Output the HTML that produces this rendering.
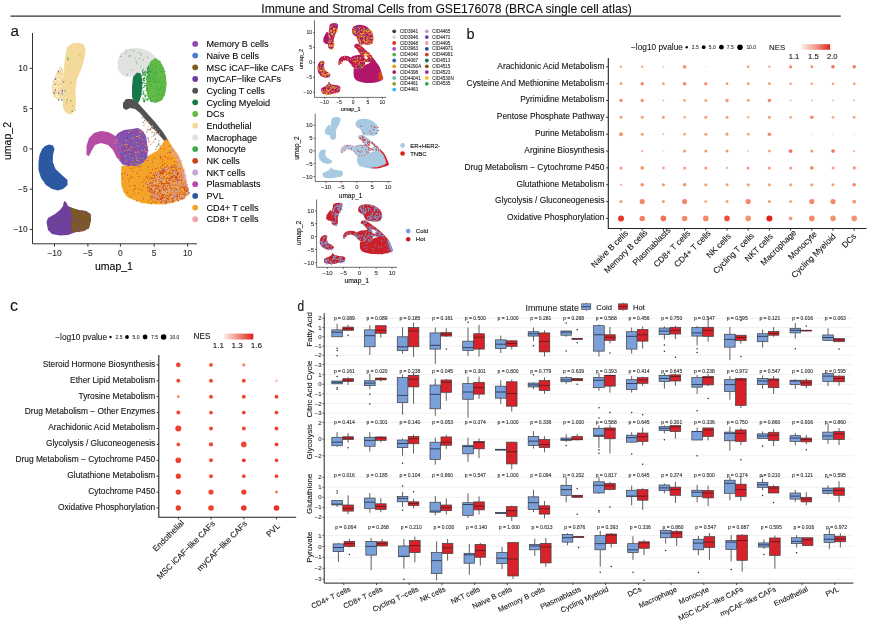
<!DOCTYPE html>
<html><head><meta charset="utf-8"><title>Immune and Stromal Cells from GSE176078</title>
<style>html,body{margin:0;padding:0;background:#fff;}svg{display:block;}
text{font-family:'Liberation Sans', Arial, Helvetica, sans-serif;stroke:#000;stroke-width:0.18px;stroke-opacity:0.45;}</style></head>
<body><svg width="869" height="624" viewBox="0 0 869 624">
<rect width="869" height="624" fill="#fff"/>
<defs><linearGradient id="gb" x1="0" x2="1" y1="0" y2="0"><stop offset="0" stop-color="#FDF0EA"/><stop offset="0.5" stop-color="#F29B8C"/><stop offset="1" stop-color="#E4241E"/></linearGradient><linearGradient id="gc" x1="0" x2="1" y1="0" y2="0"><stop offset="0" stop-color="#FDF0EA"/><stop offset="0.5" stop-color="#F08A7C"/><stop offset="1" stop-color="#E21F1D"/></linearGradient></defs>
<text x="446.6" y="12.6" font-size="12.15" text-anchor="middle" fill="#111">Immune and Stromal Cells from GSE176078 (BRCA single cell atlas)</text>
<path d="M10.4 16.2H840.8" stroke="#333" stroke-width="1.3"/>
<text transform="translate(10.5,35.9) scale(1,1)" font-size="15.2" fill="#111">a</text>
<text transform="translate(466.6,39.2) scale(0.97,1)" font-size="15.0" fill="#111">b</text>
<text transform="translate(9.9,311.3) scale(1,1)" font-size="16.0" fill="#111">c</text>
<text transform="translate(297.6,311.0) scale(0.8,1)" font-size="15.0" fill="#111">d</text>
<polygon points="67.0,47.0 72.0,43.5 78.0,42.8 83.0,44.0 85.5,48.0 85.0,54.0 83.5,62.0 81.0,70.0 77.0,79.0 75.5,90.0 76.0,102.0 75.0,110.0 71.0,114.5 66.0,113.0 63.0,108.0 62.5,96.0 63.0,80.0 64.5,62.0 66.0,52.0" fill="#F3DA9B"/>
<polygon points="60.5,66.0 63.5,70.0 63.5,100.0 58.0,99.5 54.0,97.0 51.8,92.0 52.0,84.0 54.0,78.0 57.0,72.0" fill="#F3DA9B"/>
<path d="M59.4 68.5h1.0v1.0h-1.0zM58.1 78.4h1.0v1.0h-1.0zM52.5 83.3h1.0v1.0h-1.0zM56.8 94.1h1.0v1.0h-1.0zM59.1 98.2h1.0v1.0h-1.0zM58.6 79.5h1.0v1.0h-1.0zM61.8 75.8h1.0v1.0h-1.0zM55.4 93.7h1.0v1.0h-1.0zM53.9 85.8h1.0v1.0h-1.0zM59.3 78.7h1.0v1.0h-1.0zM59.8 80.5h1.0v1.0h-1.0zM55.5 85.9h1.0v1.0h-1.0zM57.1 76.2h1.0v1.0h-1.0zM61.1 89.8h1.0v1.0h-1.0zM54.7 85.5h1.0v1.0h-1.0zM57.9 95.8h1.0v1.0h-1.0zM60.3 75.8h1.0v1.0h-1.0zM63.3 70.0h1.0v1.0h-1.0zM56.7 91.7h1.0v1.0h-1.0zM53.6 82.6h1.0v1.0h-1.0zM52.3 88.7h1.0v1.0h-1.0zM60.7 85.5h1.0v1.0h-1.0zM62.0 76.7h1.0v1.0h-1.0zM59.9 86.2h1.0v1.0h-1.0zM58.6 81.5h1.0v1.0h-1.0zM61.6 98.1h1.0v1.0h-1.0zM57.3 88.6h1.0v1.0h-1.0zM52.5 89.9h1.0v1.0h-1.0zM61.4 75.7h1.0v1.0h-1.0zM56.3 88.7h1.0v1.0h-1.0zM52.5 92.1h1.0v1.0h-1.0zM56.4 95.6h1.0v1.0h-1.0zM58.2 96.0h1.0v1.0h-1.0zM61.4 95.4h1.0v1.0h-1.0zM55.1 80.1h1.0v1.0h-1.0zM56.0 96.1h1.0v1.0h-1.0zM63.0 71.1h1.0v1.0h-1.0zM54.5 82.5h1.0v1.0h-1.0zM58.7 74.9h1.0v1.0h-1.0zM56.1 85.3h1.0v1.0h-1.0zM63.0 89.5h1.0v1.0h-1.0zM57.8 87.0h1.0v1.0h-1.0zM59.7 67.8h1.0v1.0h-1.0zM62.3 92.5h1.0v1.0h-1.0zM62.0 93.1h1.0v1.0h-1.0zM56.4 79.6h1.0v1.0h-1.0zM53.0 87.6h1.0v1.0h-1.0zM59.0 71.1h1.0v1.0h-1.0zM54.8 77.8h1.0v1.0h-1.0zM61.7 99.8h1.0v1.0h-1.0zM57.3 82.5h1.0v1.0h-1.0zM55.8 75.0h1.0v1.0h-1.0zM61.5 71.5h1.0v1.0h-1.0z" fill="#FFFFFF"/>
<path d="M58.0 71.0h1.2v1.2h-1.2zM58.0 99.3h1.2v1.2h-1.2zM61.9 89.7h1.2v1.2h-1.2zM54.9 78.5h1.2v1.2h-1.2zM53.8 92.2h1.2v1.2h-1.2zM58.0 92.5h1.2v1.2h-1.2zM61.3 99.5h1.2v1.2h-1.2zM61.8 93.4h1.2v1.2h-1.2z" fill="#2C58A2"/>
<path d="M61.4 91.2h1.2v1.2h-1.2zM54.5 83.6h1.2v1.2h-1.2zM54.8 89.5h1.2v1.2h-1.2zM63.0 81.2h1.2v1.2h-1.2z" fill="#B54CA6"/>
<path d="M67.6 59.1h1.2v1.2h-1.2zM67.0 57.5h1.2v1.2h-1.2zM64.4 90.2h1.2v1.2h-1.2zM66.6 99.4h1.2v1.2h-1.2zM70.1 100.2h1.2v1.2h-1.2zM71.7 110.7h1.2v1.2h-1.2z" fill="#3BAA4B"/>
<path d="M79.2 55.0h1.2v1.2h-1.2zM65.9 102.1h1.2v1.2h-1.2zM70.6 82.1h1.2v1.2h-1.2zM74.6 109.7h1.2v1.2h-1.2zM72.5 105.3h1.2v1.2h-1.2zM81.5 57.9h1.2v1.2h-1.2z" fill="#F4A424"/>
<polygon points="117.5,62.0 120.0,54.0 126.0,49.5 134.0,48.0 142.0,48.5 150.0,52.0 156.0,57.0 161.0,64.0 163.0,70.0 160.0,74.0 150.0,72.0 140.0,73.0 133.0,76.0 126.0,77.0 121.0,74.0 118.0,69.0" fill="#E1E1E1"/>
<polygon points="150.0,62.0 155.0,58.0 160.0,61.0 164.0,68.0 166.0,76.0 166.5,85.0 165.0,95.0 161.0,101.0 155.0,103.0 150.0,101.0 147.0,95.0 146.0,85.0 147.0,75.0 148.0,68.0" fill="#63BA47"/>
<path d="M151.2 71.2h1v1h-1zM150.9 84.4h1v1h-1zM151.3 76.9h1v1h-1zM153.3 78.6h1v1h-1zM158.0 98.7h1v1h-1zM154.6 99.3h1v1h-1zM156.3 81.9h1v1h-1zM155.0 66.2h1v1h-1zM149.5 79.3h1v1h-1zM160.9 83.0h1v1h-1zM152.7 81.3h1v1h-1zM157.4 93.3h1v1h-1zM148.2 83.2h1v1h-1zM151.1 70.5h1v1h-1zM161.8 80.8h1v1h-1zM157.5 92.2h1v1h-1zM164.7 77.9h1v1h-1zM158.6 80.7h1v1h-1zM156.5 89.2h1v1h-1zM155.3 82.0h1v1h-1zM155.8 100.4h1v1h-1zM160.3 97.4h1v1h-1zM157.5 100.4h1v1h-1zM148.5 77.9h1v1h-1zM147.5 88.1h1v1h-1zM162.1 98.4h1v1h-1zM149.2 90.2h1v1h-1zM159.5 64.4h1v1h-1zM150.5 100.9h1v1h-1zM154.2 79.9h1v1h-1zM149.3 77.4h1v1h-1zM156.6 73.3h1v1h-1zM150.0 72.3h1v1h-1zM157.4 77.8h1v1h-1zM158.8 81.1h1v1h-1zM148.1 70.0h1v1h-1zM146.8 93.1h1v1h-1zM151.5 63.8h1v1h-1zM154.7 99.0h1v1h-1zM162.8 69.6h1v1h-1zM157.7 89.5h1v1h-1zM160.1 77.1h1v1h-1zM159.0 94.1h1v1h-1zM155.3 73.3h1v1h-1zM157.3 99.7h1v1h-1zM151.5 63.8h1v1h-1zM156.8 68.7h1v1h-1zM152.4 71.7h1v1h-1zM161.6 71.0h1v1h-1zM156.3 66.0h1v1h-1zM161.0 82.8h1v1h-1zM149.9 79.4h1v1h-1zM162.8 77.4h1v1h-1zM156.1 95.6h1v1h-1zM154.1 80.8h1v1h-1zM153.0 95.5h1v1h-1zM160.5 86.6h1v1h-1zM154.3 73.6h1v1h-1zM147.4 91.3h1v1h-1zM151.2 65.3h1v1h-1zM147.7 95.9h1v1h-1zM163.8 88.2h1v1h-1zM151.8 68.9h1v1h-1zM152.0 78.7h1v1h-1zM149.2 78.1h1v1h-1zM151.4 101.3h1v1h-1zM165.9 82.6h1v1h-1zM152.3 74.0h1v1h-1zM155.7 80.6h1v1h-1zM150.1 80.7h1v1h-1zM147.8 76.0h1v1h-1zM152.2 68.5h1v1h-1zM158.0 81.8h1v1h-1zM161.4 87.6h1v1h-1zM160.7 97.6h1v1h-1zM154.0 72.7h1v1h-1zM160.8 86.9h1v1h-1zM164.3 86.2h1v1h-1zM161.0 94.5h1v1h-1zM148.9 81.6h1v1h-1zM156.3 95.6h1v1h-1zM162.5 95.2h1v1h-1zM158.0 98.2h1v1h-1zM160.0 89.2h1v1h-1zM148.7 74.2h1v1h-1zM148.2 95.6h1v1h-1zM157.4 86.2h1v1h-1zM158.8 88.6h1v1h-1zM162.4 91.7h1v1h-1zM156.3 82.1h1v1h-1zM159.5 61.0h1v1h-1zM161.1 69.3h1v1h-1zM161.0 67.2h1v1h-1zM156.1 75.2h1v1h-1zM155.8 88.8h1v1h-1zM161.7 85.8h1v1h-1zM159.2 61.5h1v1h-1zM149.0 69.4h1v1h-1zM161.2 71.7h1v1h-1zM159.8 89.1h1v1h-1zM159.9 71.1h1v1h-1zM156.6 78.9h1v1h-1zM155.6 63.3h1v1h-1zM155.2 70.1h1v1h-1zM150.3 100.6h1v1h-1zM150.3 84.2h1v1h-1zM148.9 81.6h1v1h-1zM162.8 80.9h1v1h-1zM164.2 89.7h1v1h-1zM150.7 98.4h1v1h-1zM156.0 59.1h1v1h-1zM155.2 71.6h1v1h-1zM148.9 73.5h1v1h-1zM152.5 95.8h1v1h-1zM165.0 90.1h1v1h-1zM164.5 71.0h1v1h-1zM153.6 75.7h1v1h-1zM153.4 77.3h1v1h-1zM148.1 95.6h1v1h-1zM151.9 100.1h1v1h-1z" fill="#3BAA4B"/>
<path d="M128.8 55.7h1v1h-1zM140.7 53.5h1v1h-1zM157.7 71.5h1v1h-1zM160.3 63.9h1v1h-1zM150.8 61.1h1v1h-1zM151.7 66.7h1v1h-1zM130.5 49.4h1v1h-1zM139.0 58.0h1v1h-1zM131.0 69.4h1v1h-1zM147.3 56.7h1v1h-1zM142.9 59.4h1v1h-1zM125.1 52.7h1v1h-1zM127.0 74.3h1v1h-1zM140.1 54.4h1v1h-1zM138.0 52.0h1v1h-1zM126.3 50.6h1v1h-1zM133.1 50.6h1v1h-1zM128.4 55.5h1v1h-1zM151.6 60.0h1v1h-1zM136.3 63.2h1v1h-1zM134.6 57.8h1v1h-1zM120.3 56.0h1v1h-1zM140.4 66.3h1v1h-1zM129.8 55.2h1v1h-1zM135.7 60.9h1v1h-1z" fill="#63BA47"/>
<path d="M144.5 99.2h1.1v1.1h-1.1zM142.0 69.9h1.1v1.1h-1.1zM145.7 89.9h1.1v1.1h-1.1zM146.8 93.1h1.1v1.1h-1.1zM145.1 85.0h1.1v1.1h-1.1zM141.4 93.7h1.1v1.1h-1.1zM143.1 99.0h1.1v1.1h-1.1zM146.8 75.5h1.1v1.1h-1.1zM142.2 73.6h1.1v1.1h-1.1zM146.7 90.5h1.1v1.1h-1.1zM145.7 86.1h1.1v1.1h-1.1zM144.5 72.5h1.1v1.1h-1.1zM143.7 81.5h1.1v1.1h-1.1zM143.1 73.4h1.1v1.1h-1.1zM145.5 89.6h1.1v1.1h-1.1zM144.8 73.8h1.1v1.1h-1.1zM147.0 99.2h1.1v1.1h-1.1zM144.0 80.0h1.1v1.1h-1.1zM147.1 71.5h1.1v1.1h-1.1zM145.5 71.8h1.1v1.1h-1.1zM148.4 72.8h1.1v1.1h-1.1zM143.0 92.9h1.1v1.1h-1.1zM143.7 100.2h1.1v1.1h-1.1zM145.5 71.1h1.1v1.1h-1.1zM143.0 79.8h1.1v1.1h-1.1zM147.0 100.1h1.1v1.1h-1.1zM142.3 79.0h1.1v1.1h-1.1zM142.9 101.0h1.1v1.1h-1.1zM142.7 99.6h1.1v1.1h-1.1zM147.7 65.2h1.1v1.1h-1.1zM147.0 78.4h1.1v1.1h-1.1zM144.4 76.6h1.1v1.1h-1.1zM143.5 77.4h1.1v1.1h-1.1zM144.2 95.2h1.1v1.1h-1.1zM144.4 98.9h1.1v1.1h-1.1zM142.7 77.8h1.1v1.1h-1.1zM144.7 94.8h1.1v1.1h-1.1zM147.9 65.5h1.1v1.1h-1.1zM147.7 98.1h1.1v1.1h-1.1zM144.1 74.3h1.1v1.1h-1.1zM143.4 91.2h1.1v1.1h-1.1zM143.8 74.5h1.1v1.1h-1.1zM143.1 82.1h1.1v1.1h-1.1zM144.5 73.5h1.1v1.1h-1.1zM144.9 82.8h1.1v1.1h-1.1z" fill="#63BA47"/>
<path d="M149.4 71.0h1.1v1.1h-1.1zM146.5 76.5h1.1v1.1h-1.1zM143.9 77.8h1.1v1.1h-1.1zM148.0 67.0h1.1v1.1h-1.1zM142.8 92.6h1.1v1.1h-1.1zM143.9 101.2h1.1v1.1h-1.1zM141.9 82.9h1.1v1.1h-1.1zM147.4 81.0h1.1v1.1h-1.1zM143.1 79.8h1.1v1.1h-1.1zM146.6 89.6h1.1v1.1h-1.1zM147.0 68.6h1.1v1.1h-1.1zM148.6 75.2h1.1v1.1h-1.1zM146.1 78.2h1.1v1.1h-1.1zM147.6 71.6h1.1v1.1h-1.1zM143.2 73.3h1.1v1.1h-1.1zM142.4 97.6h1.1v1.1h-1.1zM146.2 76.4h1.1v1.1h-1.1zM145.6 72.8h1.1v1.1h-1.1zM145.3 95.1h1.1v1.1h-1.1zM141.4 75.2h1.1v1.1h-1.1zM142.1 71.2h1.1v1.1h-1.1zM143.3 93.6h1.1v1.1h-1.1zM146.4 87.6h1.1v1.1h-1.1zM143.0 78.0h1.1v1.1h-1.1zM142.3 71.8h1.1v1.1h-1.1zM143.3 86.8h1.1v1.1h-1.1zM146.9 71.7h1.1v1.1h-1.1zM147.1 71.0h1.1v1.1h-1.1zM143.8 71.7h1.1v1.1h-1.1zM144.6 84.9h1.1v1.1h-1.1zM146.8 67.5h1.1v1.1h-1.1zM142.5 90.4h1.1v1.1h-1.1zM144.7 74.8h1.1v1.1h-1.1zM143.8 100.2h1.1v1.1h-1.1zM143.8 85.5h1.1v1.1h-1.1z" fill="#17794A"/>
<path d="M144.2 79.8h1.1v1.1h-1.1zM144.3 71.5h1.1v1.1h-1.1zM147.6 71.7h1.1v1.1h-1.1zM144.8 95.2h1.1v1.1h-1.1zM144.7 97.5h1.1v1.1h-1.1zM145.1 70.2h1.1v1.1h-1.1zM146.8 98.6h1.1v1.1h-1.1zM141.8 87.6h1.1v1.1h-1.1zM144.3 83.2h1.1v1.1h-1.1zM142.3 74.8h1.1v1.1h-1.1zM145.7 99.2h1.1v1.1h-1.1zM142.0 82.6h1.1v1.1h-1.1zM142.8 68.8h1.1v1.1h-1.1zM148.4 70.1h1.1v1.1h-1.1zM148.1 72.4h1.1v1.1h-1.1zM144.6 96.2h1.1v1.1h-1.1zM148.5 71.0h1.1v1.1h-1.1zM143.0 79.2h1.1v1.1h-1.1zM145.7 78.6h1.1v1.1h-1.1zM142.1 73.4h1.1v1.1h-1.1zM147.5 98.1h1.1v1.1h-1.1zM147.8 65.4h1.1v1.1h-1.1zM148.5 68.5h1.1v1.1h-1.1zM146.4 84.9h1.1v1.1h-1.1zM146.6 75.6h1.1v1.1h-1.1z" fill="#3BAA4B"/>
<polygon points="133.0,77.0 137.0,72.5 141.0,73.5 142.5,82.0 141.5,95.0 139.0,102.0 135.0,104.0 132.0,97.0 132.0,86.0" fill="#17794A"/>
<polygon points="123.0,103.0 126.0,99.0 132.0,99.0 138.0,103.0 146.0,112.0 155.0,122.0 163.0,132.0 168.0,140.0 166.0,143.0 160.0,136.0 152.0,127.0 145.0,119.0 140.0,113.0 135.0,109.0 130.0,108.0 126.0,110.0 123.0,108.0" fill="#525252"/>
<polygon points="121.5,166.0 128.0,165.0 136.0,166.0 143.0,163.0 148.0,156.0 153.0,153.0 157.0,151.0 161.0,146.0 164.0,141.0 167.0,139.0 170.0,143.0 174.0,149.0 178.0,155.0 181.0,161.0 184.0,170.0 186.0,180.0 188.0,188.0 189.5,193.0 186.0,197.0 180.0,200.0 172.0,203.0 162.0,204.5 150.0,204.0 142.0,203.0 134.0,200.0 128.0,197.5 124.0,193.0 121.5,186.0 121.0,176.0" fill="#F4A424"/>
<polygon points="114.0,138.0 118.0,133.0 124.0,130.0 132.0,129.0 138.0,128.0 143.0,131.0 146.0,136.0 147.0,142.0 148.0,150.0 147.0,158.0 143.0,163.0 136.0,166.0 128.0,166.0 122.0,164.0 117.0,157.0 115.0,148.0" fill="#8E4CAA"/>
<polygon points="86.5,155.0 86.5,146.0 89.0,138.0 94.0,133.0 101.0,131.0 108.0,132.0 114.0,135.0 118.0,139.0 121.0,146.0 122.0,155.0 120.0,160.0 117.0,158.0 113.0,150.0 108.0,145.0 101.0,143.0 95.0,145.0 92.0,150.0 89.0,156.0" fill="#B54CA6"/>
<path d="M128.3 150.1h1v1h-1zM128.5 153.0h1v1h-1zM129.2 144.7h1v1h-1zM130.6 136.9h1v1h-1zM140.0 157.6h1v1h-1zM129.6 134.8h1v1h-1zM130.1 132.1h1v1h-1zM118.4 144.4h1v1h-1zM117.1 144.8h1v1h-1zM131.3 129.5h1v1h-1zM135.6 131.1h1v1h-1zM138.9 157.6h1v1h-1zM131.4 130.1h1v1h-1zM131.1 142.4h1v1h-1zM138.9 159.0h1v1h-1zM130.7 164.4h1v1h-1zM140.8 163.4h1v1h-1zM116.2 141.3h1v1h-1zM139.7 134.0h1v1h-1zM144.5 138.4h1v1h-1zM141.7 133.5h1v1h-1zM131.1 163.0h1v1h-1zM121.1 138.0h1v1h-1zM131.2 140.1h1v1h-1zM137.1 162.0h1v1h-1zM119.7 157.8h1v1h-1zM117.9 148.2h1v1h-1zM135.6 141.7h1v1h-1zM143.7 149.1h1v1h-1zM133.7 161.5h1v1h-1zM135.4 143.0h1v1h-1zM141.1 138.1h1v1h-1zM147.7 149.9h1v1h-1zM126.2 157.1h1v1h-1zM129.0 134.7h1v1h-1zM139.3 129.8h1v1h-1zM141.9 137.6h1v1h-1zM135.7 165.4h1v1h-1zM133.9 153.2h1v1h-1zM134.9 144.4h1v1h-1zM131.4 162.0h1v1h-1zM118.5 136.6h1v1h-1zM136.2 128.8h1v1h-1zM117.6 141.6h1v1h-1zM121.6 150.2h1v1h-1zM134.0 135.8h1v1h-1zM135.2 146.0h1v1h-1zM122.3 133.7h1v1h-1zM117.3 152.3h1v1h-1zM143.6 157.7h1v1h-1zM127.7 138.0h1v1h-1zM133.1 141.3h1v1h-1zM136.0 144.9h1v1h-1zM145.9 155.9h1v1h-1zM122.4 162.3h1v1h-1zM115.5 148.2h1v1h-1zM127.8 137.0h1v1h-1zM120.8 151.1h1v1h-1zM131.2 152.4h1v1h-1zM141.7 134.6h1v1h-1zM124.5 139.4h1v1h-1zM140.6 155.2h1v1h-1zM139.3 145.7h1v1h-1zM139.2 145.2h1v1h-1zM121.7 132.0h1v1h-1zM125.4 156.5h1v1h-1zM137.6 160.1h1v1h-1zM138.2 138.1h1v1h-1zM132.8 144.6h1v1h-1zM140.8 147.9h1v1h-1zM123.0 152.4h1v1h-1zM122.9 137.0h1v1h-1zM139.3 163.9h1v1h-1zM139.4 140.4h1v1h-1zM143.9 140.5h1v1h-1zM122.1 162.5h1v1h-1zM135.4 154.3h1v1h-1zM136.6 165.2h1v1h-1zM130.0 159.9h1v1h-1zM137.7 160.6h1v1h-1zM128.9 155.5h1v1h-1zM133.4 139.7h1v1h-1zM121.2 151.7h1v1h-1zM125.7 133.4h1v1h-1zM137.5 152.1h1v1h-1zM137.7 156.0h1v1h-1zM116.2 150.4h1v1h-1zM126.4 159.1h1v1h-1zM141.9 161.9h1v1h-1zM117.6 135.8h1v1h-1zM142.8 158.9h1v1h-1zM135.6 159.4h1v1h-1zM135.5 138.9h1v1h-1zM139.8 135.8h1v1h-1zM124.9 144.1h1v1h-1zM114.7 137.8h1v1h-1zM123.6 155.2h1v1h-1zM126.5 140.2h1v1h-1zM146.8 147.1h1v1h-1zM142.9 151.5h1v1h-1zM115.1 143.7h1v1h-1zM128.8 157.4h1v1h-1zM125.8 154.8h1v1h-1zM132.3 136.2h1v1h-1zM141.9 134.5h1v1h-1zM130.7 158.3h1v1h-1zM120.3 146.8h1v1h-1zM125.8 159.6h1v1h-1zM122.9 163.9h1v1h-1zM123.6 136.2h1v1h-1zM137.8 146.9h1v1h-1zM117.7 152.2h1v1h-1zM137.7 157.9h1v1h-1zM135.3 141.5h1v1h-1zM127.6 143.0h1v1h-1zM121.0 138.0h1v1h-1zM144.6 147.0h1v1h-1zM126.9 161.6h1v1h-1zM121.9 145.5h1v1h-1zM132.1 156.7h1v1h-1zM139.6 152.6h1v1h-1zM125.8 140.4h1v1h-1zM119.3 160.0h1v1h-1zM136.5 156.2h1v1h-1zM119.8 144.7h1v1h-1zM140.3 150.0h1v1h-1zM118.3 145.6h1v1h-1zM144.1 137.0h1v1h-1zM120.5 139.5h1v1h-1zM137.9 160.1h1v1h-1zM119.3 133.9h1v1h-1zM122.4 140.4h1v1h-1zM131.8 134.1h1v1h-1zM125.2 135.2h1v1h-1zM147.2 155.7h1v1h-1zM117.5 142.6h1v1h-1zM138.9 144.5h1v1h-1zM120.7 152.2h1v1h-1zM117.6 135.8h1v1h-1zM127.6 158.1h1v1h-1zM137.6 147.0h1v1h-1zM135.5 145.6h1v1h-1zM118.8 150.9h1v1h-1zM127.8 156.2h1v1h-1zM144.9 144.3h1v1h-1zM133.5 156.5h1v1h-1zM128.3 136.7h1v1h-1zM138.6 161.4h1v1h-1zM140.3 154.6h1v1h-1zM143.0 153.8h1v1h-1z" fill="#4E7CC5"/>
<path d="M135.8 145.2h1v1h-1zM124.6 151.9h1v1h-1zM117.3 143.9h1v1h-1zM140.6 155.1h1v1h-1zM135.4 137.5h1v1h-1zM128.4 145.3h1v1h-1zM135.1 143.6h1v1h-1zM137.0 163.3h1v1h-1zM120.2 152.9h1v1h-1zM140.5 142.8h1v1h-1zM130.7 165.0h1v1h-1zM115.3 148.6h1v1h-1zM119.5 157.7h1v1h-1zM146.0 147.7h1v1h-1zM117.4 149.8h1v1h-1zM132.4 155.3h1v1h-1zM131.4 152.3h1v1h-1zM142.2 147.8h1v1h-1zM128.0 164.0h1v1h-1zM121.1 154.0h1v1h-1zM127.3 157.0h1v1h-1zM126.1 130.2h1v1h-1zM123.3 143.2h1v1h-1zM128.3 154.5h1v1h-1zM126.0 138.1h1v1h-1zM121.6 156.2h1v1h-1zM146.0 148.0h1v1h-1zM121.4 158.5h1v1h-1zM127.3 136.1h1v1h-1zM118.4 157.5h1v1h-1zM141.5 152.1h1v1h-1zM130.0 149.4h1v1h-1zM126.0 152.3h1v1h-1zM141.8 159.0h1v1h-1zM129.9 139.2h1v1h-1zM132.6 132.8h1v1h-1zM142.3 141.5h1v1h-1zM142.9 138.2h1v1h-1zM126.8 137.6h1v1h-1zM128.5 135.1h1v1h-1zM123.6 137.3h1v1h-1zM124.3 146.2h1v1h-1zM128.6 152.2h1v1h-1zM136.4 141.8h1v1h-1zM144.8 157.8h1v1h-1zM135.5 128.6h1v1h-1zM136.3 137.5h1v1h-1zM121.9 157.5h1v1h-1zM125.8 133.8h1v1h-1zM144.7 158.1h1v1h-1zM134.7 157.7h1v1h-1zM136.7 162.0h1v1h-1zM140.8 159.9h1v1h-1zM120.7 154.3h1v1h-1zM132.0 156.2h1v1h-1zM128.9 161.5h1v1h-1zM132.9 138.1h1v1h-1zM122.0 133.3h1v1h-1zM130.8 130.2h1v1h-1zM129.9 133.5h1v1h-1z" fill="#6F3FA0"/>
<path d="M130.7 146.9h1v1h-1zM132.3 160.8h1v1h-1zM129.9 149.4h1v1h-1zM136.6 159.9h1v1h-1zM126.7 143.9h1v1h-1zM135.7 152.2h1v1h-1zM137.2 163.4h1v1h-1zM131.4 146.4h1v1h-1zM138.4 151.8h1v1h-1zM125.5 160.7h1v1h-1zM126.4 146.0h1v1h-1zM131.9 157.3h1v1h-1zM121.2 144.5h1v1h-1zM128.4 149.1h1v1h-1zM142.1 139.1h1v1h-1zM142.1 143.3h1v1h-1zM131.1 138.3h1v1h-1zM131.2 165.0h1v1h-1zM136.3 158.1h1v1h-1zM125.3 140.0h1v1h-1zM124.2 150.3h1v1h-1zM135.6 157.8h1v1h-1zM144.1 148.7h1v1h-1zM115.7 139.4h1v1h-1zM145.3 151.1h1v1h-1zM136.4 158.0h1v1h-1zM144.9 151.2h1v1h-1zM135.0 151.8h1v1h-1zM137.7 150.7h1v1h-1zM137.2 136.1h1v1h-1zM136.7 145.4h1v1h-1zM139.9 131.9h1v1h-1zM140.3 162.7h1v1h-1zM136.3 142.0h1v1h-1zM142.0 157.9h1v1h-1zM133.1 137.8h1v1h-1zM124.3 144.0h1v1h-1zM124.8 144.4h1v1h-1zM135.8 163.5h1v1h-1zM115.9 149.6h1v1h-1zM141.6 149.9h1v1h-1zM145.2 145.0h1v1h-1zM114.5 142.7h1v1h-1zM134.1 163.6h1v1h-1zM147.3 146.1h1v1h-1zM128.0 131.9h1v1h-1zM135.9 136.1h1v1h-1zM138.5 137.2h1v1h-1zM138.9 135.1h1v1h-1zM138.3 160.5h1v1h-1zM138.8 131.2h1v1h-1zM135.4 155.0h1v1h-1zM129.7 163.4h1v1h-1zM138.4 128.4h1v1h-1zM141.8 131.0h1v1h-1zM124.6 155.7h1v1h-1zM130.5 130.3h1v1h-1zM126.5 149.8h1v1h-1zM128.9 153.7h1v1h-1zM118.9 158.3h1v1h-1z" fill="#F4A424"/>
<path d="M145.9 181.2h1v1h-1zM164.1 166.4h1v1h-1zM147.4 190.5h1v1h-1zM185.7 190.4h1v1h-1zM159.8 158.2h1v1h-1zM169.2 193.2h1v1h-1zM143.7 178.7h1v1h-1zM188.0 193.4h1v1h-1zM162.2 159.2h1v1h-1zM150.4 197.2h1v1h-1zM146.8 183.9h1v1h-1zM162.2 197.7h1v1h-1zM176.3 157.6h1v1h-1zM149.9 177.4h1v1h-1zM176.9 197.1h1v1h-1zM176.6 195.8h1v1h-1zM160.2 156.9h1v1h-1zM179.3 191.9h1v1h-1zM167.9 198.9h1v1h-1zM158.9 191.2h1v1h-1zM134.7 188.1h1v1h-1zM162.6 183.4h1v1h-1zM138.4 188.2h1v1h-1zM175.2 169.1h1v1h-1zM127.0 191.8h1v1h-1zM173.9 154.3h1v1h-1zM160.7 197.7h1v1h-1zM181.6 173.2h1v1h-1zM153.6 177.6h1v1h-1zM133.4 184.9h1v1h-1zM145.9 176.0h1v1h-1zM148.6 172.9h1v1h-1zM128.3 180.4h1v1h-1zM161.9 161.6h1v1h-1zM180.3 170.9h1v1h-1zM159.9 156.1h1v1h-1zM174.4 166.9h1v1h-1zM185.8 189.3h1v1h-1zM159.2 196.0h1v1h-1zM152.4 201.0h1v1h-1zM162.0 165.0h1v1h-1zM138.6 176.0h1v1h-1zM164.9 201.6h1v1h-1zM166.9 164.7h1v1h-1zM182.8 198.2h1v1h-1zM174.9 185.5h1v1h-1zM165.3 203.5h1v1h-1zM172.7 200.5h1v1h-1zM167.4 158.6h1v1h-1zM161.5 188.6h1v1h-1zM167.4 139.8h1v1h-1zM170.1 151.8h1v1h-1zM136.1 200.2h1v1h-1zM180.4 197.2h1v1h-1zM130.6 168.3h1v1h-1zM178.7 180.2h1v1h-1zM152.0 161.3h1v1h-1zM177.4 170.3h1v1h-1zM164.0 148.4h1v1h-1zM169.9 175.2h1v1h-1zM130.9 196.0h1v1h-1zM139.2 166.0h1v1h-1zM178.5 160.9h1v1h-1zM132.5 171.2h1v1h-1zM142.8 198.2h1v1h-1zM166.8 152.8h1v1h-1zM153.7 157.7h1v1h-1zM170.8 158.2h1v1h-1zM176.3 161.3h1v1h-1zM178.0 173.5h1v1h-1zM133.7 167.5h1v1h-1zM160.1 148.0h1v1h-1zM133.3 189.5h1v1h-1zM169.7 151.9h1v1h-1zM162.7 171.5h1v1h-1zM163.0 185.4h1v1h-1zM176.6 177.2h1v1h-1zM171.2 165.7h1v1h-1zM176.5 161.0h1v1h-1zM178.7 195.6h1v1h-1zM183.3 170.2h1v1h-1zM133.7 193.5h1v1h-1zM146.4 178.0h1v1h-1zM121.3 173.0h1v1h-1zM151.5 172.8h1v1h-1zM129.3 185.8h1v1h-1zM176.9 195.7h1v1h-1zM143.0 185.6h1v1h-1zM147.1 188.2h1v1h-1zM156.2 173.7h1v1h-1zM138.2 192.5h1v1h-1zM168.9 151.8h1v1h-1zM122.2 178.3h1v1h-1zM160.5 173.3h1v1h-1zM169.1 145.7h1v1h-1zM180.6 186.0h1v1h-1zM154.8 171.8h1v1h-1zM161.5 195.4h1v1h-1zM131.1 176.5h1v1h-1zM172.1 149.8h1v1h-1zM177.6 200.4h1v1h-1zM147.6 166.5h1v1h-1zM178.5 173.4h1v1h-1zM148.1 200.7h1v1h-1zM174.2 161.2h1v1h-1zM150.8 203.3h1v1h-1zM176.1 198.8h1v1h-1zM176.8 194.5h1v1h-1zM124.7 172.9h1v1h-1zM138.1 166.6h1v1h-1zM164.3 162.9h1v1h-1zM150.7 172.1h1v1h-1zM187.4 189.9h1v1h-1zM185.2 180.5h1v1h-1zM176.4 196.9h1v1h-1zM164.9 156.4h1v1h-1zM167.5 156.9h1v1h-1zM158.1 199.5h1v1h-1zM163.6 155.4h1v1h-1zM156.6 167.4h1v1h-1zM141.9 181.4h1v1h-1zM129.2 177.9h1v1h-1zM139.4 169.6h1v1h-1zM141.1 165.6h1v1h-1zM127.0 174.8h1v1h-1zM178.5 179.0h1v1h-1zM160.1 181.6h1v1h-1zM134.8 185.5h1v1h-1zM152.6 174.9h1v1h-1zM163.0 169.7h1v1h-1zM136.2 172.6h1v1h-1zM147.2 177.4h1v1h-1zM159.1 171.2h1v1h-1zM141.2 189.6h1v1h-1zM180.7 167.8h1v1h-1zM151.1 187.2h1v1h-1zM186.7 187.4h1v1h-1zM145.1 183.2h1v1h-1zM163.2 194.7h1v1h-1zM177.3 172.9h1v1h-1zM171.6 187.7h1v1h-1zM173.0 170.1h1v1h-1zM174.8 185.4h1v1h-1zM173.4 177.4h1v1h-1zM155.1 202.1h1v1h-1zM160.2 166.4h1v1h-1zM174.7 196.2h1v1h-1zM162.6 163.9h1v1h-1zM152.0 169.0h1v1h-1zM170.5 158.2h1v1h-1zM147.8 175.4h1v1h-1zM147.3 160.1h1v1h-1zM174.9 194.6h1v1h-1zM155.2 168.1h1v1h-1zM130.9 176.7h1v1h-1zM178.8 193.9h1v1h-1zM150.2 198.6h1v1h-1zM159.7 171.6h1v1h-1zM184.0 189.7h1v1h-1zM156.4 172.9h1v1h-1z" fill="#C9431F"/>
<path d="M175.8 178.6h1.0v1.0h-1.0zM162.0 186.8h1.0v1.0h-1.0zM161.7 200.9h1.0v1.0h-1.0zM175.4 184.0h1.0v1.0h-1.0zM151.2 178.0h1.0v1.0h-1.0zM163.8 185.5h1.0v1.0h-1.0zM171.1 198.2h1.0v1.0h-1.0zM165.5 188.0h1.0v1.0h-1.0zM169.3 195.6h1.0v1.0h-1.0zM154.2 175.7h1.0v1.0h-1.0zM168.5 167.4h1.0v1.0h-1.0zM184.6 190.6h1.0v1.0h-1.0zM184.3 179.8h1.0v1.0h-1.0zM153.6 174.6h1.0v1.0h-1.0zM168.5 183.2h1.0v1.0h-1.0zM173.5 187.1h1.0v1.0h-1.0zM173.7 164.7h1.0v1.0h-1.0zM164.3 194.5h1.0v1.0h-1.0zM159.9 190.6h1.0v1.0h-1.0zM182.4 186.4h1.0v1.0h-1.0zM175.1 170.9h1.0v1.0h-1.0zM167.9 185.1h1.0v1.0h-1.0zM158.2 188.9h1.0v1.0h-1.0zM171.1 179.4h1.0v1.0h-1.0zM178.9 167.3h1.0v1.0h-1.0zM168.9 195.9h1.0v1.0h-1.0zM172.7 195.3h1.0v1.0h-1.0zM179.4 175.9h1.0v1.0h-1.0zM177.0 177.2h1.0v1.0h-1.0zM171.5 177.0h1.0v1.0h-1.0zM165.9 178.4h1.0v1.0h-1.0zM171.5 201.4h1.0v1.0h-1.0zM165.5 187.8h1.0v1.0h-1.0zM160.2 199.0h1.0v1.0h-1.0zM181.3 175.1h1.0v1.0h-1.0zM172.3 201.4h1.0v1.0h-1.0zM167.8 201.0h1.0v1.0h-1.0zM157.2 178.6h1.0v1.0h-1.0zM177.2 171.9h1.0v1.0h-1.0zM160.0 198.0h1.0v1.0h-1.0zM167.3 194.7h1.0v1.0h-1.0zM162.1 170.5h1.0v1.0h-1.0zM170.6 167.6h1.0v1.0h-1.0zM169.4 178.4h1.0v1.0h-1.0zM152.2 196.0h1.0v1.0h-1.0zM161.8 172.8h1.0v1.0h-1.0zM155.0 174.3h1.0v1.0h-1.0zM174.9 176.7h1.0v1.0h-1.0zM153.5 191.2h1.0v1.0h-1.0zM165.6 196.5h1.0v1.0h-1.0zM161.8 191.9h1.0v1.0h-1.0zM162.8 201.3h1.0v1.0h-1.0zM155.7 201.0h1.0v1.0h-1.0zM168.2 172.1h1.0v1.0h-1.0zM166.0 168.2h1.0v1.0h-1.0zM176.7 173.4h1.0v1.0h-1.0zM184.8 186.5h1.0v1.0h-1.0zM162.5 172.9h1.0v1.0h-1.0zM172.5 171.5h1.0v1.0h-1.0zM168.5 184.7h1.0v1.0h-1.0zM158.4 193.9h1.0v1.0h-1.0zM163.2 189.3h1.0v1.0h-1.0zM170.8 175.4h1.0v1.0h-1.0zM154.4 197.0h1.0v1.0h-1.0zM160.5 189.5h1.0v1.0h-1.0zM151.6 185.5h1.0v1.0h-1.0zM162.2 183.0h1.0v1.0h-1.0zM160.1 172.1h1.0v1.0h-1.0zM152.3 191.7h1.0v1.0h-1.0zM158.9 179.1h1.0v1.0h-1.0zM185.2 194.0h1.0v1.0h-1.0zM184.1 197.5h1.0v1.0h-1.0zM148.2 190.2h1.0v1.0h-1.0zM174.9 177.1h1.0v1.0h-1.0zM164.3 189.4h1.0v1.0h-1.0zM176.4 172.9h1.0v1.0h-1.0zM182.6 177.1h1.0v1.0h-1.0zM173.4 170.3h1.0v1.0h-1.0zM177.8 191.5h1.0v1.0h-1.0zM159.7 178.2h1.0v1.0h-1.0zM173.8 170.2h1.0v1.0h-1.0zM182.3 185.8h1.0v1.0h-1.0zM177.1 173.2h1.0v1.0h-1.0zM165.3 190.4h1.0v1.0h-1.0zM182.0 194.1h1.0v1.0h-1.0zM182.9 187.3h1.0v1.0h-1.0zM151.7 194.7h1.0v1.0h-1.0zM155.8 199.6h1.0v1.0h-1.0zM176.2 178.7h1.0v1.0h-1.0zM178.4 196.1h1.0v1.0h-1.0zM186.1 190.7h1.0v1.0h-1.0zM178.0 196.2h1.0v1.0h-1.0zM173.4 181.1h1.0v1.0h-1.0zM149.3 190.9h1.0v1.0h-1.0zM165.0 183.5h1.0v1.0h-1.0zM176.5 195.2h1.0v1.0h-1.0zM158.0 184.9h1.0v1.0h-1.0zM187.7 188.5h1.0v1.0h-1.0zM169.8 173.0h1.0v1.0h-1.0zM164.3 171.1h1.0v1.0h-1.0zM176.7 189.8h1.0v1.0h-1.0zM157.0 172.7h1.0v1.0h-1.0zM168.6 180.8h1.0v1.0h-1.0zM159.6 198.4h1.0v1.0h-1.0zM153.0 185.5h1.0v1.0h-1.0zM161.0 195.6h1.0v1.0h-1.0zM170.0 193.4h1.0v1.0h-1.0zM154.1 189.7h1.0v1.0h-1.0zM172.1 181.4h1.0v1.0h-1.0zM179.2 196.2h1.0v1.0h-1.0zM162.1 171.3h1.0v1.0h-1.0zM155.3 191.1h1.0v1.0h-1.0zM165.8 167.5h1.0v1.0h-1.0zM160.6 181.7h1.0v1.0h-1.0zM162.2 169.7h1.0v1.0h-1.0zM188.7 193.0h1.0v1.0h-1.0zM150.5 191.7h1.0v1.0h-1.0zM151.6 182.6h1.0v1.0h-1.0zM165.2 170.6h1.0v1.0h-1.0zM185.6 188.8h1.0v1.0h-1.0zM173.4 200.4h1.0v1.0h-1.0zM174.4 173.1h1.0v1.0h-1.0zM182.3 174.9h1.0v1.0h-1.0zM154.8 188.5h1.0v1.0h-1.0zM154.1 194.4h1.0v1.0h-1.0zM181.9 192.7h1.0v1.0h-1.0zM160.7 170.4h1.0v1.0h-1.0zM181.7 175.8h1.0v1.0h-1.0zM162.5 185.0h1.0v1.0h-1.0zM162.5 196.3h1.0v1.0h-1.0zM170.8 188.1h1.0v1.0h-1.0zM181.4 191.2h1.0v1.0h-1.0zM167.8 183.0h1.0v1.0h-1.0zM153.6 175.0h1.0v1.0h-1.0zM171.4 166.2h1.0v1.0h-1.0zM175.9 169.5h1.0v1.0h-1.0zM165.6 201.8h1.0v1.0h-1.0zM165.5 170.6h1.0v1.0h-1.0zM182.3 197.2h1.0v1.0h-1.0zM180.1 180.0h1.0v1.0h-1.0zM158.9 189.5h1.0v1.0h-1.0zM168.6 179.8h1.0v1.0h-1.0zM161.2 180.5h1.0v1.0h-1.0zM175.0 196.0h1.0v1.0h-1.0zM159.4 180.7h1.0v1.0h-1.0zM170.7 176.9h1.0v1.0h-1.0zM160.6 181.4h1.0v1.0h-1.0zM187.4 187.8h1.0v1.0h-1.0zM175.4 187.4h1.0v1.0h-1.0zM159.5 185.8h1.0v1.0h-1.0zM174.2 175.0h1.0v1.0h-1.0zM161.4 198.4h1.0v1.0h-1.0zM175.5 180.9h1.0v1.0h-1.0zM150.6 189.4h1.0v1.0h-1.0zM162.6 186.2h1.0v1.0h-1.0zM164.5 184.2h1.0v1.0h-1.0zM170.7 178.9h1.0v1.0h-1.0zM184.4 184.9h1.0v1.0h-1.0zM151.7 197.5h1.0v1.0h-1.0zM169.3 173.1h1.0v1.0h-1.0zM167.5 185.2h1.0v1.0h-1.0zM156.5 185.9h1.0v1.0h-1.0zM151.7 183.5h1.0v1.0h-1.0zM171.7 166.2h1.0v1.0h-1.0zM165.5 197.5h1.0v1.0h-1.0zM170.1 191.6h1.0v1.0h-1.0zM178.8 167.6h1.0v1.0h-1.0zM188.6 191.9h1.0v1.0h-1.0zM151.3 196.2h1.0v1.0h-1.0zM163.5 169.9h1.0v1.0h-1.0zM179.5 168.5h1.0v1.0h-1.0zM156.9 177.9h1.0v1.0h-1.0zM147.6 186.8h1.0v1.0h-1.0zM156.0 175.0h1.0v1.0h-1.0zM176.7 180.0h1.0v1.0h-1.0zM184.3 187.8h1.0v1.0h-1.0zM183.6 185.5h1.0v1.0h-1.0zM154.1 192.8h1.0v1.0h-1.0zM161.3 193.5h1.0v1.0h-1.0zM175.6 196.0h1.0v1.0h-1.0zM152.2 177.9h1.0v1.0h-1.0zM172.4 167.0h1.0v1.0h-1.0zM170.1 195.1h1.0v1.0h-1.0zM175.4 173.2h1.0v1.0h-1.0zM155.1 180.9h1.0v1.0h-1.0zM182.2 186.3h1.0v1.0h-1.0zM151.6 195.0h1.0v1.0h-1.0zM154.8 185.2h1.0v1.0h-1.0zM159.2 190.5h1.0v1.0h-1.0zM163.0 168.8h1.0v1.0h-1.0zM183.8 184.5h1.0v1.0h-1.0zM176.0 195.3h1.0v1.0h-1.0zM161.4 169.0h1.0v1.0h-1.0zM168.1 197.9h1.0v1.0h-1.0zM154.7 195.7h1.0v1.0h-1.0zM175.5 178.7h1.0v1.0h-1.0zM167.0 169.3h1.0v1.0h-1.0zM182.5 178.7h1.0v1.0h-1.0zM183.7 187.4h1.0v1.0h-1.0zM156.1 198.8h1.0v1.0h-1.0zM171.7 164.7h1.0v1.0h-1.0zM154.1 177.4h1.0v1.0h-1.0zM166.6 186.1h1.0v1.0h-1.0zM163.3 177.1h1.0v1.0h-1.0zM147.3 186.2h1.0v1.0h-1.0zM166.3 202.5h1.0v1.0h-1.0zM175.2 173.9h1.0v1.0h-1.0zM158.5 183.0h1.0v1.0h-1.0zM158.0 185.8h1.0v1.0h-1.0zM169.2 201.3h1.0v1.0h-1.0zM170.5 193.8h1.0v1.0h-1.0zM183.6 194.0h1.0v1.0h-1.0zM173.6 188.4h1.0v1.0h-1.0zM162.2 174.3h1.0v1.0h-1.0zM180.4 197.9h1.0v1.0h-1.0zM186.4 190.3h1.0v1.0h-1.0zM159.8 193.5h1.0v1.0h-1.0zM178.1 183.4h1.0v1.0h-1.0zM173.7 177.0h1.0v1.0h-1.0zM170.1 179.2h1.0v1.0h-1.0zM167.2 177.7h1.0v1.0h-1.0zM157.2 172.4h1.0v1.0h-1.0zM161.7 168.4h1.0v1.0h-1.0zM166.0 180.8h1.0v1.0h-1.0zM170.9 175.1h1.0v1.0h-1.0zM159.7 175.3h1.0v1.0h-1.0zM177.5 185.1h1.0v1.0h-1.0zM185.7 186.3h1.0v1.0h-1.0zM162.0 194.0h1.0v1.0h-1.0zM165.0 197.7h1.0v1.0h-1.0zM149.8 182.4h1.0v1.0h-1.0zM176.6 171.7h1.0v1.0h-1.0zM163.8 171.0h1.0v1.0h-1.0zM172.3 197.6h1.0v1.0h-1.0zM174.2 170.9h1.0v1.0h-1.0zM172.2 166.2h1.0v1.0h-1.0zM181.0 198.0h1.0v1.0h-1.0zM161.3 168.5h1.0v1.0h-1.0zM154.9 184.5h1.0v1.0h-1.0zM183.8 188.6h1.0v1.0h-1.0zM160.7 193.0h1.0v1.0h-1.0zM174.3 179.2h1.0v1.0h-1.0zM175.5 176.5h1.0v1.0h-1.0zM149.4 179.6h1.0v1.0h-1.0zM148.9 188.1h1.0v1.0h-1.0zM161.0 182.8h1.0v1.0h-1.0zM172.1 173.3h1.0v1.0h-1.0zM185.9 185.6h1.0v1.0h-1.0zM172.8 192.0h1.0v1.0h-1.0zM181.2 179.9h1.0v1.0h-1.0zM169.6 186.5h1.0v1.0h-1.0zM170.3 189.3h1.0v1.0h-1.0zM172.3 176.2h1.0v1.0h-1.0zM178.1 173.3h1.0v1.0h-1.0zM176.9 193.5h1.0v1.0h-1.0zM179.6 175.4h1.0v1.0h-1.0zM166.0 174.1h1.0v1.0h-1.0zM169.0 200.6h1.0v1.0h-1.0zM167.0 189.2h1.0v1.0h-1.0zM179.5 177.5h1.0v1.0h-1.0zM149.5 183.1h1.0v1.0h-1.0zM170.3 170.3h1.0v1.0h-1.0zM178.0 199.9h1.0v1.0h-1.0zM179.7 172.7h1.0v1.0h-1.0zM173.7 176.8h1.0v1.0h-1.0zM180.6 181.4h1.0v1.0h-1.0zM160.6 199.1h1.0v1.0h-1.0zM151.5 192.3h1.0v1.0h-1.0zM149.7 188.8h1.0v1.0h-1.0zM163.9 197.6h1.0v1.0h-1.0zM149.5 185.6h1.0v1.0h-1.0zM164.2 199.8h1.0v1.0h-1.0zM186.7 188.1h1.0v1.0h-1.0zM156.4 173.1h1.0v1.0h-1.0zM158.0 180.4h1.0v1.0h-1.0zM178.9 188.7h1.0v1.0h-1.0zM156.1 185.8h1.0v1.0h-1.0zM153.6 197.5h1.0v1.0h-1.0zM178.6 195.9h1.0v1.0h-1.0zM158.9 176.3h1.0v1.0h-1.0zM167.4 198.6h1.0v1.0h-1.0zM153.8 190.3h1.0v1.0h-1.0zM172.1 181.1h1.0v1.0h-1.0zM171.3 198.3h1.0v1.0h-1.0zM155.8 198.3h1.0v1.0h-1.0zM162.1 194.2h1.0v1.0h-1.0zM153.3 192.4h1.0v1.0h-1.0zM175.7 166.6h1.0v1.0h-1.0zM161.3 199.7h1.0v1.0h-1.0zM177.1 198.3h1.0v1.0h-1.0zM156.9 194.7h1.0v1.0h-1.0zM168.2 172.3h1.0v1.0h-1.0zM165.1 167.2h1.0v1.0h-1.0zM160.3 198.1h1.0v1.0h-1.0zM152.1 182.5h1.0v1.0h-1.0zM152.7 180.1h1.0v1.0h-1.0zM154.5 190.4h1.0v1.0h-1.0zM153.2 192.5h1.0v1.0h-1.0zM168.0 167.5h1.0v1.0h-1.0zM161.9 182.9h1.0v1.0h-1.0zM184.1 192.3h1.0v1.0h-1.0zM158.5 170.1h1.0v1.0h-1.0zM148.8 183.4h1.0v1.0h-1.0zM164.1 185.3h1.0v1.0h-1.0zM175.9 189.1h1.0v1.0h-1.0zM169.8 185.0h1.0v1.0h-1.0zM183.7 191.7h1.0v1.0h-1.0zM163.8 175.7h1.0v1.0h-1.0zM164.6 201.9h1.0v1.0h-1.0zM163.3 178.4h1.0v1.0h-1.0zM164.2 168.7h1.0v1.0h-1.0zM172.5 200.1h1.0v1.0h-1.0zM157.7 187.4h1.0v1.0h-1.0zM162.8 172.6h1.0v1.0h-1.0zM182.4 194.4h1.0v1.0h-1.0zM176.2 176.0h1.0v1.0h-1.0zM174.1 185.0h1.0v1.0h-1.0zM160.3 201.9h1.0v1.0h-1.0zM182.8 183.4h1.0v1.0h-1.0zM156.8 188.2h1.0v1.0h-1.0zM178.2 178.2h1.0v1.0h-1.0zM176.9 178.7h1.0v1.0h-1.0zM169.1 187.5h1.0v1.0h-1.0zM175.4 175.9h1.0v1.0h-1.0zM173.4 184.7h1.0v1.0h-1.0zM156.4 187.5h1.0v1.0h-1.0zM158.1 199.3h1.0v1.0h-1.0zM166.9 191.9h1.0v1.0h-1.0zM168.9 182.1h1.0v1.0h-1.0zM185.9 184.1h1.0v1.0h-1.0zM169.0 184.1h1.0v1.0h-1.0zM181.2 172.5h1.0v1.0h-1.0zM154.2 195.9h1.0v1.0h-1.0zM166.3 188.6h1.0v1.0h-1.0zM181.8 198.8h1.0v1.0h-1.0zM163.0 196.3h1.0v1.0h-1.0zM151.3 177.3h1.0v1.0h-1.0zM180.7 183.9h1.0v1.0h-1.0zM166.0 166.5h1.0v1.0h-1.0zM176.2 181.0h1.0v1.0h-1.0zM167.1 194.9h1.0v1.0h-1.0zM178.9 169.0h1.0v1.0h-1.0zM175.6 177.7h1.0v1.0h-1.0zM168.9 172.5h1.0v1.0h-1.0zM162.6 176.6h1.0v1.0h-1.0zM155.4 185.8h1.0v1.0h-1.0zM177.2 174.0h1.0v1.0h-1.0zM160.6 172.7h1.0v1.0h-1.0zM173.7 197.4h1.0v1.0h-1.0zM155.5 179.9h1.0v1.0h-1.0zM180.3 187.7h1.0v1.0h-1.0zM165.6 177.7h1.0v1.0h-1.0zM176.9 174.8h1.0v1.0h-1.0zM164.1 188.9h1.0v1.0h-1.0zM181.1 177.1h1.0v1.0h-1.0zM163.2 186.1h1.0v1.0h-1.0zM187.8 191.5h1.0v1.0h-1.0zM162.6 189.6h1.0v1.0h-1.0zM178.8 178.2h1.0v1.0h-1.0zM169.1 182.9h1.0v1.0h-1.0zM184.9 193.3h1.0v1.0h-1.0zM148.1 186.7h1.0v1.0h-1.0zM166.4 181.5h1.0v1.0h-1.0zM182.3 179.6h1.0v1.0h-1.0zM166.9 198.6h1.0v1.0h-1.0zM165.5 182.7h1.0v1.0h-1.0zM168.5 196.0h1.0v1.0h-1.0zM175.2 192.6h1.0v1.0h-1.0zM175.6 185.2h1.0v1.0h-1.0zM179.3 193.8h1.0v1.0h-1.0zM150.2 195.7h1.0v1.0h-1.0zM178.6 185.6h1.0v1.0h-1.0zM149.3 190.2h1.0v1.0h-1.0zM176.9 182.3h1.0v1.0h-1.0zM149.3 190.6h1.0v1.0h-1.0zM164.6 186.4h1.0v1.0h-1.0zM161.0 183.7h1.0v1.0h-1.0zM158.5 173.5h1.0v1.0h-1.0zM160.1 173.2h1.0v1.0h-1.0zM183.1 185.2h1.0v1.0h-1.0zM168.5 179.8h1.0v1.0h-1.0zM183.4 195.1h1.0v1.0h-1.0zM169.5 178.0h1.0v1.0h-1.0zM166.5 182.6h1.0v1.0h-1.0zM171.5 177.6h1.0v1.0h-1.0zM180.7 171.0h1.0v1.0h-1.0zM185.6 185.2h1.0v1.0h-1.0zM169.4 179.4h1.0v1.0h-1.0zM170.7 175.9h1.0v1.0h-1.0zM158.5 194.8h1.0v1.0h-1.0zM159.2 191.4h1.0v1.0h-1.0zM180.7 186.7h1.0v1.0h-1.0zM166.1 200.4h1.0v1.0h-1.0zM165.7 198.1h1.0v1.0h-1.0zM149.4 180.3h1.0v1.0h-1.0zM173.8 165.0h1.0v1.0h-1.0zM172.0 170.2h1.0v1.0h-1.0zM185.7 185.4h1.0v1.0h-1.0zM180.6 182.9h1.0v1.0h-1.0zM175.3 190.0h1.0v1.0h-1.0zM159.4 171.4h1.0v1.0h-1.0zM164.4 189.4h1.0v1.0h-1.0zM157.8 199.2h1.0v1.0h-1.0zM175.8 169.2h1.0v1.0h-1.0zM149.4 190.8h1.0v1.0h-1.0zM159.3 172.3h1.0v1.0h-1.0zM171.4 175.7h1.0v1.0h-1.0zM170.5 169.2h1.0v1.0h-1.0zM163.0 188.6h1.0v1.0h-1.0zM156.4 184.8h1.0v1.0h-1.0zM150.9 181.6h1.0v1.0h-1.0zM177.6 180.2h1.0v1.0h-1.0zM175.5 167.6h1.0v1.0h-1.0zM186.5 184.1h1.0v1.0h-1.0zM159.2 176.9h1.0v1.0h-1.0zM178.5 182.9h1.0v1.0h-1.0zM167.4 197.6h1.0v1.0h-1.0zM172.1 184.6h1.0v1.0h-1.0zM158.4 198.7h1.0v1.0h-1.0zM172.1 201.7h1.0v1.0h-1.0zM161.5 200.8h1.0v1.0h-1.0zM174.6 165.0h1.0v1.0h-1.0zM161.0 181.0h1.0v1.0h-1.0zM157.4 192.7h1.0v1.0h-1.0zM154.5 194.5h1.0v1.0h-1.0zM170.5 166.8h1.0v1.0h-1.0zM170.2 194.5h1.0v1.0h-1.0zM172.0 181.5h1.0v1.0h-1.0zM148.4 183.5h1.0v1.0h-1.0zM151.1 188.9h1.0v1.0h-1.0zM152.5 186.1h1.0v1.0h-1.0zM161.8 178.0h1.0v1.0h-1.0zM174.9 169.6h1.0v1.0h-1.0zM160.9 196.7h1.0v1.0h-1.0zM183.7 182.2h1.0v1.0h-1.0zM167.8 184.4h1.0v1.0h-1.0zM151.9 181.7h1.0v1.0h-1.0zM153.9 184.4h1.0v1.0h-1.0zM168.3 177.7h1.0v1.0h-1.0zM155.3 179.1h1.0v1.0h-1.0zM157.1 197.9h1.0v1.0h-1.0zM168.1 198.6h1.0v1.0h-1.0zM167.5 194.6h1.0v1.0h-1.0zM171.0 190.6h1.0v1.0h-1.0zM156.6 193.0h1.0v1.0h-1.0zM168.8 174.7h1.0v1.0h-1.0zM171.3 172.4h1.0v1.0h-1.0zM172.0 194.4h1.0v1.0h-1.0zM176.9 165.5h1.0v1.0h-1.0zM157.3 187.0h1.0v1.0h-1.0zM173.0 190.7h1.0v1.0h-1.0zM181.2 176.7h1.0v1.0h-1.0zM181.0 181.5h1.0v1.0h-1.0zM157.3 192.4h1.0v1.0h-1.0zM175.5 169.0h1.0v1.0h-1.0zM161.5 168.6h1.0v1.0h-1.0zM160.9 202.0h1.0v1.0h-1.0zM167.1 182.9h1.0v1.0h-1.0zM179.7 199.3h1.0v1.0h-1.0zM178.6 188.5h1.0v1.0h-1.0zM155.4 188.0h1.0v1.0h-1.0zM182.5 194.5h1.0v1.0h-1.0zM150.9 191.7h1.0v1.0h-1.0zM161.7 169.5h1.0v1.0h-1.0zM187.6 189.9h1.0v1.0h-1.0zM178.3 168.4h1.0v1.0h-1.0zM185.0 192.8h1.0v1.0h-1.0zM182.0 195.1h1.0v1.0h-1.0zM171.8 180.4h1.0v1.0h-1.0zM181.7 194.4h1.0v1.0h-1.0zM157.6 196.5h1.0v1.0h-1.0zM166.2 172.5h1.0v1.0h-1.0zM167.7 199.3h1.0v1.0h-1.0zM175.8 191.4h1.0v1.0h-1.0zM163.5 194.4h1.0v1.0h-1.0zM180.3 190.3h1.0v1.0h-1.0zM174.4 196.5h1.0v1.0h-1.0zM161.3 186.8h1.0v1.0h-1.0zM182.1 194.7h1.0v1.0h-1.0zM181.1 179.7h1.0v1.0h-1.0zM172.4 181.3h1.0v1.0h-1.0zM161.1 171.5h1.0v1.0h-1.0zM161.9 196.8h1.0v1.0h-1.0zM173.0 174.7h1.0v1.0h-1.0zM176.4 180.7h1.0v1.0h-1.0zM174.8 195.3h1.0v1.0h-1.0zM152.1 190.3h1.0v1.0h-1.0zM154.7 173.9h1.0v1.0h-1.0zM156.4 198.6h1.0v1.0h-1.0zM172.6 198.8h1.0v1.0h-1.0zM163.6 183.0h1.0v1.0h-1.0zM166.1 195.4h1.0v1.0h-1.0zM157.5 177.1h1.0v1.0h-1.0zM151.2 185.1h1.0v1.0h-1.0zM183.2 183.6h1.0v1.0h-1.0zM162.8 200.1h1.0v1.0h-1.0zM184.5 189.7h1.0v1.0h-1.0zM150.2 188.0h1.0v1.0h-1.0zM165.7 201.3h1.0v1.0h-1.0z" fill="#C9431F"/>
<path d="M162.2 189.4h1.0v1.0h-1.0zM173.5 178.0h1.0v1.0h-1.0zM168.9 190.1h1.0v1.0h-1.0zM185.1 182.9h1.0v1.0h-1.0zM162.3 202.0h1.0v1.0h-1.0zM175.7 185.3h1.0v1.0h-1.0zM165.8 193.0h1.0v1.0h-1.0zM184.4 192.2h1.0v1.0h-1.0zM153.1 186.5h1.0v1.0h-1.0zM171.2 164.9h1.0v1.0h-1.0zM163.5 192.9h1.0v1.0h-1.0zM173.9 174.2h1.0v1.0h-1.0zM179.0 174.6h1.0v1.0h-1.0zM169.9 179.8h1.0v1.0h-1.0zM188.1 189.0h1.0v1.0h-1.0zM180.8 190.1h1.0v1.0h-1.0zM163.0 201.5h1.0v1.0h-1.0zM176.8 190.6h1.0v1.0h-1.0zM171.2 196.0h1.0v1.0h-1.0zM180.3 176.9h1.0v1.0h-1.0zM152.9 183.6h1.0v1.0h-1.0zM178.0 169.8h1.0v1.0h-1.0zM159.5 178.3h1.0v1.0h-1.0zM154.9 175.4h1.0v1.0h-1.0zM160.5 180.5h1.0v1.0h-1.0zM163.5 178.4h1.0v1.0h-1.0zM155.6 199.4h1.0v1.0h-1.0zM165.9 196.5h1.0v1.0h-1.0zM173.8 194.1h1.0v1.0h-1.0zM160.2 169.1h1.0v1.0h-1.0zM178.8 181.8h1.0v1.0h-1.0zM170.5 189.8h1.0v1.0h-1.0zM178.6 174.0h1.0v1.0h-1.0zM162.2 199.7h1.0v1.0h-1.0zM169.2 174.5h1.0v1.0h-1.0zM173.5 173.4h1.0v1.0h-1.0zM181.7 185.7h1.0v1.0h-1.0zM161.9 200.6h1.0v1.0h-1.0zM158.2 172.7h1.0v1.0h-1.0zM149.9 184.9h1.0v1.0h-1.0zM178.7 190.1h1.0v1.0h-1.0zM164.3 195.3h1.0v1.0h-1.0zM173.6 190.7h1.0v1.0h-1.0zM179.5 178.8h1.0v1.0h-1.0zM186.5 192.7h1.0v1.0h-1.0zM161.4 178.7h1.0v1.0h-1.0zM180.8 177.0h1.0v1.0h-1.0zM154.8 197.9h1.0v1.0h-1.0zM169.3 183.8h1.0v1.0h-1.0zM175.1 199.1h1.0v1.0h-1.0zM152.6 176.5h1.0v1.0h-1.0zM149.8 179.5h1.0v1.0h-1.0zM168.1 197.1h1.0v1.0h-1.0zM175.0 186.1h1.0v1.0h-1.0zM164.0 185.9h1.0v1.0h-1.0zM158.5 196.8h1.0v1.0h-1.0zM180.1 196.5h1.0v1.0h-1.0zM153.3 189.9h1.0v1.0h-1.0zM178.7 183.0h1.0v1.0h-1.0zM178.2 195.8h1.0v1.0h-1.0zM174.3 198.1h1.0v1.0h-1.0zM152.5 191.2h1.0v1.0h-1.0zM176.6 187.5h1.0v1.0h-1.0zM172.3 196.0h1.0v1.0h-1.0zM158.5 171.5h1.0v1.0h-1.0zM180.7 177.4h1.0v1.0h-1.0zM176.4 165.9h1.0v1.0h-1.0zM182.2 176.0h1.0v1.0h-1.0zM149.5 180.8h1.0v1.0h-1.0zM170.3 195.3h1.0v1.0h-1.0zM173.4 176.6h1.0v1.0h-1.0zM160.9 185.7h1.0v1.0h-1.0zM156.2 194.7h1.0v1.0h-1.0zM155.8 196.6h1.0v1.0h-1.0zM181.0 184.5h1.0v1.0h-1.0zM148.2 183.2h1.0v1.0h-1.0zM173.5 192.0h1.0v1.0h-1.0zM171.6 179.0h1.0v1.0h-1.0zM168.5 186.6h1.0v1.0h-1.0zM156.5 197.7h1.0v1.0h-1.0zM167.1 168.3h1.0v1.0h-1.0zM166.1 190.3h1.0v1.0h-1.0zM176.8 181.2h1.0v1.0h-1.0zM161.4 170.6h1.0v1.0h-1.0zM163.9 174.3h1.0v1.0h-1.0zM155.2 192.4h1.0v1.0h-1.0zM168.7 180.5h1.0v1.0h-1.0zM155.3 191.1h1.0v1.0h-1.0zM155.3 173.6h1.0v1.0h-1.0zM170.5 191.0h1.0v1.0h-1.0zM187.9 192.9h1.0v1.0h-1.0zM177.3 191.8h1.0v1.0h-1.0zM177.3 188.2h1.0v1.0h-1.0zM158.1 177.2h1.0v1.0h-1.0zM153.9 188.3h1.0v1.0h-1.0zM161.9 199.0h1.0v1.0h-1.0zM180.8 181.2h1.0v1.0h-1.0zM153.5 194.1h1.0v1.0h-1.0zM166.8 202.6h1.0v1.0h-1.0zM185.3 194.8h1.0v1.0h-1.0zM167.0 195.9h1.0v1.0h-1.0zM170.7 183.3h1.0v1.0h-1.0zM155.8 173.1h1.0v1.0h-1.0zM177.8 178.4h1.0v1.0h-1.0zM181.1 196.7h1.0v1.0h-1.0zM156.0 186.4h1.0v1.0h-1.0zM181.9 194.4h1.0v1.0h-1.0zM184.3 184.4h1.0v1.0h-1.0zM173.2 198.4h1.0v1.0h-1.0zM167.4 188.6h1.0v1.0h-1.0zM155.6 172.7h1.0v1.0h-1.0zM185.0 178.3h1.0v1.0h-1.0zM151.4 186.6h1.0v1.0h-1.0zM166.2 186.4h1.0v1.0h-1.0zM173.7 191.3h1.0v1.0h-1.0zM166.8 179.0h1.0v1.0h-1.0zM175.3 191.5h1.0v1.0h-1.0zM157.1 189.0h1.0v1.0h-1.0zM176.1 181.9h1.0v1.0h-1.0zM172.2 165.5h1.0v1.0h-1.0zM156.6 178.7h1.0v1.0h-1.0zM180.1 196.0h1.0v1.0h-1.0zM173.6 192.7h1.0v1.0h-1.0zM157.1 200.2h1.0v1.0h-1.0zM156.2 189.9h1.0v1.0h-1.0zM186.1 188.5h1.0v1.0h-1.0zM178.8 167.2h1.0v1.0h-1.0zM187.9 191.4h1.0v1.0h-1.0zM154.9 195.3h1.0v1.0h-1.0zM153.8 183.5h1.0v1.0h-1.0zM151.4 194.5h1.0v1.0h-1.0zM170.3 195.9h1.0v1.0h-1.0zM168.1 187.8h1.0v1.0h-1.0zM172.0 195.0h1.0v1.0h-1.0zM169.9 174.6h1.0v1.0h-1.0zM181.8 195.5h1.0v1.0h-1.0zM166.2 167.9h1.0v1.0h-1.0zM174.3 171.3h1.0v1.0h-1.0zM165.0 167.4h1.0v1.0h-1.0zM177.7 197.0h1.0v1.0h-1.0zM162.4 175.1h1.0v1.0h-1.0zM179.0 168.9h1.0v1.0h-1.0zM176.1 187.0h1.0v1.0h-1.0zM168.8 181.2h1.0v1.0h-1.0zM164.1 187.4h1.0v1.0h-1.0zM174.2 199.7h1.0v1.0h-1.0zM177.8 194.9h1.0v1.0h-1.0zM185.3 196.5h1.0v1.0h-1.0zM175.6 197.0h1.0v1.0h-1.0zM165.1 198.1h1.0v1.0h-1.0zM165.6 191.3h1.0v1.0h-1.0zM157.6 175.0h1.0v1.0h-1.0zM161.6 176.0h1.0v1.0h-1.0zM151.0 180.7h1.0v1.0h-1.0zM188.2 189.2h1.0v1.0h-1.0zM186.2 193.5h1.0v1.0h-1.0zM178.6 174.0h1.0v1.0h-1.0zM157.5 179.5h1.0v1.0h-1.0zM160.8 193.8h1.0v1.0h-1.0zM179.5 198.6h1.0v1.0h-1.0zM180.4 184.3h1.0v1.0h-1.0zM151.4 196.0h1.0v1.0h-1.0zM160.2 188.1h1.0v1.0h-1.0zM162.4 184.5h1.0v1.0h-1.0zM169.3 189.0h1.0v1.0h-1.0zM169.6 200.5h1.0v1.0h-1.0zM164.1 199.6h1.0v1.0h-1.0zM159.1 199.3h1.0v1.0h-1.0zM154.4 180.5h1.0v1.0h-1.0zM175.8 190.6h1.0v1.0h-1.0zM178.3 193.1h1.0v1.0h-1.0zM157.4 173.3h1.0v1.0h-1.0zM148.2 190.6h1.0v1.0h-1.0zM155.8 173.4h1.0v1.0h-1.0zM187.5 188.7h1.0v1.0h-1.0zM171.8 189.2h1.0v1.0h-1.0zM172.1 190.8h1.0v1.0h-1.0zM162.2 168.7h1.0v1.0h-1.0zM151.7 182.7h1.0v1.0h-1.0zM187.7 190.5h1.0v1.0h-1.0zM158.5 193.8h1.0v1.0h-1.0zM159.7 179.4h1.0v1.0h-1.0zM176.0 180.8h1.0v1.0h-1.0zM177.6 166.8h1.0v1.0h-1.0zM181.8 172.1h1.0v1.0h-1.0zM182.9 195.1h1.0v1.0h-1.0zM175.2 174.1h1.0v1.0h-1.0zM174.7 186.5h1.0v1.0h-1.0zM174.8 170.2h1.0v1.0h-1.0zM174.4 185.8h1.0v1.0h-1.0zM162.3 191.9h1.0v1.0h-1.0zM152.8 194.5h1.0v1.0h-1.0zM157.6 177.6h1.0v1.0h-1.0zM169.0 167.5h1.0v1.0h-1.0zM157.4 194.8h1.0v1.0h-1.0zM159.0 178.2h1.0v1.0h-1.0zM179.1 172.0h1.0v1.0h-1.0zM163.1 177.6h1.0v1.0h-1.0zM173.9 181.9h1.0v1.0h-1.0zM174.9 196.5h1.0v1.0h-1.0zM165.4 167.6h1.0v1.0h-1.0zM166.3 191.5h1.0v1.0h-1.0zM167.1 170.0h1.0v1.0h-1.0zM156.7 180.6h1.0v1.0h-1.0zM162.2 181.8h1.0v1.0h-1.0zM186.3 185.2h1.0v1.0h-1.0zM178.3 185.5h1.0v1.0h-1.0zM186.6 184.0h1.0v1.0h-1.0zM185.8 181.4h1.0v1.0h-1.0zM166.0 175.7h1.0v1.0h-1.0zM155.6 189.5h1.0v1.0h-1.0zM174.4 183.6h1.0v1.0h-1.0zM178.1 184.5h1.0v1.0h-1.0zM156.8 183.0h1.0v1.0h-1.0zM172.4 189.0h1.0v1.0h-1.0zM153.1 195.1h1.0v1.0h-1.0zM186.7 192.6h1.0v1.0h-1.0zM183.0 177.7h1.0v1.0h-1.0zM156.5 186.9h1.0v1.0h-1.0zM165.4 168.6h1.0v1.0h-1.0zM155.0 193.0h1.0v1.0h-1.0zM171.5 200.6h1.0v1.0h-1.0zM163.9 190.2h1.0v1.0h-1.0zM156.8 182.1h1.0v1.0h-1.0zM168.5 200.9h1.0v1.0h-1.0zM173.1 171.7h1.0v1.0h-1.0zM160.5 179.3h1.0v1.0h-1.0zM161.4 189.7h1.0v1.0h-1.0zM153.8 196.1h1.0v1.0h-1.0zM157.8 181.2h1.0v1.0h-1.0zM170.6 191.5h1.0v1.0h-1.0zM168.9 186.3h1.0v1.0h-1.0zM171.6 181.1h1.0v1.0h-1.0zM164.2 198.5h1.0v1.0h-1.0zM174.8 197.4h1.0v1.0h-1.0zM159.2 174.6h1.0v1.0h-1.0zM164.6 184.2h1.0v1.0h-1.0zM182.7 195.3h1.0v1.0h-1.0zM174.4 183.5h1.0v1.0h-1.0zM174.6 186.5h1.0v1.0h-1.0zM180.6 199.0h1.0v1.0h-1.0zM171.0 170.3h1.0v1.0h-1.0zM176.1 173.2h1.0v1.0h-1.0zM156.9 177.7h1.0v1.0h-1.0zM169.0 190.1h1.0v1.0h-1.0zM150.1 192.7h1.0v1.0h-1.0zM173.2 181.9h1.0v1.0h-1.0zM175.2 195.0h1.0v1.0h-1.0zM175.5 191.4h1.0v1.0h-1.0zM174.2 170.2h1.0v1.0h-1.0zM187.3 194.4h1.0v1.0h-1.0zM156.8 180.2h1.0v1.0h-1.0zM164.2 201.5h1.0v1.0h-1.0zM177.9 177.4h1.0v1.0h-1.0zM174.9 193.7h1.0v1.0h-1.0zM156.0 173.6h1.0v1.0h-1.0zM164.1 179.8h1.0v1.0h-1.0zM150.3 186.3h1.0v1.0h-1.0zM186.6 186.1h1.0v1.0h-1.0zM161.9 191.2h1.0v1.0h-1.0zM165.4 170.0h1.0v1.0h-1.0z" fill="#C8A6D6"/>
<path d="M183.0 178.4h1.0v1.0h-1.0zM180.9 170.4h1.0v1.0h-1.0zM175.1 155.2h1.0v1.0h-1.0zM184.0 169.0h1.0v1.0h-1.0zM184.4 180.0h1.0v1.0h-1.0zM170.9 148.4h1.0v1.0h-1.0zM172.8 148.7h1.0v1.0h-1.0zM180.6 172.9h1.0v1.0h-1.0zM183.6 177.1h1.0v1.0h-1.0zM183.7 176.7h1.0v1.0h-1.0zM181.3 167.6h1.0v1.0h-1.0zM172.3 152.7h1.0v1.0h-1.0zM180.9 172.6h1.0v1.0h-1.0zM172.7 154.1h1.0v1.0h-1.0zM183.1 178.1h1.0v1.0h-1.0zM171.5 147.0h1.0v1.0h-1.0zM185.8 180.1h1.0v1.0h-1.0zM178.9 159.5h1.0v1.0h-1.0zM182.2 166.2h1.0v1.0h-1.0zM182.1 175.8h1.0v1.0h-1.0zM185.8 182.4h1.0v1.0h-1.0zM171.8 147.8h1.0v1.0h-1.0zM177.2 158.5h1.0v1.0h-1.0zM185.2 181.2h1.0v1.0h-1.0zM175.8 154.9h1.0v1.0h-1.0zM175.8 152.5h1.0v1.0h-1.0zM184.4 177.8h1.0v1.0h-1.0zM176.4 159.1h1.0v1.0h-1.0zM185.1 175.2h1.0v1.0h-1.0zM183.7 184.6h1.0v1.0h-1.0zM182.4 175.2h1.0v1.0h-1.0zM179.2 158.5h1.0v1.0h-1.0zM184.3 178.9h1.0v1.0h-1.0zM181.5 171.1h1.0v1.0h-1.0zM179.3 163.2h1.0v1.0h-1.0zM183.3 179.8h1.0v1.0h-1.0zM171.2 147.7h1.0v1.0h-1.0zM177.9 161.1h1.0v1.0h-1.0zM183.6 183.2h1.0v1.0h-1.0zM185.3 174.3h1.0v1.0h-1.0zM178.8 164.4h1.0v1.0h-1.0zM176.2 159.5h1.0v1.0h-1.0zM185.0 184.7h1.0v1.0h-1.0zM177.4 160.2h1.0v1.0h-1.0zM182.9 179.7h1.0v1.0h-1.0zM185.3 183.2h1.0v1.0h-1.0zM174.4 156.0h1.0v1.0h-1.0zM182.2 174.9h1.0v1.0h-1.0zM174.0 155.2h1.0v1.0h-1.0zM182.3 175.0h1.0v1.0h-1.0zM182.1 173.4h1.0v1.0h-1.0zM171.5 147.8h1.0v1.0h-1.0zM183.5 172.1h1.0v1.0h-1.0zM174.2 153.0h1.0v1.0h-1.0zM172.8 153.7h1.0v1.0h-1.0zM176.9 159.2h1.0v1.0h-1.0zM177.2 159.1h1.0v1.0h-1.0zM184.4 174.1h1.0v1.0h-1.0zM177.4 156.9h1.0v1.0h-1.0zM184.5 176.6h1.0v1.0h-1.0zM180.0 172.1h1.0v1.0h-1.0z" fill="#F2A3A5"/>
<path d="M179.3 161.1h1.0v1.0h-1.0zM173.1 149.6h1.0v1.0h-1.0zM185.3 177.0h1.0v1.0h-1.0zM178.2 164.8h1.0v1.0h-1.0zM178.1 158.3h1.0v1.0h-1.0zM176.3 160.5h1.0v1.0h-1.0zM172.5 154.1h1.0v1.0h-1.0zM182.5 173.8h1.0v1.0h-1.0zM185.5 182.9h1.0v1.0h-1.0zM182.7 179.3h1.0v1.0h-1.0zM184.8 175.1h1.0v1.0h-1.0zM170.6 147.2h1.0v1.0h-1.0zM182.0 170.2h1.0v1.0h-1.0zM171.9 151.5h1.0v1.0h-1.0zM177.4 160.6h1.0v1.0h-1.0zM174.3 154.3h1.0v1.0h-1.0zM186.6 184.8h1.0v1.0h-1.0zM173.1 151.1h1.0v1.0h-1.0zM179.8 163.1h1.0v1.0h-1.0zM186.0 179.4h1.0v1.0h-1.0zM172.4 152.0h1.0v1.0h-1.0zM186.2 182.2h1.0v1.0h-1.0zM176.4 155.8h1.0v1.0h-1.0zM185.4 176.7h1.0v1.0h-1.0zM183.4 177.8h1.0v1.0h-1.0zM178.3 156.0h1.0v1.0h-1.0zM180.0 162.1h1.0v1.0h-1.0zM182.4 170.9h1.0v1.0h-1.0zM186.0 184.9h1.0v1.0h-1.0zM183.7 175.3h1.0v1.0h-1.0zM180.8 160.1h1.0v1.0h-1.0zM177.9 163.8h1.0v1.0h-1.0zM182.2 174.2h1.0v1.0h-1.0zM173.2 150.5h1.0v1.0h-1.0zM180.7 166.3h1.0v1.0h-1.0zM183.7 172.3h1.0v1.0h-1.0zM186.4 181.9h1.0v1.0h-1.0zM179.4 161.2h1.0v1.0h-1.0zM172.9 150.5h1.0v1.0h-1.0zM178.0 164.7h1.0v1.0h-1.0zM186.3 184.3h1.0v1.0h-1.0zM179.3 157.6h1.0v1.0h-1.0zM180.7 167.5h1.0v1.0h-1.0zM180.8 166.7h1.0v1.0h-1.0z" fill="#C8A6D6"/>
<path d="M180.1 182.9h1v1h-1zM145.7 178.6h1v1h-1zM141.6 202.5h1v1h-1zM158.9 152.5h1v1h-1zM178.3 182.8h1v1h-1zM167.9 199.7h1v1h-1zM124.4 166.9h1v1h-1zM149.5 198.1h1v1h-1zM161.4 193.0h1v1h-1zM133.3 193.5h1v1h-1zM139.3 196.7h1v1h-1zM156.3 160.2h1v1h-1zM168.8 143.4h1v1h-1zM128.6 187.9h1v1h-1zM145.9 182.3h1v1h-1zM165.8 149.6h1v1h-1zM170.7 175.1h1v1h-1zM145.6 198.0h1v1h-1zM161.3 191.5h1v1h-1zM132.0 171.9h1v1h-1zM160.3 175.7h1v1h-1zM149.3 174.6h1v1h-1zM172.8 154.8h1v1h-1zM177.4 154.8h1v1h-1zM127.3 170.3h1v1h-1zM147.5 161.0h1v1h-1zM173.4 153.6h1v1h-1zM166.9 193.7h1v1h-1zM152.0 172.0h1v1h-1zM184.3 178.6h1v1h-1zM127.1 181.5h1v1h-1zM150.0 159.2h1v1h-1zM156.1 200.3h1v1h-1zM183.3 185.3h1v1h-1zM179.1 181.4h1v1h-1zM131.7 179.9h1v1h-1zM125.0 172.2h1v1h-1zM171.9 185.9h1v1h-1zM166.9 167.4h1v1h-1zM166.3 145.0h1v1h-1zM166.9 153.6h1v1h-1zM148.5 184.1h1v1h-1zM125.8 174.6h1v1h-1zM127.8 171.9h1v1h-1zM166.9 171.5h1v1h-1zM176.4 158.1h1v1h-1zM185.0 192.4h1v1h-1zM168.0 184.7h1v1h-1zM160.6 202.9h1v1h-1zM124.1 185.9h1v1h-1zM160.9 186.4h1v1h-1zM144.8 184.6h1v1h-1zM146.1 185.7h1v1h-1zM127.3 186.6h1v1h-1zM180.2 180.7h1v1h-1zM131.6 196.1h1v1h-1zM170.1 146.5h1v1h-1zM147.1 183.0h1v1h-1zM145.2 196.3h1v1h-1zM183.3 190.5h1v1h-1zM180.3 177.5h1v1h-1zM134.5 173.0h1v1h-1zM154.1 161.1h1v1h-1zM146.6 172.4h1v1h-1zM161.3 153.6h1v1h-1zM140.0 171.9h1v1h-1zM155.5 166.4h1v1h-1zM166.5 151.1h1v1h-1zM157.4 157.1h1v1h-1zM173.7 185.1h1v1h-1zM174.5 172.9h1v1h-1zM138.1 199.6h1v1h-1zM156.0 163.6h1v1h-1zM140.9 165.3h1v1h-1zM169.5 192.6h1v1h-1zM154.1 186.9h1v1h-1zM135.6 168.6h1v1h-1zM145.6 188.4h1v1h-1zM171.2 152.6h1v1h-1zM137.0 190.4h1v1h-1z" fill="#F2A3A5"/>
<path d="M155.1 138.3h1v1h-1zM154.6 139.0h1v1h-1zM155.4 148.8h1v1h-1zM158.3 140.5h1v1h-1zM151.2 127.3h1v1h-1zM146.2 131.5h1v1h-1zM156.4 146.2h1v1h-1zM159.5 145.2h1v1h-1zM150.1 129.2h1v1h-1zM144.2 119.7h1v1h-1zM150.1 128.3h1v1h-1zM148.6 141.4h1v1h-1zM147.7 138.5h1v1h-1zM153.5 134.7h1v1h-1zM147.5 137.2h1v1h-1zM153.8 132.4h1v1h-1zM142.8 121.7h1v1h-1zM147.2 129.0h1v1h-1zM158.3 143.2h1v1h-1zM157.9 144.3h1v1h-1zM152.6 127.9h1v1h-1zM142.2 117.3h1v1h-1zM148.5 129.6h1v1h-1zM156.1 132.6h1v1h-1zM151.7 131.8h1v1h-1z" fill="#525252"/>
<path d="M148.2 126.1h1v1h-1zM154.1 134.3h1v1h-1zM152.2 125.8h1v1h-1zM147.8 129.0h1v1h-1zM155.2 137.9h1v1h-1zM150.3 128.6h1v1h-1zM150.5 143.9h1v1h-1zM148.6 140.4h1v1h-1zM162.1 138.6h1v1h-1zM155.5 131.9h1v1h-1zM151.7 125.3h1v1h-1zM151.1 136.2h1v1h-1zM143.1 125.1h1v1h-1zM155.6 133.7h1v1h-1zM154.2 142.1h1v1h-1zM150.2 143.9h1v1h-1zM153.0 141.1h1v1h-1zM148.4 130.1h1v1h-1zM159.0 132.7h1v1h-1zM150.1 143.9h1v1h-1z" fill="#F2A3A5"/>
<path d="M155.8 133.2h1v1h-1zM141.5 116.6h1v1h-1zM143.7 124.5h1v1h-1zM152.7 136.0h1v1h-1zM156.1 130.7h1v1h-1zM145.2 121.8h1v1h-1zM151.7 132.0h1v1h-1zM157.1 145.5h1v1h-1zM148.2 121.6h1v1h-1zM148.0 140.4h1v1h-1zM155.1 128.6h1v1h-1zM151.7 142.3h1v1h-1z" fill="#F4A424"/>
<polygon points="45.0,146.0 49.0,144.5 53.0,145.5 54.5,149.0 53.0,155.0 52.8,162.0 55.5,169.0 63.0,176.0 67.5,180.0 67.5,185.0 63.0,189.0 58.0,190.5 52.0,189.0 46.0,185.0 41.0,178.0 38.5,170.0 38.5,162.0 39.5,155.0 42.0,149.0" fill="#2C58A2"/>
<polygon points="46.5,222.0 48.0,218.0 55.0,214.0 60.0,210.0 63.0,206.0 64.0,201.0 66.0,202.0 68.0,206.0 72.0,208.0 78.0,210.0 86.0,211.0 90.5,214.0 91.0,220.0 89.0,228.0 84.0,231.0 76.0,232.0 68.0,235.0 60.0,235.5 52.0,234.0 48.0,230.0" fill="#6F3FA0"/>
<polygon points="70.0,207.0 78.0,210.0 86.0,211.0 90.5,214.0 91.0,220.0 89.0,228.0 84.0,231.0 76.0,232.0 72.0,233.0 71.0,225.0 72.0,215.0" fill="#7D5A1D"/>
<path d="M74.2 225.8h1v1h-1zM77.4 228.1h1v1h-1zM72.0 214.2h1v1h-1zM83.3 219.5h1v1h-1zM77.9 222.0h1v1h-1zM74.6 218.4h1v1h-1zM75.3 228.6h1v1h-1zM81.6 222.6h1v1h-1zM86.3 214.6h1v1h-1zM88.1 227.4h1v1h-1zM84.2 228.2h1v1h-1zM79.2 224.5h1v1h-1zM72.1 217.7h1v1h-1zM80.7 210.9h1v1h-1zM74.6 229.5h1v1h-1zM78.1 210.9h1v1h-1zM73.8 222.0h1v1h-1zM74.0 219.4h1v1h-1zM81.3 218.4h1v1h-1zM80.6 228.8h1v1h-1zM86.1 221.8h1v1h-1zM81.3 212.7h1v1h-1zM86.4 215.0h1v1h-1zM85.3 212.9h1v1h-1zM82.0 223.9h1v1h-1zM77.8 219.5h1v1h-1zM71.4 223.7h1v1h-1zM84.5 211.0h1v1h-1zM81.6 226.1h1v1h-1zM72.1 228.8h1v1h-1zM75.2 209.2h1v1h-1zM75.3 209.2h1v1h-1zM80.3 213.5h1v1h-1zM76.3 219.0h1v1h-1zM77.8 227.5h1v1h-1zM76.9 209.8h1v1h-1zM84.6 227.3h1v1h-1zM78.6 231.2h1v1h-1zM78.2 215.1h1v1h-1zM80.8 218.5h1v1h-1zM79.2 227.0h1v1h-1zM87.4 219.4h1v1h-1zM73.7 217.6h1v1h-1zM88.7 217.6h1v1h-1zM83.9 221.6h1v1h-1zM79.7 221.9h1v1h-1zM75.1 221.5h1v1h-1zM77.7 229.9h1v1h-1zM83.2 223.4h1v1h-1zM87.7 219.2h1v1h-1z" fill="#6F3FA0"/>
<path d="M78.2 226.1h1v1h-1zM55.6 223.2h1v1h-1zM75.7 223.7h1v1h-1zM61.0 221.6h1v1h-1zM76.3 210.9h1v1h-1zM81.7 211.5h1v1h-1zM70.8 228.9h1v1h-1zM51.6 226.2h1v1h-1zM47.6 226.0h1v1h-1zM62.9 207.2h1v1h-1zM64.1 218.3h1v1h-1zM65.0 205.2h1v1h-1zM69.8 211.4h1v1h-1zM89.5 214.2h1v1h-1zM65.9 208.9h1v1h-1zM75.3 229.7h1v1h-1zM64.0 227.1h1v1h-1zM66.1 227.3h1v1h-1zM69.6 215.7h1v1h-1zM57.1 220.3h1v1h-1zM65.0 202.2h1v1h-1zM66.3 232.6h1v1h-1zM60.0 221.2h1v1h-1zM59.9 225.7h1v1h-1zM52.1 217.3h1v1h-1zM83.0 215.4h1v1h-1zM88.5 215.1h1v1h-1zM73.1 230.8h1v1h-1zM77.4 221.3h1v1h-1zM78.6 210.6h1v1h-1z" fill="#7D5A1D"/>
<path d="M32.5 33.0V243.8H197.0" fill="none" stroke="#333" stroke-width="1.0"/>
<path d="M54.5 243.8v2.8" stroke="#333" stroke-width="1.0"/>
<text x="54.5" y="256.2" font-size="8.4" text-anchor="middle" fill="#333">−10</text>
<path d="M87.9 243.8v2.8" stroke="#333" stroke-width="1.0"/>
<text x="87.9" y="256.2" font-size="8.4" text-anchor="middle" fill="#333">−5</text>
<path d="M120.4 243.8v2.8" stroke="#333" stroke-width="1.0"/>
<text x="120.4" y="256.2" font-size="8.4" text-anchor="middle" fill="#333">0</text>
<path d="M154.2 243.8v2.8" stroke="#333" stroke-width="1.0"/>
<text x="154.2" y="256.2" font-size="8.4" text-anchor="middle" fill="#333">5</text>
<path d="M187.6 243.8v2.8" stroke="#333" stroke-width="1.0"/>
<text x="187.6" y="256.2" font-size="8.4" text-anchor="middle" fill="#333">10</text>
<path d="M32.5 68.3h-2.8" stroke="#333" stroke-width="1.0"/>
<text x="27.6" y="71.2" font-size="8.4" text-anchor="end" fill="#333">10</text>
<path d="M32.5 108.6h-2.8" stroke="#333" stroke-width="1.0"/>
<text x="27.6" y="111.5" font-size="8.4" text-anchor="end" fill="#333">5</text>
<path d="M32.5 148.9h-2.8" stroke="#333" stroke-width="1.0"/>
<text x="27.6" y="151.8" font-size="8.4" text-anchor="end" fill="#333">0</text>
<path d="M32.5 189.2h-2.8" stroke="#333" stroke-width="1.0"/>
<text x="27.6" y="192.1" font-size="8.4" text-anchor="end" fill="#333">−5</text>
<path d="M32.5 229.5h-2.8" stroke="#333" stroke-width="1.0"/>
<text x="27.6" y="232.4" font-size="8.4" text-anchor="end" fill="#333">−10</text>
<text x="114" y="269.7" font-size="10.5" text-anchor="middle">umap_1</text>
<text transform="translate(10.9,141.0) rotate(-90)" font-size="10.5" text-anchor="middle">umap_2</text>
<circle cx="195.2" cy="43.9" r="2.9" fill="#8E4CAA"/>
<text x="206.5" y="47.1" font-size="9.1">Memory B cells</text>
<circle cx="195.2" cy="55.6" r="2.9" fill="#4E7CC5"/>
<text x="206.5" y="58.8" font-size="9.1">Naive B cells</text>
<circle cx="195.2" cy="67.3" r="2.9" fill="#7D5A1D"/>
<text x="206.5" y="70.5" font-size="9.1">MSC iCAF−like CAFs</text>
<circle cx="195.2" cy="79.0" r="2.9" fill="#6F3FA0"/>
<text x="206.5" y="82.2" font-size="9.1">myCAF−like CAFs</text>
<circle cx="195.2" cy="90.7" r="2.9" fill="#525252"/>
<text x="206.5" y="93.9" font-size="9.1">Cycling T cells</text>
<circle cx="195.2" cy="102.3" r="2.9" fill="#17794A"/>
<text x="206.5" y="105.5" font-size="9.1">Cycling Myeloid</text>
<circle cx="195.2" cy="114.0" r="2.9" fill="#63BA47"/>
<text x="206.5" y="117.2" font-size="9.1">DCs</text>
<circle cx="195.2" cy="125.7" r="2.9" fill="#F3DA9B"/>
<text x="206.5" y="128.9" font-size="9.1">Endothelial</text>
<circle cx="195.2" cy="137.4" r="2.9" fill="#E1E1E1"/>
<text x="206.5" y="140.6" font-size="9.1">Macrophage</text>
<circle cx="195.2" cy="149.1" r="2.9" fill="#3BAA4B"/>
<text x="206.5" y="152.3" font-size="9.1">Monocyte</text>
<circle cx="195.2" cy="160.8" r="2.9" fill="#C9431F"/>
<text x="206.5" y="164.0" font-size="9.1">NK cells</text>
<circle cx="195.2" cy="172.5" r="2.9" fill="#C8A6D6"/>
<text x="206.5" y="175.7" font-size="9.1">NKT cells</text>
<circle cx="195.2" cy="184.2" r="2.9" fill="#B54CA6"/>
<text x="206.5" y="187.4" font-size="9.1">Plasmablasts</text>
<circle cx="195.2" cy="195.9" r="2.9" fill="#2C58A2"/>
<text x="206.5" y="199.1" font-size="9.1">PVL</text>
<circle cx="195.2" cy="207.6" r="2.9" fill="#F4A424"/>
<text x="206.5" y="210.8" font-size="9.1">CD4+ T cells</text>
<circle cx="195.2" cy="219.2" r="2.9" fill="#F2A3A5"/>
<text x="206.5" y="222.4" font-size="9.1">CD8+ T cells</text>
<polygon points="329.9,24.5 332.1,23.2 334.7,22.9 336.9,23.4 338.0,24.8 337.8,27.1 337.1,30.1 336.0,33.0 334.3,36.4 333.6,40.5 333.9,44.9 333.4,47.9 331.7,49.6 329.5,49.0 328.2,47.2 328.0,42.7 328.2,36.8 328.9,30.1 329.5,26.3" fill="#B0176B"/>
<polygon points="327.1,31.5 328.4,33.0 328.4,44.2 326.0,44.0 324.3,43.1 323.3,41.2 323.4,38.2 324.3,36.0 325.6,33.8" fill="#B0176B"/>
<polygon points="351.9,30.1 353.0,27.1 355.6,25.4 359.1,24.8 362.6,25.0 366.1,26.3 368.7,28.2 370.9,30.4 372.6,33.0 373.3,36.8 373.1,40.5 372.2,43.1 369.6,44.8 366.1,44.8 364.3,44.2 361.7,44.6 359.1,43.5 357.8,40.5 356.5,36.8 353.9,35.3 352.2,33.0" fill="#B0176B"/>
<polygon points="354.3,45.3 355.6,43.8 358.3,43.8 360.9,45.3 364.3,48.7 368.3,52.4 371.7,56.1 373.9,59.1 373.1,60.2 370.4,57.6 367.0,54.2 363.9,51.3 361.7,49.0 359.6,47.5 357.4,47.2 355.6,47.9 354.3,47.2" fill="#B0176B"/>
<polygon points="355.6,47.2 358.3,46.4 361.7,48.7 365.2,51.6 368.7,54.6 371.7,56.9 373.9,59.1 375.7,61.3 370.4,61.7 366.1,62.1 364.3,59.8 363.5,56.9 360.9,55.4 358.3,50.9" fill="#B0176B"/>
<polygon points="338.4,64.7 338.4,61.3 339.5,58.3 341.7,56.5 344.8,55.7 347.8,56.1 350.4,57.2 352.2,58.7 353.5,61.3 353.9,64.7 353.0,66.5 351.7,65.8 350.0,62.8 347.8,60.9 344.8,60.2 342.1,60.9 340.8,62.8 339.5,65.0" fill="#B0176B"/>
<polygon points="350.4,58.3 352.2,56.5 354.8,55.4 358.3,55.0 360.9,54.6 363.0,55.7 364.3,57.6 364.8,59.8 365.2,62.8 364.8,65.8 363.0,67.6 360.0,68.8 356.5,68.8 353.9,68.0 351.7,65.4 350.8,62.1" fill="#B0176B"/>
<polygon points="353.7,68.8 356.5,68.4 360.0,68.8 363.0,67.6 365.2,65.0 367.4,63.9 369.1,63.2 370.9,61.3 372.2,59.5 373.5,58.7 374.8,60.2 376.5,62.4 378.3,64.7 379.6,66.9 380.9,70.3 381.8,74.0 382.6,77.0 383.3,78.8 381.8,80.3 379.2,81.4 375.7,82.5 371.3,83.1 366.1,82.9 362.6,82.5 359.1,81.4 356.5,80.5 354.8,78.8 353.7,76.2 353.5,72.5" fill="#B0176B"/>
<polygon points="320.4,61.3 322.1,60.8 323.9,61.1 324.5,62.4 323.9,64.7 323.8,67.3 324.9,69.9 328.2,72.5 330.2,74.0 330.2,75.8 328.2,77.3 326.0,77.9 323.4,77.3 320.8,75.8 318.6,73.2 317.5,70.3 317.5,67.3 318.0,64.7 319.1,62.4" fill="#B0176B"/>
<polygon points="321.0,89.6 321.7,88.1 324.7,86.6 326.9,85.1 328.2,83.7 328.6,81.8 329.5,82.2 330.4,83.7 332.1,84.4 334.7,85.1 338.2,85.5 340.2,86.6 340.4,88.9 339.5,91.8 337.4,93.0 333.9,93.3 330.4,94.4 326.9,94.6 323.4,94.1 321.7,92.6" fill="#B0176B"/>
<polygon points="364.3,53.9 366.5,54.2 368.3,55.7 368.7,57.6 367.4,59.1 365.7,59.1 364.3,57.6 363.9,55.7" fill="#FFFFFF"/>
<path d="M333.0 27.9h1.1v1.1h-1.1zM332.4 30.4h1.1v1.1h-1.1zM333.9 30.9h1.1v1.1h-1.1zM330.7 40.1h1.1v1.1h-1.1zM328.8 44.3h1.1v1.1h-1.1zM333.0 29.0h1.1v1.1h-1.1zM329.1 36.5h1.1v1.1h-1.1zM333.0 42.1h1.1v1.1h-1.1zM331.7 33.9h1.1v1.1h-1.1zM336.9 30.2h1.1v1.1h-1.1zM330.6 44.6h1.1v1.1h-1.1zM334.1 28.4h1.1v1.1h-1.1zM328.8 45.9h1.1v1.1h-1.1zM329.7 29.8h1.1v1.1h-1.1zM334.2 28.1h1.1v1.1h-1.1zM332.6 42.0h1.1v1.1h-1.1zM328.9 40.5h1.1v1.1h-1.1zM329.0 35.6h1.1v1.1h-1.1zM332.2 32.9h1.1v1.1h-1.1zM334.5 33.6h1.1v1.1h-1.1zM333.7 36.7h1.1v1.1h-1.1zM329.9 48.2h1.1v1.1h-1.1zM336.4 29.3h1.1v1.1h-1.1zM336.8 30.1h1.1v1.1h-1.1zM331.1 32.7h1.1v1.1h-1.1zM329.7 27.1h1.1v1.1h-1.1zM333.7 28.6h1.1v1.1h-1.1zM331.4 25.6h1.1v1.1h-1.1zM329.5 42.0h1.1v1.1h-1.1zM330.2 45.5h1.1v1.1h-1.1zM331.3 45.6h1.1v1.1h-1.1zM331.0 30.0h1.1v1.1h-1.1zM332.4 33.0h1.1v1.1h-1.1zM329.0 41.9h1.1v1.1h-1.1zM333.8 36.4h1.1v1.1h-1.1zM330.5 30.6h1.1v1.1h-1.1zM329.2 45.5h1.1v1.1h-1.1zM328.2 41.9h1.1v1.1h-1.1zM333.5 44.6h1.1v1.1h-1.1zM329.5 37.3h1.1v1.1h-1.1zM330.7 33.6h1.1v1.1h-1.1zM329.9 41.8h1.1v1.1h-1.1z" fill="#F6BE10"/>
<path d="M333.7 43.7h1.1v1.1h-1.1zM333.7 31.6h1.1v1.1h-1.1zM329.0 31.8h1.1v1.1h-1.1zM332.4 35.2h1.1v1.1h-1.1zM335.6 31.4h1.1v1.1h-1.1zM329.1 39.4h1.1v1.1h-1.1zM336.1 29.5h1.1v1.1h-1.1zM332.9 31.8h1.1v1.1h-1.1zM332.5 44.1h1.1v1.1h-1.1zM334.3 27.5h1.1v1.1h-1.1zM328.7 35.0h1.1v1.1h-1.1zM332.1 48.4h1.1v1.1h-1.1zM332.1 45.6h1.1v1.1h-1.1zM330.4 31.0h1.1v1.1h-1.1z" fill="#F39A17"/>
<path d="M332.9 33.5h1.0v1.0h-1.0zM331.2 39.1h1.0v1.0h-1.0zM332.2 45.2h1.0v1.0h-1.0zM333.8 23.2h1.0v1.0h-1.0zM331.8 29.9h1.0v1.0h-1.0zM334.2 24.7h1.0v1.0h-1.0z" fill="#4FAE4A"/>
<path d="M333.4 32.9h1.0v1.0h-1.0zM332.9 33.7h1.0v1.0h-1.0zM329.0 42.4h1.0v1.0h-1.0zM329.1 38.9h1.0v1.0h-1.0zM335.6 24.1h1.0v1.0h-1.0z" fill="#3A63B8"/>
<path d="M330.8 47.5h1.0v1.0h-1.0zM330.5 38.3h1.0v1.0h-1.0zM331.8 30.8h1.0v1.0h-1.0zM331.3 37.4h1.0v1.0h-1.0zM332.6 37.6h1.0v1.0h-1.0z" fill="#E8241F"/>
<path d="M334.2 35.7h1.0v1.0h-1.0zM336.8 24.5h1.0v1.0h-1.0zM335.9 23.7h1.0v1.0h-1.0z" fill="#B049B8"/>
<path d="M365.8 40.8h1.1v1.1h-1.1zM357.0 32.4h1.1v1.1h-1.1zM363.2 36.9h1.1v1.1h-1.1zM358.9 36.5h1.1v1.1h-1.1zM372.3 40.4h1.1v1.1h-1.1zM362.9 32.5h1.1v1.1h-1.1zM359.3 40.8h1.1v1.1h-1.1zM355.7 36.0h1.1v1.1h-1.1zM368.5 43.5h1.1v1.1h-1.1zM352.3 30.2h1.1v1.1h-1.1zM362.5 43.5h1.1v1.1h-1.1zM360.4 35.8h1.1v1.1h-1.1zM359.0 27.9h1.1v1.1h-1.1zM354.8 30.9h1.1v1.1h-1.1zM366.9 36.4h1.1v1.1h-1.1zM362.8 27.7h1.1v1.1h-1.1zM369.4 41.2h1.1v1.1h-1.1zM369.2 29.4h1.1v1.1h-1.1zM368.3 40.2h1.1v1.1h-1.1zM365.5 41.4h1.1v1.1h-1.1zM369.7 43.2h1.1v1.1h-1.1zM358.6 38.5h1.1v1.1h-1.1zM366.5 41.7h1.1v1.1h-1.1zM364.0 30.3h1.1v1.1h-1.1zM357.3 35.7h1.1v1.1h-1.1zM366.8 38.2h1.1v1.1h-1.1zM368.3 30.9h1.1v1.1h-1.1zM354.0 30.5h1.1v1.1h-1.1zM368.4 34.1h1.1v1.1h-1.1zM354.2 31.8h1.1v1.1h-1.1zM353.7 29.8h1.1v1.1h-1.1zM366.1 42.2h1.1v1.1h-1.1zM360.7 33.8h1.1v1.1h-1.1zM352.6 31.6h1.1v1.1h-1.1zM367.2 40.5h1.1v1.1h-1.1zM363.3 38.8h1.1v1.1h-1.1zM354.7 32.5h1.1v1.1h-1.1zM358.2 30.5h1.1v1.1h-1.1zM367.7 29.1h1.1v1.1h-1.1zM358.9 30.5h1.1v1.1h-1.1zM370.4 37.6h1.1v1.1h-1.1zM362.2 32.4h1.1v1.1h-1.1zM361.5 36.1h1.1v1.1h-1.1zM370.3 29.9h1.1v1.1h-1.1zM357.5 26.9h1.1v1.1h-1.1zM362.6 40.1h1.1v1.1h-1.1zM355.3 33.5h1.1v1.1h-1.1zM360.1 41.6h1.1v1.1h-1.1zM371.0 32.3h1.1v1.1h-1.1zM367.7 43.2h1.1v1.1h-1.1zM366.0 31.0h1.1v1.1h-1.1zM362.9 30.6h1.1v1.1h-1.1zM361.5 34.2h1.1v1.1h-1.1zM371.4 42.9h1.1v1.1h-1.1zM371.7 34.4h1.1v1.1h-1.1zM371.6 37.6h1.1v1.1h-1.1zM370.6 33.1h1.1v1.1h-1.1zM370.0 41.2h1.1v1.1h-1.1zM359.9 41.3h1.1v1.1h-1.1zM361.9 33.0h1.1v1.1h-1.1zM359.9 33.1h1.1v1.1h-1.1zM364.2 42.6h1.1v1.1h-1.1zM372.1 37.5h1.1v1.1h-1.1zM359.7 27.0h1.1v1.1h-1.1zM364.4 33.7h1.1v1.1h-1.1zM359.4 33.2h1.1v1.1h-1.1zM364.5 35.7h1.1v1.1h-1.1zM361.0 29.8h1.1v1.1h-1.1zM358.7 34.7h1.1v1.1h-1.1zM361.5 44.3h1.1v1.1h-1.1zM364.0 29.0h1.1v1.1h-1.1zM353.1 28.0h1.1v1.1h-1.1zM359.3 40.4h1.1v1.1h-1.1zM368.6 33.6h1.1v1.1h-1.1zM363.4 35.5h1.1v1.1h-1.1zM366.2 38.6h1.1v1.1h-1.1zM360.1 43.1h1.1v1.1h-1.1z" fill="#F6BE10"/>
<path d="M369.4 30.9h1.1v1.1h-1.1zM365.9 29.3h1.1v1.1h-1.1zM365.3 30.4h1.1v1.1h-1.1zM361.4 29.5h1.1v1.1h-1.1zM355.9 28.5h1.1v1.1h-1.1zM369.3 33.9h1.1v1.1h-1.1zM367.2 31.8h1.1v1.1h-1.1zM369.2 36.7h1.1v1.1h-1.1zM365.9 32.7h1.1v1.1h-1.1zM363.9 28.6h1.1v1.1h-1.1zM372.7 38.2h1.1v1.1h-1.1zM363.3 37.6h1.1v1.1h-1.1zM354.1 31.5h1.1v1.1h-1.1zM370.5 40.4h1.1v1.1h-1.1zM367.3 30.8h1.1v1.1h-1.1zM358.3 39.2h1.1v1.1h-1.1zM359.4 40.0h1.1v1.1h-1.1zM364.2 41.1h1.1v1.1h-1.1zM363.6 32.6h1.1v1.1h-1.1zM368.4 31.1h1.1v1.1h-1.1zM363.7 39.9h1.1v1.1h-1.1zM362.4 25.6h1.1v1.1h-1.1zM368.4 29.2h1.1v1.1h-1.1zM357.5 38.1h1.1v1.1h-1.1zM368.2 37.5h1.1v1.1h-1.1z" fill="#F39A17"/>
<path d="M361.4 39.4h1.0v1.0h-1.0zM366.2 28.9h1.0v1.0h-1.0zM363.4 36.7h1.0v1.0h-1.0zM367.5 28.8h1.0v1.0h-1.0zM358.6 31.7h1.0v1.0h-1.0zM354.0 31.8h1.0v1.0h-1.0zM367.5 36.3h1.0v1.0h-1.0zM355.1 26.8h1.0v1.0h-1.0zM357.3 35.1h1.0v1.0h-1.0zM367.9 38.7h1.0v1.0h-1.0zM363.9 29.9h1.0v1.0h-1.0zM352.2 31.4h1.0v1.0h-1.0z" fill="#4FAE4A"/>
<path d="M358.8 28.8h1.0v1.0h-1.0zM361.1 42.7h1.0v1.0h-1.0zM358.5 25.1h1.0v1.0h-1.0zM356.5 27.2h1.0v1.0h-1.0zM359.8 27.2h1.0v1.0h-1.0zM355.8 29.8h1.0v1.0h-1.0zM364.3 33.7h1.0v1.0h-1.0zM358.4 35.3h1.0v1.0h-1.0zM368.5 39.3h1.0v1.0h-1.0z" fill="#3A63B8"/>
<path d="M359.3 43.1h1.0v1.0h-1.0zM368.8 36.0h1.0v1.0h-1.0zM362.1 31.4h1.0v1.0h-1.0zM364.9 26.8h1.0v1.0h-1.0zM371.7 42.5h1.0v1.0h-1.0zM357.0 35.5h1.0v1.0h-1.0zM369.7 31.8h1.0v1.0h-1.0zM362.6 38.1h1.0v1.0h-1.0zM352.8 30.3h1.0v1.0h-1.0z" fill="#E8241F"/>
<path d="M354.4 27.8h1.0v1.0h-1.0zM363.2 28.3h1.0v1.0h-1.0zM365.2 42.0h1.0v1.0h-1.0zM354.6 29.2h1.0v1.0h-1.0zM368.3 34.2h1.0v1.0h-1.0zM360.4 43.9h1.0v1.0h-1.0z" fill="#B049B8"/>
<path d="M324.4 76.9h1.1v1.1h-1.1zM327.3 73.6h1.1v1.1h-1.1zM327.4 73.1h1.1v1.1h-1.1zM321.5 72.5h1.1v1.1h-1.1zM322.7 73.6h1.1v1.1h-1.1zM322.4 74.5h1.1v1.1h-1.1zM323.5 74.7h1.1v1.1h-1.1zM321.3 70.1h1.1v1.1h-1.1zM317.9 69.1h1.1v1.1h-1.1zM326.4 73.2h1.1v1.1h-1.1zM325.1 74.7h1.1v1.1h-1.1zM321.0 61.3h1.1v1.1h-1.1zM320.2 63.3h1.1v1.1h-1.1zM317.6 67.9h1.1v1.1h-1.1zM328.2 73.3h1.1v1.1h-1.1zM323.8 69.2h1.1v1.1h-1.1zM319.4 69.5h1.1v1.1h-1.1zM320.9 64.9h1.1v1.1h-1.1zM323.3 71.8h1.1v1.1h-1.1zM324.7 76.0h1.1v1.1h-1.1zM324.0 69.5h1.1v1.1h-1.1zM317.7 66.4h1.1v1.1h-1.1zM321.5 62.9h1.1v1.1h-1.1zM322.8 61.4h1.1v1.1h-1.1zM326.8 73.7h1.1v1.1h-1.1zM321.3 73.2h1.1v1.1h-1.1zM320.1 70.3h1.1v1.1h-1.1zM325.1 74.0h1.1v1.1h-1.1zM319.7 66.7h1.1v1.1h-1.1zM327.9 74.5h1.1v1.1h-1.1z" fill="#F6BE10"/>
<path d="M320.2 62.6h1.1v1.1h-1.1zM326.7 73.5h1.1v1.1h-1.1zM325.7 74.1h1.1v1.1h-1.1zM324.1 70.4h1.1v1.1h-1.1zM325.8 70.8h1.1v1.1h-1.1zM323.8 73.7h1.1v1.1h-1.1zM322.9 68.0h1.1v1.1h-1.1zM323.0 70.4h1.1v1.1h-1.1zM322.1 67.5h1.1v1.1h-1.1zM322.9 67.1h1.1v1.1h-1.1z" fill="#F39A17"/>
<path d="M322.5 68.4h1.0v1.0h-1.0zM328.6 76.8h1.0v1.0h-1.0zM321.1 68.7h1.0v1.0h-1.0zM321.6 61.8h1.0v1.0h-1.0z" fill="#4FAE4A"/>
<path d="M328.8 75.1h1.0v1.0h-1.0zM320.6 65.1h1.0v1.0h-1.0zM326.4 74.4h1.0v1.0h-1.0z" fill="#3A63B8"/>
<path d="M323.5 67.4h1.0v1.0h-1.0zM320.5 74.4h1.0v1.0h-1.0zM328.4 75.5h1.0v1.0h-1.0z" fill="#E8241F"/>
<path d="M319.0 70.9h1.0v1.0h-1.0zM323.3 63.2h1.0v1.0h-1.0z" fill="#B049B8"/>
<path d="M322.2 91.2h1.1v1.1h-1.1zM322.4 92.2h1.1v1.1h-1.1zM333.9 87.9h1.1v1.1h-1.1zM332.4 87.2h1.1v1.1h-1.1zM325.9 93.7h1.1v1.1h-1.1zM325.5 86.2h1.1v1.1h-1.1zM332.1 86.0h1.1v1.1h-1.1zM329.5 92.2h1.1v1.1h-1.1zM324.5 91.0h1.1v1.1h-1.1zM327.4 93.9h1.1v1.1h-1.1zM329.0 89.8h1.1v1.1h-1.1zM333.4 86.2h1.1v1.1h-1.1zM327.0 89.7h1.1v1.1h-1.1zM338.5 88.4h1.1v1.1h-1.1zM326.0 89.3h1.1v1.1h-1.1zM326.4 91.8h1.1v1.1h-1.1zM329.5 93.5h1.1v1.1h-1.1zM327.5 86.9h1.1v1.1h-1.1zM335.7 87.0h1.1v1.1h-1.1zM330.2 86.9h1.1v1.1h-1.1zM329.3 93.6h1.1v1.1h-1.1zM325.9 94.3h1.1v1.1h-1.1zM331.2 90.5h1.1v1.1h-1.1zM328.4 85.3h1.1v1.1h-1.1zM323.6 93.2h1.1v1.1h-1.1zM328.0 90.8h1.1v1.1h-1.1zM329.9 88.6h1.1v1.1h-1.1zM327.5 90.5h1.1v1.1h-1.1zM334.8 87.4h1.1v1.1h-1.1zM325.1 92.4h1.1v1.1h-1.1zM331.7 86.0h1.1v1.1h-1.1zM326.4 86.2h1.1v1.1h-1.1zM336.3 91.9h1.1v1.1h-1.1zM334.5 93.2h1.1v1.1h-1.1zM326.0 88.6h1.1v1.1h-1.1zM337.0 89.3h1.1v1.1h-1.1zM329.3 84.9h1.1v1.1h-1.1zM333.7 86.4h1.1v1.1h-1.1zM338.2 85.6h1.1v1.1h-1.1z" fill="#F6BE10"/>
<path d="M333.5 90.5h1.1v1.1h-1.1zM321.9 89.7h1.1v1.1h-1.1zM327.8 84.2h1.1v1.1h-1.1zM329.5 93.7h1.1v1.1h-1.1zM333.2 90.2h1.1v1.1h-1.1zM330.9 84.1h1.1v1.1h-1.1zM331.0 87.9h1.1v1.1h-1.1zM331.7 91.1h1.1v1.1h-1.1zM338.3 87.8h1.1v1.1h-1.1zM321.8 92.5h1.1v1.1h-1.1zM323.8 89.5h1.1v1.1h-1.1zM326.7 92.7h1.1v1.1h-1.1zM334.3 92.0h1.1v1.1h-1.1z" fill="#F39A17"/>
<path d="M328.9 83.8h1.0v1.0h-1.0zM333.8 85.9h1.0v1.0h-1.0zM328.8 83.4h1.0v1.0h-1.0zM328.5 88.9h1.0v1.0h-1.0zM331.7 87.0h1.0v1.0h-1.0zM327.4 93.8h1.0v1.0h-1.0z" fill="#4FAE4A"/>
<path d="M335.8 88.7h1.0v1.0h-1.0zM336.3 89.1h1.0v1.0h-1.0zM322.9 93.0h1.0v1.0h-1.0zM327.3 87.0h1.0v1.0h-1.0z" fill="#3A63B8"/>
<path d="M334.7 92.0h1.0v1.0h-1.0zM335.8 90.7h1.0v1.0h-1.0zM328.2 86.2h1.0v1.0h-1.0zM324.0 92.5h1.0v1.0h-1.0z" fill="#E8241F"/>
<path d="M329.9 92.2h1.0v1.0h-1.0zM327.6 85.9h1.0v1.0h-1.0zM331.0 91.4h1.0v1.0h-1.0z" fill="#B049B8"/>
<path d="M362.1 60.2h1.1v1.1h-1.1zM357.0 60.8h1.1v1.1h-1.1zM361.5 65.4h1.1v1.1h-1.1zM353.3 60.3h1.1v1.1h-1.1zM359.9 59.6h1.1v1.1h-1.1zM340.7 58.2h1.1v1.1h-1.1zM360.1 62.4h1.1v1.1h-1.1zM353.3 62.6h1.1v1.1h-1.1zM341.2 57.5h1.1v1.1h-1.1zM356.4 63.8h1.1v1.1h-1.1zM360.0 64.5h1.1v1.1h-1.1zM359.3 57.7h1.1v1.1h-1.1zM352.7 65.5h1.1v1.1h-1.1zM362.6 65.2h1.1v1.1h-1.1zM349.1 61.8h1.1v1.1h-1.1zM359.4 64.3h1.1v1.1h-1.1zM356.8 61.4h1.1v1.1h-1.1zM353.5 65.9h1.1v1.1h-1.1zM357.6 61.9h1.1v1.1h-1.1zM361.2 57.6h1.1v1.1h-1.1zM360.5 60.5h1.1v1.1h-1.1zM340.5 63.0h1.1v1.1h-1.1zM347.1 59.0h1.1v1.1h-1.1zM362.8 66.3h1.1v1.1h-1.1zM353.4 61.4h1.1v1.1h-1.1zM364.0 64.9h1.1v1.1h-1.1zM360.6 56.7h1.1v1.1h-1.1zM341.8 60.1h1.1v1.1h-1.1zM341.8 61.1h1.1v1.1h-1.1zM344.4 56.0h1.1v1.1h-1.1zM345.8 56.5h1.1v1.1h-1.1zM352.6 59.5h1.1v1.1h-1.1zM356.5 62.8h1.1v1.1h-1.1zM354.4 59.5h1.1v1.1h-1.1zM358.1 64.5h1.1v1.1h-1.1zM357.6 61.7h1.1v1.1h-1.1zM350.9 59.4h1.1v1.1h-1.1zM339.5 61.6h1.1v1.1h-1.1zM354.9 58.1h1.1v1.1h-1.1zM361.5 66.9h1.1v1.1h-1.1zM361.3 66.1h1.1v1.1h-1.1zM351.5 58.0h1.1v1.1h-1.1zM347.3 59.6h1.1v1.1h-1.1zM354.2 66.2h1.1v1.1h-1.1zM340.1 62.6h1.1v1.1h-1.1zM358.1 68.2h1.1v1.1h-1.1zM345.2 56.1h1.1v1.1h-1.1zM363.8 59.1h1.1v1.1h-1.1zM353.5 60.3h1.1v1.1h-1.1zM353.9 67.6h1.1v1.1h-1.1zM338.9 61.0h1.1v1.1h-1.1zM363.7 59.0h1.1v1.1h-1.1zM355.9 56.9h1.1v1.1h-1.1zM357.1 60.1h1.1v1.1h-1.1zM342.3 56.7h1.1v1.1h-1.1zM352.7 59.2h1.1v1.1h-1.1zM358.0 64.2h1.1v1.1h-1.1zM361.0 60.9h1.1v1.1h-1.1zM353.4 66.5h1.1v1.1h-1.1zM339.1 62.5h1.1v1.1h-1.1z" fill="#E8241F"/>
<path d="M353.8 57.6h1.0v1.0h-1.0zM363.1 61.3h1.0v1.0h-1.0zM354.3 61.2h1.0v1.0h-1.0zM357.5 57.4h1.0v1.0h-1.0zM361.5 66.9h1.0v1.0h-1.0zM358.6 63.3h1.0v1.0h-1.0zM350.0 58.7h1.0v1.0h-1.0zM354.2 68.1h1.0v1.0h-1.0zM344.0 56.7h1.0v1.0h-1.0zM357.0 57.1h1.0v1.0h-1.0zM357.2 59.8h1.0v1.0h-1.0zM359.8 58.1h1.0v1.0h-1.0zM356.4 60.4h1.0v1.0h-1.0zM358.7 61.7h1.0v1.0h-1.0zM351.1 64.4h1.0v1.0h-1.0zM354.8 61.1h1.0v1.0h-1.0zM347.2 58.6h1.0v1.0h-1.0zM355.3 65.1h1.0v1.0h-1.0zM363.6 61.3h1.0v1.0h-1.0zM355.9 66.7h1.0v1.0h-1.0z" fill="#F6BE10"/>
<path d="M343.9 60.1h1.0v1.0h-1.0zM358.4 63.7h1.0v1.0h-1.0zM363.3 64.2h1.0v1.0h-1.0zM339.4 61.2h1.0v1.0h-1.0zM339.2 62.4h1.0v1.0h-1.0zM355.4 58.3h1.0v1.0h-1.0zM361.4 61.0h1.0v1.0h-1.0zM364.1 60.3h1.0v1.0h-1.0zM355.0 62.6h1.0v1.0h-1.0zM360.1 57.1h1.0v1.0h-1.0zM359.3 60.7h1.0v1.0h-1.0zM352.5 61.1h1.0v1.0h-1.0z" fill="#F39A17"/>
<path d="M358.1 64.6h1.0v1.0h-1.0zM360.7 64.3h1.0v1.0h-1.0zM355.3 59.7h1.0v1.0h-1.0zM347.6 60.2h1.0v1.0h-1.0zM362.6 66.0h1.0v1.0h-1.0zM338.6 61.0h1.0v1.0h-1.0zM360.1 65.7h1.0v1.0h-1.0zM359.6 57.3h1.0v1.0h-1.0zM361.0 66.2h1.0v1.0h-1.0zM352.3 58.7h1.0v1.0h-1.0z" fill="#4FAE4A"/>
<path d="M361.4 57.3h1.0v1.0h-1.0zM364.8 61.0h1.0v1.0h-1.0zM359.1 65.9h1.0v1.0h-1.0zM354.0 68.2h1.0v1.0h-1.0zM359.2 67.5h1.0v1.0h-1.0zM358.5 58.6h1.0v1.0h-1.0z" fill="#3A63B8"/>
<path d="M362.1 51.8h1.1v1.1h-1.1zM363.9 58.1h1.1v1.1h-1.1zM369.7 60.3h1.1v1.1h-1.1zM363.8 55.3h1.1v1.1h-1.1zM357.2 48.0h1.1v1.1h-1.1zM370.3 56.1h1.1v1.1h-1.1zM363.5 50.6h1.1v1.1h-1.1zM368.3 61.0h1.1v1.1h-1.1zM359.1 50.6h1.1v1.1h-1.1zM361.7 54.9h1.1v1.1h-1.1zM365.3 60.7h1.1v1.1h-1.1zM367.2 56.4h1.1v1.1h-1.1zM367.4 58.7h1.1v1.1h-1.1zM358.2 48.2h1.1v1.1h-1.1zM358.3 46.7h1.1v1.1h-1.1zM360.8 52.4h1.1v1.1h-1.1zM360.8 50.2h1.1v1.1h-1.1zM362.1 52.9h1.1v1.1h-1.1zM362.8 51.5h1.1v1.1h-1.1zM365.7 55.2h1.1v1.1h-1.1zM368.0 57.0h1.1v1.1h-1.1zM368.2 56.1h1.1v1.1h-1.1zM373.0 60.6h1.1v1.1h-1.1zM359.1 51.8h1.1v1.1h-1.1zM372.0 59.4h1.1v1.1h-1.1zM358.4 50.8h1.1v1.1h-1.1zM368.5 56.4h1.1v1.1h-1.1zM366.1 59.8h1.1v1.1h-1.1zM360.5 48.7h1.1v1.1h-1.1zM367.5 54.7h1.1v1.1h-1.1zM356.2 47.9h1.1v1.1h-1.1zM367.0 55.8h1.1v1.1h-1.1z" fill="#E8241F"/>
<path d="M364.1 54.9h1.0v1.0h-1.0zM370.0 56.4h1.0v1.0h-1.0zM367.0 53.3h1.0v1.0h-1.0zM365.4 53.1h1.0v1.0h-1.0zM369.8 57.8h1.0v1.0h-1.0zM365.1 54.8h1.0v1.0h-1.0zM362.6 54.2h1.0v1.0h-1.0zM358.3 46.7h1.0v1.0h-1.0zM366.8 61.6h1.0v1.0h-1.0zM361.3 51.9h1.0v1.0h-1.0zM365.5 58.9h1.0v1.0h-1.0z" fill="#F6BE10"/>
<path d="M359.8 52.2h1.0v1.0h-1.0zM363.6 52.5h1.0v1.0h-1.0zM367.2 61.5h1.0v1.0h-1.0zM368.5 55.7h1.0v1.0h-1.0zM366.3 55.5h1.0v1.0h-1.0zM363.1 56.5h1.0v1.0h-1.0z" fill="#F39A17"/>
<path d="M363.0 50.7h1.0v1.0h-1.0zM361.1 54.0h1.0v1.0h-1.0zM371.3 57.6h1.0v1.0h-1.0zM360.8 48.8h1.0v1.0h-1.0zM367.1 59.9h1.0v1.0h-1.0z" fill="#4FAE4A"/>
<path d="M367.8 59.9h1.0v1.0h-1.0zM358.9 50.2h1.0v1.0h-1.0zM367.3 53.6h1.0v1.0h-1.0z" fill="#3A63B8"/>
<path d="M368.4 52.6h1.1v1.1h-1.1zM372.7 58.9h1.1v1.1h-1.1zM355.3 45.2h1.1v1.1h-1.1zM363.1 49.2h1.1v1.1h-1.1zM370.6 55.1h1.1v1.1h-1.1zM356.7 45.6h1.1v1.1h-1.1zM356.7 47.4h1.1v1.1h-1.1zM356.6 47.5h1.1v1.1h-1.1zM361.3 48.0h1.1v1.1h-1.1zM369.7 55.0h1.1v1.1h-1.1zM364.3 51.6h1.1v1.1h-1.1zM356.0 44.3h1.1v1.1h-1.1zM368.1 53.6h1.1v1.1h-1.1zM367.1 52.0h1.1v1.1h-1.1zM355.2 45.9h1.1v1.1h-1.1zM372.5 58.0h1.1v1.1h-1.1z" fill="#E8241F"/>
<path d="M360.8 46.3h1.0v1.0h-1.0zM367.2 54.4h1.0v1.0h-1.0zM360.3 45.2h1.0v1.0h-1.0zM368.1 54.0h1.0v1.0h-1.0zM365.5 52.2h1.0v1.0h-1.0z" fill="#F6BE10"/>
<path d="M367.1 53.7h1.0v1.0h-1.0zM364.8 52.0h1.0v1.0h-1.0zM359.4 47.5h1.0v1.0h-1.0z" fill="#F39A17"/>
<path d="M372.7 58.6h1.0v1.0h-1.0zM366.3 52.5h1.0v1.0h-1.0z" fill="#4FAE4A"/>
<path d="M371.3 58.5h1.0v1.0h-1.0z" fill="#3A63B8"/>
<polygon points="379.2,72.5 380.9,71.0 381.8,74.0 382.6,76.2 383.3,78.4 381.8,79.9 379.2,80.3 378.3,77.7" fill="#D5481A"/>
<path d="M379.0 77.3h1.0v1.0h-1.0zM376.8 68.8h1.0v1.0h-1.0zM371.4 74.7h1.0v1.0h-1.0zM376.4 68.6h1.0v1.0h-1.0zM375.0 78.6h1.0v1.0h-1.0zM367.7 79.0h1.0v1.0h-1.0zM377.9 75.8h1.0v1.0h-1.0zM379.9 79.7h1.0v1.0h-1.0zM376.3 77.6h1.0v1.0h-1.0z" fill="#E8241F"/>
<path d="M314.5 20.2V97.4H386.2" fill="none" stroke="#333" stroke-width="0.7"/>
<path d="M324.6 97.4v1.5" stroke="#333" stroke-width="0.7"/>
<text x="324.6" y="103.7" font-size="5.0" text-anchor="middle" fill="#333">−10</text>
<path d="M339.0 97.4v1.5" stroke="#333" stroke-width="0.7"/>
<text x="339.0" y="103.7" font-size="5.0" text-anchor="middle" fill="#333">−5</text>
<path d="M353.2 97.4v1.5" stroke="#333" stroke-width="0.7"/>
<text x="353.2" y="103.7" font-size="5.0" text-anchor="middle" fill="#333">0</text>
<path d="M367.9 97.4v1.5" stroke="#333" stroke-width="0.7"/>
<text x="367.9" y="103.7" font-size="5.0" text-anchor="middle" fill="#333">5</text>
<path d="M382.3 97.4v1.5" stroke="#333" stroke-width="0.7"/>
<text x="382.3" y="103.7" font-size="5.0" text-anchor="middle" fill="#333">10</text>
<path d="M314.5 32.4h-1.5" stroke="#333" stroke-width="0.7"/>
<text x="312.0" y="34.1" font-size="5.0" text-anchor="end" fill="#333">10</text>
<path d="M314.5 47.6h-1.5" stroke="#333" stroke-width="0.7"/>
<text x="312.0" y="49.4" font-size="5.0" text-anchor="end" fill="#333">5</text>
<path d="M314.5 62.4h-1.5" stroke="#333" stroke-width="0.7"/>
<text x="312.0" y="64.2" font-size="5.0" text-anchor="end" fill="#333">0</text>
<path d="M314.5 77.2h-1.5" stroke="#333" stroke-width="0.7"/>
<text x="312.0" y="79.0" font-size="5.0" text-anchor="end" fill="#333">−5</text>
<path d="M314.5 92.3h-1.5" stroke="#333" stroke-width="0.7"/>
<text x="312.0" y="94.0" font-size="5.0" text-anchor="end" fill="#333">−10</text>
<text x="350.6" y="111" font-size="5.5" text-anchor="middle">umap_1</text>
<text transform="translate(303,59) rotate(-90)" font-size="5.5" text-anchor="middle">umap_2</text>
<circle cx="394.2" cy="31.3" r="1.9" fill="#3F3F3F"/>
<text x="400" y="32.9" font-size="4.6" fill="#333">CID3941</text>
<circle cx="394.2" cy="37.1" r="1.9" fill="#DADADA"/>
<text x="400" y="38.7" font-size="4.6" fill="#333">CID3946</text>
<circle cx="394.2" cy="43.0" r="1.9" fill="#E8241F"/>
<text x="400" y="44.6" font-size="4.6" fill="#333">CID3948</text>
<circle cx="394.2" cy="48.8" r="1.9" fill="#B44BAE"/>
<text x="400" y="50.4" font-size="4.6" fill="#333">CID3963</text>
<circle cx="394.2" cy="54.6" r="1.9" fill="#5BB04A"/>
<text x="400" y="56.2" font-size="4.6" fill="#333">CID4040</text>
<circle cx="394.2" cy="60.5" r="1.9" fill="#3A63B8"/>
<text x="400" y="62.1" font-size="4.6" fill="#333">CID4067</text>
<circle cx="394.2" cy="66.3" r="1.9" fill="#F59A16"/>
<text x="400" y="67.9" font-size="4.6" fill="#333">CID4290A</text>
<circle cx="394.2" cy="72.1" r="1.9" fill="#A51C5F"/>
<text x="400" y="73.7" font-size="4.6" fill="#333">CID4398</text>
<circle cx="394.2" cy="77.9" r="1.9" fill="#59BFAE"/>
<text x="400" y="79.5" font-size="4.6" fill="#333">CID44041</text>
<circle cx="394.2" cy="83.8" r="1.9" fill="#7FA32A"/>
<text x="400" y="85.4" font-size="4.6" fill="#333">CID4461</text>
<circle cx="394.2" cy="89.6" r="1.9" fill="#39B8E8"/>
<text x="400" y="91.2" font-size="4.6" fill="#333">CID4463</text>
<circle cx="426.8" cy="31.3" r="1.9" fill="#C99AD8"/>
<text x="432.3" y="32.9" font-size="4.6" fill="#333">CID4465</text>
<circle cx="426.8" cy="37.1" r="1.9" fill="#6E3FA0"/>
<text x="432.3" y="38.7" font-size="4.6" fill="#333">CID4471</text>
<circle cx="426.8" cy="43.0" r="1.9" fill="#F2A3A5"/>
<text x="432.3" y="44.6" font-size="4.6" fill="#333">CID4495</text>
<circle cx="426.8" cy="48.8" r="1.9" fill="#1E4C9A"/>
<text x="432.3" y="50.4" font-size="4.6" fill="#333">CID44971</text>
<circle cx="426.8" cy="54.6" r="1.9" fill="#C9431F"/>
<text x="432.3" y="56.2" font-size="4.6" fill="#333">CID44991</text>
<circle cx="426.8" cy="60.5" r="1.9" fill="#17794A"/>
<text x="432.3" y="62.1" font-size="4.6" fill="#333">CID4513</text>
<circle cx="426.8" cy="66.3" r="1.9" fill="#7D5A1D"/>
<text x="432.3" y="67.9" font-size="4.6" fill="#333">CID4515</text>
<circle cx="426.8" cy="72.1" r="1.9" fill="#9B2A9B"/>
<text x="432.3" y="73.7" font-size="4.6" fill="#333">CID4523</text>
<circle cx="426.8" cy="77.9" r="1.9" fill="#F5C211"/>
<text x="432.3" y="79.5" font-size="4.6" fill="#333">CID4530N</text>
<circle cx="426.8" cy="83.8" r="1.9" fill="#2FA84A"/>
<text x="432.3" y="85.4" font-size="4.6" fill="#333">CID4535</text>
<polygon points="331.9,118.4 334.3,117.3 337.1,117.1 339.4,117.5 340.6,118.8 340.3,120.7 339.6,123.2 338.5,125.7 336.6,128.6 335.9,132.1 336.1,135.9 335.7,138.4 333.8,139.9 331.5,139.4 330.1,137.8 329.8,134.0 330.1,128.9 330.8,123.2 331.5,120.0" fill="#A7C9E1"/>
<polygon points="328.9,124.5 330.3,125.7 330.3,135.3 327.8,135.1 325.9,134.3 324.9,132.7 325.0,130.2 325.9,128.3 327.3,126.4" fill="#A7C9E1"/>
<polygon points="355.5,123.2 356.6,120.7 359.4,119.2 363.1,118.8 366.9,118.9 370.6,120.0 373.4,121.6 375.7,123.5 377.6,125.7 378.3,128.9 378.0,132.1 377.1,134.3 374.3,135.7 370.6,135.7 368.7,135.3 365.9,135.6 363.1,134.6 361.7,132.1 360.3,128.9 357.5,127.6 355.7,125.7" fill="#A7C9E1"/>
<polygon points="358.0,136.2 359.4,135.0 362.2,135.0 365.0,136.2 368.7,139.1 372.9,142.3 376.6,145.4 379.0,148.0 378.0,148.9 375.2,146.7 371.5,143.8 368.3,141.3 365.9,139.4 363.6,138.1 361.3,137.8 359.4,138.4 358.0,137.8" fill="#A7C9E1"/>
<polygon points="359.4,137.8 362.2,137.2 365.9,139.1 369.6,141.6 373.4,144.2 376.6,146.1 379.0,148.0 380.8,149.9 375.2,150.2 370.6,150.5 368.7,148.6 367.8,146.1 365.0,144.8 362.2,141.0" fill="#A7C9E1"/>
<polygon points="341.0,152.7 341.0,149.9 342.2,147.3 344.5,145.7 347.8,145.1 351.0,145.4 353.8,146.4 355.7,147.7 357.1,149.9 357.5,152.7 356.6,154.3 355.2,153.7 353.4,151.1 351.0,149.6 347.8,148.9 345.0,149.6 343.6,151.1 342.2,153.1" fill="#A7C9E1"/>
<polygon points="353.8,147.3 355.7,145.7 358.5,144.8 362.2,144.5 365.0,144.2 367.3,145.1 368.7,146.7 369.2,148.6 369.6,151.1 369.2,153.7 367.3,155.3 364.1,156.2 360.3,156.2 357.5,155.6 355.2,153.4 354.3,150.5" fill="#A7C9E1"/>
<polygon points="357.3,156.2 360.3,155.9 364.1,156.2 367.3,155.3 369.6,153.1 372.0,152.1 373.8,151.5 375.7,149.9 377.1,148.3 378.5,147.7 379.9,148.9 381.7,150.8 383.6,152.7 385.0,154.6 386.4,157.5 387.3,160.7 388.3,163.2 389.0,164.8 387.3,166.1 384.5,167.0 380.8,168.0 376.2,168.5 370.6,168.3 366.9,168.0 363.1,167.0 360.3,166.2 358.5,164.8 357.3,162.6 357.1,159.4" fill="#A7C9E1"/>
<polygon points="321.7,149.9 323.6,149.4 325.4,149.7 326.1,150.8 325.4,152.7 325.3,155.0 326.6,157.2 330.1,159.4 332.2,160.7 332.2,162.3 330.1,163.5 327.8,164.0 325.0,163.5 322.2,162.3 319.8,160.0 318.7,157.5 318.7,155.0 319.1,152.7 320.3,150.8" fill="#A7C9E1"/>
<polygon points="322.4,174.0 323.1,172.7 326.4,171.5 328.7,170.2 330.1,168.9 330.5,167.3 331.5,167.7 332.4,168.9 334.3,169.6 337.1,170.2 340.8,170.5 342.9,171.5 343.1,173.4 342.2,175.9 339.9,176.9 336.1,177.2 332.4,178.1 328.7,178.3 325.0,177.8 323.1,176.6" fill="#A7C9E1"/>
<polygon points="368.7,143.5 371.0,143.8 372.9,145.1 373.4,146.7 372.0,148.0 370.1,148.0 368.7,146.7 368.3,145.1" fill="#FFFFFF"/>
<polygon points="380.8,149.9 383.6,152.7 385.5,155.9 386.9,159.1 388.3,162.3 389.0,164.5 387.3,165.8 383.6,166.4 379.9,168.0 376.2,168.6 370.6,168.3 371.5,167.5 377.1,167.3 380.8,166.1 384.5,164.8 386.4,162.9 385.0,158.5 383.1,154.3 379.9,151.1" fill="#E3191C"/>
<polygon points="341.0,152.7 341.0,149.9 342.2,147.3 344.5,145.7 347.8,145.1 351.0,145.4 353.8,146.4 356.6,146.1 360.3,145.7 364.1,145.4 366.9,146.1 368.7,148.0 369.6,150.5 368.7,153.1 365.9,155.0 361.3,155.9 357.5,155.9 356.6,154.3 355.2,153.7 353.4,151.1 351.0,149.6 347.8,148.9 345.0,149.6 343.6,151.1 342.2,153.1" fill="none" stroke="#E3191C" stroke-width="0.5" stroke-dasharray="1.5 1.2"/>
<polygon points="359.4,137.8 362.2,137.2 365.9,139.1 369.6,141.6 373.4,144.2 376.6,146.1 379.0,148.0 380.8,149.9 375.2,150.2 370.6,150.5 368.7,148.6 367.8,146.1 365.0,144.8 362.2,141.0" fill="none" stroke="#E3191C" stroke-width="0.5" stroke-dasharray="1.5 1.2"/>
<path d="M363.2 141.7h1.0v1.0h-1.0zM367.1 142.4h1.0v1.0h-1.0zM365.3 144.2h1.0v1.0h-1.0zM362.5 140.6h1.0v1.0h-1.0zM368.4 147.3h1.0v1.0h-1.0zM368.7 142.8h1.0v1.0h-1.0zM368.0 144.1h1.0v1.0h-1.0zM363.5 138.9h1.0v1.0h-1.0zM368.7 141.4h1.0v1.0h-1.0zM369.2 144.6h1.0v1.0h-1.0zM374.8 145.9h1.0v1.0h-1.0zM361.8 139.1h1.0v1.0h-1.0zM363.3 139.6h1.0v1.0h-1.0zM364.7 139.6h1.0v1.0h-1.0zM376.8 146.2h1.0v1.0h-1.0zM368.6 145.3h1.0v1.0h-1.0zM376.0 148.7h1.0v1.0h-1.0zM367.4 142.1h1.0v1.0h-1.0zM363.9 138.9h1.0v1.0h-1.0zM378.1 149.8h1.0v1.0h-1.0zM371.7 148.9h1.0v1.0h-1.0zM365.7 144.9h1.0v1.0h-1.0zM370.6 148.1h1.0v1.0h-1.0zM363.8 139.6h1.0v1.0h-1.0zM360.1 138.3h1.0v1.0h-1.0z" fill="#E3191C"/>
<path d="M361.3 150.5h1.0v1.0h-1.0zM344.2 150.2h1.0v1.0h-1.0zM367.9 149.3h1.0v1.0h-1.0zM357.0 149.7h1.0v1.0h-1.0zM366.3 151.4h1.0v1.0h-1.0zM351.0 148.2h1.0v1.0h-1.0zM365.1 149.2h1.0v1.0h-1.0zM358.3 151.1h1.0v1.0h-1.0zM346.8 145.5h1.0v1.0h-1.0zM362.1 146.9h1.0v1.0h-1.0zM359.7 151.7h1.0v1.0h-1.0z" fill="#E3191C"/>
<path d="M378.1 130.0h1.0v1.0h-1.0zM377.3 127.1h1.0v1.0h-1.0zM374.5 126.8h1.0v1.0h-1.0zM360.4 125.7h1.0v1.0h-1.0zM369.5 130.8h1.0v1.0h-1.0zM371.0 125.5h1.0v1.0h-1.0zM375.8 132.8h1.0v1.0h-1.0zM372.9 128.9h1.0v1.0h-1.0zM363.2 132.7h1.0v1.0h-1.0zM370.9 133.0h1.0v1.0h-1.0zM373.7 126.5h1.0v1.0h-1.0z" fill="#E3191C"/>
<path d="M371.7 142.5h1.0v1.0h-1.0zM362.7 136.8h1.0v1.0h-1.0zM373.8 144.4h1.0v1.0h-1.0zM367.7 140.7h1.0v1.0h-1.0zM376.4 147.1h1.0v1.0h-1.0zM371.9 141.8h1.0v1.0h-1.0zM359.3 137.8h1.0v1.0h-1.0zM373.6 143.6h1.0v1.0h-1.0zM361.8 137.5h1.0v1.0h-1.0zM362.2 135.4h1.0v1.0h-1.0z" fill="#E3191C"/>
<path d="M315.2 113.7V181.5H391.4" fill="none" stroke="#333" stroke-width="0.7"/>
<path d="M326.0 181.5v1.6" stroke="#333" stroke-width="0.7"/>
<text x="326.0" y="188.8" font-size="6.0" text-anchor="middle" fill="#333">−10</text>
<path d="M341.2 181.5v1.6" stroke="#333" stroke-width="0.7"/>
<text x="341.2" y="188.8" font-size="6.0" text-anchor="middle" fill="#333">−5</text>
<path d="M356.8 181.5v1.6" stroke="#333" stroke-width="0.7"/>
<text x="356.8" y="188.8" font-size="6.0" text-anchor="middle" fill="#333">0</text>
<path d="M372.2 181.5v1.6" stroke="#333" stroke-width="0.7"/>
<text x="372.2" y="188.8" font-size="6.0" text-anchor="middle" fill="#333">5</text>
<path d="M388.0 181.5v1.6" stroke="#333" stroke-width="0.7"/>
<text x="388.0" y="188.8" font-size="6.0" text-anchor="middle" fill="#333">10</text>
<path d="M315.2 125.3h-1.6" stroke="#333" stroke-width="0.7"/>
<text x="312.6" y="127.4" font-size="6.0" text-anchor="end" fill="#333">10</text>
<path d="M315.2 138.2h-1.6" stroke="#333" stroke-width="0.7"/>
<text x="312.6" y="140.3" font-size="6.0" text-anchor="end" fill="#333">5</text>
<path d="M315.2 150.8h-1.6" stroke="#333" stroke-width="0.7"/>
<text x="312.6" y="152.9" font-size="6.0" text-anchor="end" fill="#333">0</text>
<path d="M315.2 163.5h-1.6" stroke="#333" stroke-width="0.7"/>
<text x="312.6" y="165.6" font-size="6.0" text-anchor="end" fill="#333">−5</text>
<path d="M315.2 176.5h-1.6" stroke="#333" stroke-width="0.7"/>
<text x="312.6" y="178.6" font-size="6.0" text-anchor="end" fill="#333">−10</text>
<text x="350.6" y="198" font-size="6.5" text-anchor="middle">umap_1</text>
<text transform="translate(298.7,148) rotate(-90)" font-size="6.5" text-anchor="middle">umap_2</text>
<circle cx="402.6" cy="145.4" r="2.3" fill="#A7C8E0"/><text x="410.2" y="147.5" font-size="6">ER+HER2-</text>
<circle cx="402.6" cy="153.5" r="2.3" fill="#E3191C"/><text x="410.2" y="155.6" font-size="6">TNBC</text>
<polygon points="333.6,204.0 336.0,202.9 338.9,202.7 341.4,203.1 342.6,204.3 342.3,206.2 341.6,208.8 340.4,211.3 338.5,214.2 337.7,217.7 338.0,221.5 337.5,224.1 335.5,225.5 333.1,225.1 331.7,223.5 331.4,219.6 331.7,214.5 332.4,208.8 333.1,205.6" fill="#C92029"/>
<polygon points="330.4,210.1 331.9,211.3 331.9,220.9 329.2,220.7 327.3,220.0 326.2,218.4 326.3,215.8 327.3,213.9 328.8,212.0" fill="#C92029"/>
<polygon points="358.1,208.8 359.3,206.2 362.2,204.8 366.1,204.3 370.0,204.5 373.9,205.6 376.8,207.2 379.2,209.1 381.1,211.3 381.9,214.5 381.6,217.7 380.6,220.0 377.7,221.4 373.9,221.4 371.9,220.9 369.0,221.2 366.1,220.3 364.6,217.7 363.2,214.5 360.3,213.3 358.3,211.3" fill="#C92029"/>
<polygon points="360.8,221.9 362.2,220.6 365.1,220.6 368.0,221.9 371.9,224.7 376.3,227.9 380.2,231.1 382.6,233.7 381.6,234.6 378.7,232.4 374.8,229.5 371.4,227.0 369.0,225.1 366.6,223.8 364.2,223.5 362.2,224.1 360.8,223.5" fill="#C92029"/>
<polygon points="362.2,223.5 365.1,222.8 369.0,224.7 372.9,227.3 376.8,229.8 380.2,231.7 382.6,233.7 384.5,235.6 378.7,235.9 373.9,236.2 371.9,234.3 370.9,231.7 368.0,230.5 365.1,226.6" fill="#C92029"/>
<polygon points="343.1,238.4 343.1,235.6 344.3,233.0 346.7,231.4 350.1,230.8 353.5,231.1 356.4,232.1 358.3,233.3 359.8,235.6 360.3,238.4 359.3,240.0 357.9,239.4 355.9,236.9 353.5,235.3 350.1,234.6 347.2,235.3 345.7,236.9 344.3,238.8" fill="#C92029"/>
<polygon points="356.4,233.0 358.3,231.4 361.2,230.5 365.1,230.2 368.0,229.8 370.5,230.8 371.9,232.4 372.4,234.3 372.9,236.9 372.4,239.4 370.5,241.0 367.1,242.0 363.2,242.0 360.3,241.3 357.9,239.1 356.9,236.2" fill="#C92029"/>
<polygon points="360.0,242.0 363.2,241.6 367.1,242.0 370.5,241.0 372.9,238.8 375.3,237.8 377.3,237.2 379.2,235.6 380.6,234.0 382.1,233.3 383.6,234.6 385.5,236.5 387.4,238.4 388.9,240.4 390.3,243.2 391.3,246.4 392.3,249.0 393.0,250.6 391.3,251.8 388.4,252.8 384.5,253.8 379.7,254.2 373.9,254.1 370.0,253.8 366.1,252.8 363.2,252.0 361.2,250.6 360.0,248.3 359.8,245.1" fill="#C92029"/>
<polygon points="322.9,235.6 324.9,235.1 326.8,235.4 327.5,236.5 326.8,238.4 326.7,240.7 328.0,242.9 331.7,245.1 333.8,246.4 333.8,248.0 331.7,249.3 329.2,249.8 326.3,249.3 323.4,248.0 321.0,245.8 319.8,243.2 319.8,240.7 320.3,238.4 321.5,236.5" fill="#C92029"/>
<polygon points="323.7,259.8 324.4,258.5 327.8,257.3 330.2,256.0 331.7,254.7 332.1,253.1 333.1,253.4 334.1,254.7 336.0,255.3 338.9,256.0 342.8,256.3 345.0,257.3 345.2,259.2 344.3,261.7 341.8,262.7 338.0,263.0 334.1,264.0 330.2,264.1 326.3,263.6 324.4,262.4" fill="#C92029"/>
<polygon points="371.9,229.2 374.3,229.5 376.3,230.8 376.8,232.4 375.3,233.7 373.4,233.7 371.9,232.4 371.4,230.8" fill="#FFFFFF"/>
<path d="M339.9 206.4h1.2v1.2h-1.2zM339.8 202.8h1.2v1.2h-1.2zM332.8 210.8h1.2v1.2h-1.2zM332.4 213.4h1.2v1.2h-1.2zM335.3 219.6h1.2v1.2h-1.2zM340.8 206.6h1.2v1.2h-1.2zM337.7 214.7h1.2v1.2h-1.2zM333.3 210.0h1.2v1.2h-1.2zM333.9 207.2h1.2v1.2h-1.2zM338.3 210.1h1.2v1.2h-1.2zM340.6 204.7h1.2v1.2h-1.2zM338.5 208.1h1.2v1.2h-1.2zM339.2 212.0h1.2v1.2h-1.2zM333.0 209.5h1.2v1.2h-1.2zM339.8 203.0h1.2v1.2h-1.2zM339.4 210.2h1.2v1.2h-1.2zM336.7 213.6h1.2v1.2h-1.2zM339.8 204.3h1.2v1.2h-1.2zM337.1 208.6h1.2v1.2h-1.2zM338.0 208.6h1.2v1.2h-1.2zM333.7 208.0h1.2v1.2h-1.2zM334.4 215.3h1.2v1.2h-1.2zM338.5 205.2h1.2v1.2h-1.2zM337.2 214.0h1.2v1.2h-1.2zM338.9 209.3h1.2v1.2h-1.2zM332.2 221.4h1.2v1.2h-1.2zM341.3 204.3h1.2v1.2h-1.2zM340.8 208.3h1.2v1.2h-1.2zM336.6 223.3h1.2v1.2h-1.2zM335.9 214.1h1.2v1.2h-1.2zM337.1 207.6h1.2v1.2h-1.2zM334.3 222.0h1.2v1.2h-1.2zM336.6 204.4h1.2v1.2h-1.2zM334.3 221.5h1.2v1.2h-1.2zM331.8 220.9h1.2v1.2h-1.2zM334.3 224.0h1.2v1.2h-1.2zM335.6 213.0h1.2v1.2h-1.2zM339.0 205.2h1.2v1.2h-1.2zM332.6 221.5h1.2v1.2h-1.2zM334.2 224.6h1.2v1.2h-1.2zM339.0 207.1h1.2v1.2h-1.2zM339.3 209.9h1.2v1.2h-1.2zM337.3 204.4h1.2v1.2h-1.2zM335.2 205.6h1.2v1.2h-1.2zM335.0 219.6h1.2v1.2h-1.2zM337.7 205.7h1.2v1.2h-1.2zM334.1 213.5h1.2v1.2h-1.2zM336.4 205.7h1.2v1.2h-1.2zM341.3 205.6h1.2v1.2h-1.2zM334.9 215.1h1.2v1.2h-1.2zM335.7 225.0h1.2v1.2h-1.2zM334.3 224.5h1.2v1.2h-1.2zM334.9 212.3h1.2v1.2h-1.2zM334.9 217.6h1.2v1.2h-1.2zM340.9 205.1h1.2v1.2h-1.2zM332.1 213.6h1.2v1.2h-1.2zM334.4 216.6h1.2v1.2h-1.2zM335.8 213.1h1.2v1.2h-1.2zM337.4 216.1h1.2v1.2h-1.2zM341.4 209.1h1.2v1.2h-1.2zM334.5 206.9h1.2v1.2h-1.2zM332.7 222.1h1.2v1.2h-1.2z" fill="#7B9BD6"/>
<path d="M366.7 219.8h1.2v1.2h-1.2zM359.7 208.6h1.2v1.2h-1.2zM370.0 204.6h1.2v1.2h-1.2zM364.1 212.4h1.2v1.2h-1.2zM374.3 207.0h1.2v1.2h-1.2zM361.0 210.0h1.2v1.2h-1.2zM360.3 206.4h1.2v1.2h-1.2zM377.2 218.7h1.2v1.2h-1.2zM373.6 209.4h1.2v1.2h-1.2zM374.1 208.3h1.2v1.2h-1.2zM369.4 207.9h1.2v1.2h-1.2zM378.8 215.1h1.2v1.2h-1.2zM374.5 214.9h1.2v1.2h-1.2zM376.6 213.1h1.2v1.2h-1.2zM372.1 212.7h1.2v1.2h-1.2zM376.0 213.4h1.2v1.2h-1.2zM364.7 213.1h1.2v1.2h-1.2zM370.5 219.2h1.2v1.2h-1.2zM375.2 207.9h1.2v1.2h-1.2zM370.2 214.3h1.2v1.2h-1.2zM371.9 212.2h1.2v1.2h-1.2zM370.2 216.1h1.2v1.2h-1.2zM379.0 213.1h1.2v1.2h-1.2zM376.7 215.9h1.2v1.2h-1.2zM360.9 208.7h1.2v1.2h-1.2zM365.5 210.4h1.2v1.2h-1.2zM369.8 209.4h1.2v1.2h-1.2zM366.9 216.3h1.2v1.2h-1.2zM373.0 220.7h1.2v1.2h-1.2zM367.0 219.3h1.2v1.2h-1.2zM377.2 209.8h1.2v1.2h-1.2zM368.0 210.3h1.2v1.2h-1.2zM369.1 216.7h1.2v1.2h-1.2zM379.3 220.0h1.2v1.2h-1.2zM376.3 207.3h1.2v1.2h-1.2zM366.9 204.4h1.2v1.2h-1.2zM362.9 210.1h1.2v1.2h-1.2zM362.3 212.5h1.2v1.2h-1.2zM367.9 208.5h1.2v1.2h-1.2zM374.4 209.9h1.2v1.2h-1.2zM376.0 219.3h1.2v1.2h-1.2zM365.1 208.8h1.2v1.2h-1.2zM374.6 206.8h1.2v1.2h-1.2zM381.1 215.5h1.2v1.2h-1.2zM371.1 205.2h1.2v1.2h-1.2zM364.8 211.5h1.2v1.2h-1.2zM372.2 205.7h1.2v1.2h-1.2zM381.2 217.1h1.2v1.2h-1.2zM377.4 217.1h1.2v1.2h-1.2zM362.4 208.4h1.2v1.2h-1.2zM360.0 207.5h1.2v1.2h-1.2zM376.9 209.2h1.2v1.2h-1.2zM361.4 210.8h1.2v1.2h-1.2zM376.8 213.6h1.2v1.2h-1.2zM377.1 210.1h1.2v1.2h-1.2zM375.3 213.0h1.2v1.2h-1.2zM376.2 207.7h1.2v1.2h-1.2zM364.7 207.9h1.2v1.2h-1.2zM378.3 216.3h1.2v1.2h-1.2zM375.2 216.0h1.2v1.2h-1.2zM362.8 205.1h1.2v1.2h-1.2zM373.3 216.2h1.2v1.2h-1.2zM379.4 210.5h1.2v1.2h-1.2zM370.4 215.4h1.2v1.2h-1.2zM380.1 215.4h1.2v1.2h-1.2zM370.3 217.4h1.2v1.2h-1.2zM369.7 204.9h1.2v1.2h-1.2zM371.1 211.4h1.2v1.2h-1.2zM366.1 211.1h1.2v1.2h-1.2zM363.3 209.6h1.2v1.2h-1.2zM375.8 219.4h1.2v1.2h-1.2zM368.9 218.8h1.2v1.2h-1.2zM361.1 213.1h1.2v1.2h-1.2zM375.8 217.7h1.2v1.2h-1.2zM367.3 207.2h1.2v1.2h-1.2zM380.9 214.7h1.2v1.2h-1.2zM373.6 210.2h1.2v1.2h-1.2zM367.7 219.5h1.2v1.2h-1.2zM373.9 217.2h1.2v1.2h-1.2zM371.6 217.2h1.2v1.2h-1.2zM371.9 214.5h1.2v1.2h-1.2zM362.6 205.9h1.2v1.2h-1.2zM374.9 216.7h1.2v1.2h-1.2zM373.9 208.7h1.2v1.2h-1.2zM369.7 217.4h1.2v1.2h-1.2zM373.3 219.8h1.2v1.2h-1.2zM370.8 205.6h1.2v1.2h-1.2zM368.0 215.7h1.2v1.2h-1.2zM370.2 217.9h1.2v1.2h-1.2zM363.1 206.8h1.2v1.2h-1.2zM363.3 211.5h1.2v1.2h-1.2zM374.9 220.3h1.2v1.2h-1.2zM371.4 220.6h1.2v1.2h-1.2z" fill="#7B9BD6"/>
<path d="M325.8 244.7h1.2v1.2h-1.2zM319.8 241.2h1.2v1.2h-1.2zM324.0 242.8h1.2v1.2h-1.2zM321.3 245.0h1.2v1.2h-1.2zM325.5 236.4h1.2v1.2h-1.2zM326.5 240.6h1.2v1.2h-1.2zM322.3 236.2h1.2v1.2h-1.2zM327.5 249.2h1.2v1.2h-1.2zM325.9 242.8h1.2v1.2h-1.2zM325.1 243.4h1.2v1.2h-1.2zM321.0 241.3h1.2v1.2h-1.2zM326.9 246.1h1.2v1.2h-1.2zM331.2 245.9h1.2v1.2h-1.2zM325.1 245.5h1.2v1.2h-1.2zM322.6 244.1h1.2v1.2h-1.2zM322.2 240.3h1.2v1.2h-1.2zM328.4 247.4h1.2v1.2h-1.2zM330.8 244.6h1.2v1.2h-1.2zM321.0 242.8h1.2v1.2h-1.2zM328.3 245.2h1.2v1.2h-1.2zM322.3 243.4h1.2v1.2h-1.2zM331.3 249.2h1.2v1.2h-1.2zM325.7 242.0h1.2v1.2h-1.2zM323.7 237.6h1.2v1.2h-1.2zM332.4 248.2h1.2v1.2h-1.2zM323.2 243.4h1.2v1.2h-1.2zM324.2 247.2h1.2v1.2h-1.2zM320.4 244.4h1.2v1.2h-1.2zM324.5 241.3h1.2v1.2h-1.2zM327.2 243.4h1.2v1.2h-1.2zM322.6 246.7h1.2v1.2h-1.2zM326.6 246.3h1.2v1.2h-1.2zM321.6 241.8h1.2v1.2h-1.2zM321.7 241.5h1.2v1.2h-1.2zM320.6 244.0h1.2v1.2h-1.2zM323.0 238.3h1.2v1.2h-1.2zM328.7 248.7h1.2v1.2h-1.2zM325.7 235.3h1.2v1.2h-1.2zM324.7 242.8h1.2v1.2h-1.2zM324.6 247.5h1.2v1.2h-1.2z" fill="#7B9BD6"/>
<path d="M341.2 261.9h1.2v1.2h-1.2zM334.3 258.6h1.2v1.2h-1.2zM334.3 258.1h1.2v1.2h-1.2zM332.4 258.6h1.2v1.2h-1.2zM325.9 261.4h1.2v1.2h-1.2zM327.8 258.4h1.2v1.2h-1.2zM329.4 261.8h1.2v1.2h-1.2zM330.9 263.3h1.2v1.2h-1.2zM330.3 262.4h1.2v1.2h-1.2zM325.9 260.5h1.2v1.2h-1.2zM334.1 255.5h1.2v1.2h-1.2zM339.5 259.4h1.2v1.2h-1.2zM339.9 258.3h1.2v1.2h-1.2zM327.8 260.0h1.2v1.2h-1.2zM336.5 258.8h1.2v1.2h-1.2zM340.4 258.9h1.2v1.2h-1.2zM330.5 260.5h1.2v1.2h-1.2zM339.8 257.9h1.2v1.2h-1.2zM341.8 260.5h1.2v1.2h-1.2zM344.4 259.5h1.2v1.2h-1.2zM341.0 256.8h1.2v1.2h-1.2zM325.9 263.2h1.2v1.2h-1.2zM343.8 260.4h1.2v1.2h-1.2zM344.1 259.8h1.2v1.2h-1.2zM339.8 259.7h1.2v1.2h-1.2zM339.7 258.1h1.2v1.2h-1.2zM326.4 259.3h1.2v1.2h-1.2zM342.6 259.9h1.2v1.2h-1.2zM339.8 262.1h1.2v1.2h-1.2zM333.1 258.1h1.2v1.2h-1.2zM333.0 257.0h1.2v1.2h-1.2zM330.1 260.9h1.2v1.2h-1.2zM338.4 261.7h1.2v1.2h-1.2zM330.8 264.1h1.2v1.2h-1.2zM339.2 256.6h1.2v1.2h-1.2zM340.1 262.4h1.2v1.2h-1.2zM326.7 263.1h1.2v1.2h-1.2zM333.0 256.1h1.2v1.2h-1.2zM331.8 258.9h1.2v1.2h-1.2zM335.0 256.4h1.2v1.2h-1.2zM325.0 260.1h1.2v1.2h-1.2zM339.1 260.8h1.2v1.2h-1.2zM332.2 262.5h1.2v1.2h-1.2zM324.1 259.2h1.2v1.2h-1.2zM334.9 255.6h1.2v1.2h-1.2zM337.8 258.7h1.2v1.2h-1.2zM335.3 262.4h1.2v1.2h-1.2zM326.2 262.2h1.2v1.2h-1.2zM330.6 263.2h1.2v1.2h-1.2zM340.0 257.4h1.2v1.2h-1.2zM335.0 261.7h1.2v1.2h-1.2zM324.9 259.0h1.2v1.2h-1.2z" fill="#7B9BD6"/>
<path d="M360.0 238.6h1.2v1.2h-1.2zM365.0 234.9h1.2v1.2h-1.2zM363.4 240.6h1.2v1.2h-1.2zM351.1 233.9h1.2v1.2h-1.2zM358.1 238.7h1.2v1.2h-1.2zM360.6 235.8h1.2v1.2h-1.2zM363.6 236.4h1.2v1.2h-1.2zM365.4 237.5h1.2v1.2h-1.2zM371.0 234.6h1.2v1.2h-1.2zM368.4 233.3h1.2v1.2h-1.2zM367.7 235.6h1.2v1.2h-1.2zM356.6 236.2h1.2v1.2h-1.2zM354.2 233.3h1.2v1.2h-1.2zM363.7 237.6h1.2v1.2h-1.2zM344.7 233.7h1.2v1.2h-1.2zM370.8 233.9h1.2v1.2h-1.2zM349.8 232.6h1.2v1.2h-1.2zM356.3 233.9h1.2v1.2h-1.2zM363.2 240.4h1.2v1.2h-1.2zM346.4 234.2h1.2v1.2h-1.2zM369.4 240.4h1.2v1.2h-1.2zM347.2 232.6h1.2v1.2h-1.2zM370.0 238.4h1.2v1.2h-1.2zM365.8 231.5h1.2v1.2h-1.2zM365.0 239.4h1.2v1.2h-1.2zM361.6 234.8h1.2v1.2h-1.2zM372.0 234.7h1.2v1.2h-1.2zM355.8 235.6h1.2v1.2h-1.2zM372.4 235.9h1.2v1.2h-1.2zM368.6 235.1h1.2v1.2h-1.2zM364.1 239.8h1.2v1.2h-1.2zM358.9 235.0h1.2v1.2h-1.2zM343.3 236.5h1.2v1.2h-1.2zM363.1 238.1h1.2v1.2h-1.2zM367.9 239.0h1.2v1.2h-1.2zM357.3 236.9h1.2v1.2h-1.2zM367.0 236.2h1.2v1.2h-1.2zM357.2 236.0h1.2v1.2h-1.2zM365.0 238.8h1.2v1.2h-1.2zM371.1 239.2h1.2v1.2h-1.2zM354.4 234.6h1.2v1.2h-1.2zM344.1 236.7h1.2v1.2h-1.2zM369.6 237.0h1.2v1.2h-1.2zM364.5 239.0h1.2v1.2h-1.2zM355.6 232.1h1.2v1.2h-1.2zM368.6 240.3h1.2v1.2h-1.2zM364.6 233.2h1.2v1.2h-1.2zM358.0 236.4h1.2v1.2h-1.2z" fill="#7B9BD6"/>
<path d="M370.3 229.4h1.2v1.2h-1.2zM376.2 235.9h1.2v1.2h-1.2zM375.5 230.4h1.2v1.2h-1.2zM376.6 233.9h1.2v1.2h-1.2zM378.4 234.0h1.2v1.2h-1.2zM370.3 228.4h1.2v1.2h-1.2zM370.4 227.4h1.2v1.2h-1.2zM379.3 234.5h1.2v1.2h-1.2zM370.7 229.5h1.2v1.2h-1.2zM367.1 226.2h1.2v1.2h-1.2zM372.2 231.4h1.2v1.2h-1.2zM370.2 230.5h1.2v1.2h-1.2zM369.5 226.3h1.2v1.2h-1.2zM378.8 232.9h1.2v1.2h-1.2zM375.2 232.0h1.2v1.2h-1.2zM374.5 235.0h1.2v1.2h-1.2zM382.5 234.8h1.2v1.2h-1.2zM375.0 233.9h1.2v1.2h-1.2zM369.1 226.2h1.2v1.2h-1.2zM363.0 224.2h1.2v1.2h-1.2zM368.2 229.9h1.2v1.2h-1.2zM368.7 227.8h1.2v1.2h-1.2zM381.8 235.0h1.2v1.2h-1.2zM379.0 231.4h1.2v1.2h-1.2zM375.2 229.7h1.2v1.2h-1.2zM368.9 228.3h1.2v1.2h-1.2zM377.4 235.7h1.2v1.2h-1.2zM369.9 228.6h1.2v1.2h-1.2zM368.6 230.6h1.2v1.2h-1.2z" fill="#7B9BD6"/>
<path d="M380.2 232.9h1.2v1.2h-1.2zM371.5 225.7h1.2v1.2h-1.2zM376.9 231.0h1.2v1.2h-1.2zM365.6 221.0h1.2v1.2h-1.2zM363.7 223.0h1.2v1.2h-1.2zM372.6 227.0h1.2v1.2h-1.2zM362.8 221.4h1.2v1.2h-1.2zM380.3 232.5h1.2v1.2h-1.2zM365.2 222.6h1.2v1.2h-1.2zM365.0 221.9h1.2v1.2h-1.2zM375.8 229.7h1.2v1.2h-1.2zM378.3 232.0h1.2v1.2h-1.2zM376.5 228.6h1.2v1.2h-1.2z" fill="#7B9BD6"/>
<path d="M391.2 251.8h1.0v1.0h-1.0zM384.7 244.7h1.0v1.0h-1.0zM381.4 235.8h1.0v1.0h-1.0zM381.2 240.6h1.0v1.0h-1.0zM372.7 250.5h1.0v1.0h-1.0zM387.7 249.0h1.0v1.0h-1.0zM374.6 244.5h1.0v1.0h-1.0zM380.0 235.0h1.0v1.0h-1.0zM363.7 247.1h1.0v1.0h-1.0zM366.3 249.1h1.0v1.0h-1.0zM382.6 236.8h1.0v1.0h-1.0zM381.6 253.9h1.0v1.0h-1.0zM386.4 243.2h1.0v1.0h-1.0zM387.2 252.9h1.0v1.0h-1.0zM382.9 235.1h1.0v1.0h-1.0zM372.2 248.0h1.0v1.0h-1.0zM383.9 237.8h1.0v1.0h-1.0zM380.8 246.8h1.0v1.0h-1.0zM366.4 246.4h1.0v1.0h-1.0zM378.0 246.2h1.0v1.0h-1.0zM365.9 243.3h1.0v1.0h-1.0zM387.6 246.3h1.0v1.0h-1.0z" fill="#7B9BD6"/>
<polygon points="387.4,238.4 389.4,241.6 390.8,244.8 392.3,248.0 393.0,250.2 391.3,251.5 389.9,249.6 388.9,245.8 387.4,241.6" fill="#7B9BD6"/>
<path d="M316.6 199.4V267.3H397.0" fill="none" stroke="#333" stroke-width="0.7"/>
<path d="M327.5 267.3v1.6" stroke="#333" stroke-width="0.7"/>
<text x="327.5" y="274.6" font-size="6.0" text-anchor="middle" fill="#333">−10</text>
<path d="M343.3 267.3v1.6" stroke="#333" stroke-width="0.7"/>
<text x="343.3" y="274.6" font-size="6.0" text-anchor="middle" fill="#333">−5</text>
<path d="M359.5 267.3v1.6" stroke="#333" stroke-width="0.7"/>
<text x="359.5" y="274.6" font-size="6.0" text-anchor="middle" fill="#333">0</text>
<path d="M376.1 267.3v1.6" stroke="#333" stroke-width="0.7"/>
<text x="376.1" y="274.6" font-size="6.0" text-anchor="middle" fill="#333">5</text>
<path d="M392.0 267.3v1.6" stroke="#333" stroke-width="0.7"/>
<text x="392.0" y="274.6" font-size="6.0" text-anchor="middle" fill="#333">10</text>
<path d="M316.6 211.0h-1.6" stroke="#333" stroke-width="0.7"/>
<text x="314.0" y="213.1" font-size="6.0" text-anchor="end" fill="#333">10</text>
<path d="M316.6 223.7h-1.6" stroke="#333" stroke-width="0.7"/>
<text x="314.0" y="225.8" font-size="6.0" text-anchor="end" fill="#333">5</text>
<path d="M316.6 236.5h-1.6" stroke="#333" stroke-width="0.7"/>
<text x="314.0" y="238.6" font-size="6.0" text-anchor="end" fill="#333">0</text>
<path d="M316.6 249.5h-1.6" stroke="#333" stroke-width="0.7"/>
<text x="314.0" y="251.6" font-size="6.0" text-anchor="end" fill="#333">−5</text>
<path d="M316.6 262.6h-1.6" stroke="#333" stroke-width="0.7"/>
<text x="314.0" y="264.7" font-size="6.0" text-anchor="end" fill="#333">−10</text>
<text x="356.7" y="283.3" font-size="6.8" text-anchor="middle">umap_1</text>
<text transform="translate(300.6,233) rotate(-90)" font-size="6.8" text-anchor="middle">umap_2</text>
<circle cx="408.2" cy="231.1" r="2.3" fill="#7B9BD6"/><text x="415.8" y="233.2" font-size="6">Cold</text>
<circle cx="408.2" cy="239.2" r="2.3" fill="#C7202A"/><text x="415.8" y="241.3" font-size="6">Hot</text>
<path d="M608.3 58.0V228.5H866.5" fill="none" stroke="#222" stroke-width="1.1"/>
<path d="M608.3 66.8h-2.2" stroke="#222" stroke-width="0.9"/>
<text x="604.4" y="68.6" font-size="8.4" text-anchor="end" fill="#111">Arachidonic Acid Metabolism</text>
<circle cx="621.0" cy="66.8" r="1.30" fill="#F6AC8E"/>
<circle cx="642.2" cy="66.8" r="1.30" fill="#F6AC8E"/>
<circle cx="663.4" cy="66.8" r="1.00" fill="#F8C4AE"/>
<circle cx="684.6" cy="66.8" r="1.90" fill="#F4956F"/>
<circle cx="705.8" cy="66.8" r="0.80" fill="#FADBCE"/>
<circle cx="748.2" cy="66.8" r="1.40" fill="#F5A584"/>
<circle cx="769.4" cy="66.8" r="1.20" fill="#F6AC8E"/>
<circle cx="790.6" cy="66.8" r="1.60" fill="#F38967"/>
<circle cx="811.8" cy="66.8" r="1.50" fill="#F4956F"/>
<circle cx="833.0" cy="66.8" r="1.80" fill="#F07256"/>
<circle cx="854.2" cy="66.8" r="1.80" fill="#F27E5F"/>
<path d="M608.3 83.7h-2.2" stroke="#222" stroke-width="0.9"/>
<text x="604.4" y="85.5" font-size="8.4" text-anchor="end" fill="#111">Cysteine And Methionine Metabolism</text>
<circle cx="621.0" cy="83.7" r="1.40" fill="#F59D7A"/>
<circle cx="642.2" cy="83.7" r="1.70" fill="#F38967"/>
<circle cx="663.4" cy="83.7" r="1.40" fill="#F59D7A"/>
<circle cx="684.6" cy="83.7" r="1.80" fill="#F38967"/>
<circle cx="705.8" cy="83.7" r="1.70" fill="#F4956F"/>
<circle cx="727.0" cy="83.7" r="1.40" fill="#F59D7A"/>
<circle cx="748.2" cy="83.7" r="1.40" fill="#F59D7A"/>
<circle cx="769.4" cy="83.7" r="1.40" fill="#F59D7A"/>
<circle cx="790.6" cy="83.7" r="1.30" fill="#F5A584"/>
<circle cx="811.8" cy="83.7" r="1.30" fill="#F5A584"/>
<circle cx="833.0" cy="83.7" r="1.30" fill="#F5A584"/>
<circle cx="854.2" cy="83.7" r="1.30" fill="#F59D7A"/>
<path d="M608.3 100.5h-2.2" stroke="#222" stroke-width="0.9"/>
<text x="604.4" y="102.3" font-size="8.4" text-anchor="end" fill="#111">Pyrimidine Metabolism</text>
<circle cx="621.0" cy="100.5" r="1.80" fill="#F4956F"/>
<circle cx="642.2" cy="100.5" r="1.70" fill="#F4956F"/>
<circle cx="663.4" cy="100.5" r="1.00" fill="#F7B499"/>
<circle cx="684.6" cy="100.5" r="1.40" fill="#F5A584"/>
<circle cx="705.8" cy="100.5" r="1.50" fill="#F5A584"/>
<circle cx="727.0" cy="100.5" r="1.70" fill="#F4956F"/>
<circle cx="748.2" cy="100.5" r="1.40" fill="#F5A584"/>
<circle cx="769.4" cy="100.5" r="1.70" fill="#F38967"/>
<circle cx="790.6" cy="100.5" r="1.00" fill="#F8BCA4"/>
<circle cx="811.8" cy="100.5" r="1.00" fill="#F8BCA4"/>
<circle cx="833.0" cy="100.5" r="1.00" fill="#F8BCA4"/>
<circle cx="854.2" cy="100.5" r="1.00" fill="#F8BCA4"/>
<path d="M608.3 117.3h-2.2" stroke="#222" stroke-width="0.9"/>
<text x="604.4" y="119.2" font-size="8.4" text-anchor="end" fill="#111">Pentose Phosphate Pathway</text>
<circle cx="621.0" cy="117.3" r="1.50" fill="#F59D7A"/>
<circle cx="642.2" cy="117.3" r="1.50" fill="#F59D7A"/>
<circle cx="663.4" cy="117.3" r="1.50" fill="#F59D7A"/>
<circle cx="684.6" cy="117.3" r="1.30" fill="#F5A584"/>
<circle cx="705.8" cy="117.3" r="1.50" fill="#F59D7A"/>
<circle cx="727.0" cy="117.3" r="1.50" fill="#F59D7A"/>
<circle cx="748.2" cy="117.3" r="1.30" fill="#F6AC8E"/>
<circle cx="769.4" cy="117.3" r="1.50" fill="#F59D7A"/>
<circle cx="790.6" cy="117.3" r="1.40" fill="#F5A584"/>
<circle cx="811.8" cy="117.3" r="1.80" fill="#F38967"/>
<circle cx="833.0" cy="117.3" r="1.40" fill="#F5A584"/>
<circle cx="854.2" cy="117.3" r="1.40" fill="#F59D7A"/>
<path d="M608.3 134.2h-2.2" stroke="#222" stroke-width="0.9"/>
<text x="604.4" y="136.0" font-size="8.4" text-anchor="end" fill="#111">Purine Metabolism</text>
<circle cx="621.0" cy="134.2" r="2.00" fill="#F4956F"/>
<circle cx="642.2" cy="134.2" r="1.50" fill="#F59D7A"/>
<circle cx="663.4" cy="134.2" r="1.00" fill="#F7B499"/>
<circle cx="684.6" cy="134.2" r="1.40" fill="#F5A584"/>
<circle cx="705.8" cy="134.2" r="1.50" fill="#F59D7A"/>
<circle cx="727.0" cy="134.2" r="1.60" fill="#F59D7A"/>
<circle cx="748.2" cy="134.2" r="1.40" fill="#F5A584"/>
<circle cx="769.4" cy="134.2" r="1.80" fill="#F38967"/>
<circle cx="811.8" cy="134.2" r="0.80" fill="#F9CCB8"/>
<circle cx="833.0" cy="134.2" r="0.80" fill="#F9CCB8"/>
<circle cx="854.2" cy="134.2" r="0.80" fill="#F9CCB8"/>
<path d="M608.3 151.1h-2.2" stroke="#222" stroke-width="0.9"/>
<text x="604.4" y="152.9" font-size="8.4" text-anchor="end" fill="#111">Arginine Biosynthesis</text>
<circle cx="642.2" cy="151.1" r="1.10" fill="#F6AC8E"/>
<circle cx="663.4" cy="151.1" r="0.90" fill="#FAD3C3"/>
<circle cx="684.6" cy="151.1" r="1.50" fill="#F4956F"/>
<circle cx="705.8" cy="151.1" r="1.50" fill="#F4956F"/>
<circle cx="727.0" cy="151.1" r="1.50" fill="#F4956F"/>
<circle cx="748.2" cy="151.1" r="1.00" fill="#F8C4AE"/>
<circle cx="769.4" cy="151.1" r="1.40" fill="#F59D7A"/>
<circle cx="790.6" cy="151.1" r="1.90" fill="#F07256"/>
<circle cx="811.8" cy="151.1" r="1.50" fill="#F4956F"/>
<circle cx="833.0" cy="151.1" r="1.80" fill="#F07256"/>
<circle cx="854.2" cy="151.1" r="1.10" fill="#F7B499"/>
<path d="M608.3 167.9h-2.2" stroke="#222" stroke-width="0.9"/>
<text x="604.4" y="169.7" font-size="8.4" text-anchor="end" fill="#111">Drug Metabolism − Cytochrome P450</text>
<circle cx="621.0" cy="167.9" r="1.50" fill="#F59D7A"/>
<circle cx="642.2" cy="167.9" r="1.80" fill="#F4956F"/>
<circle cx="663.4" cy="167.9" r="1.40" fill="#F5A584"/>
<circle cx="684.6" cy="167.9" r="1.50" fill="#F59D7A"/>
<circle cx="705.8" cy="167.9" r="1.50" fill="#F59D7A"/>
<circle cx="727.0" cy="167.9" r="1.10" fill="#F6AC8E"/>
<circle cx="748.2" cy="167.9" r="1.50" fill="#F59D7A"/>
<circle cx="769.4" cy="167.9" r="1.50" fill="#F59D7A"/>
<circle cx="790.6" cy="167.9" r="1.50" fill="#F59D7A"/>
<circle cx="811.8" cy="167.9" r="1.80" fill="#F38967"/>
<circle cx="833.0" cy="167.9" r="1.50" fill="#F59D7A"/>
<circle cx="854.2" cy="167.9" r="1.60" fill="#F4956F"/>
<path d="M608.3 184.8h-2.2" stroke="#222" stroke-width="0.9"/>
<text x="604.4" y="186.6" font-size="8.4" text-anchor="end" fill="#111">Glutathione Metabolism</text>
<circle cx="621.0" cy="184.8" r="1.10" fill="#F6AC8E"/>
<circle cx="642.2" cy="184.8" r="1.80" fill="#F4956F"/>
<circle cx="663.4" cy="184.8" r="1.60" fill="#F4956F"/>
<circle cx="684.6" cy="184.8" r="1.80" fill="#F4956F"/>
<circle cx="705.8" cy="184.8" r="1.60" fill="#F59D7A"/>
<circle cx="727.0" cy="184.8" r="1.50" fill="#F59D7A"/>
<circle cx="748.2" cy="184.8" r="1.60" fill="#F59D7A"/>
<circle cx="769.4" cy="184.8" r="1.50" fill="#F59D7A"/>
<circle cx="790.6" cy="184.8" r="1.50" fill="#F59D7A"/>
<circle cx="811.8" cy="184.8" r="1.60" fill="#F59D7A"/>
<circle cx="833.0" cy="184.8" r="1.50" fill="#F59D7A"/>
<circle cx="854.2" cy="184.8" r="1.80" fill="#F38967"/>
<path d="M608.3 201.6h-2.2" stroke="#222" stroke-width="0.9"/>
<text x="604.4" y="203.4" font-size="8.4" text-anchor="end" fill="#111">Glycolysis / Gluconeogenesis</text>
<circle cx="621.0" cy="201.6" r="1.60" fill="#F59D7A"/>
<circle cx="642.2" cy="201.6" r="2.60" fill="#F38967"/>
<circle cx="663.4" cy="201.6" r="1.50" fill="#F59D7A"/>
<circle cx="684.6" cy="201.6" r="2.60" fill="#F38967"/>
<circle cx="705.8" cy="201.6" r="1.40" fill="#F5A584"/>
<circle cx="727.0" cy="201.6" r="1.50" fill="#F59D7A"/>
<circle cx="748.2" cy="201.6" r="2.60" fill="#F38967"/>
<circle cx="769.4" cy="201.6" r="1.50" fill="#F59D7A"/>
<circle cx="790.6" cy="201.6" r="1.50" fill="#F5A584"/>
<circle cx="811.8" cy="201.6" r="2.60" fill="#F38967"/>
<circle cx="833.0" cy="201.6" r="2.60" fill="#F38967"/>
<circle cx="854.2" cy="201.6" r="1.90" fill="#F4956F"/>
<path d="M608.3 218.4h-2.2" stroke="#222" stroke-width="0.9"/>
<text x="604.4" y="220.3" font-size="8.4" text-anchor="end" fill="#111">Oxidative Phosphorylation</text>
<circle cx="621.0" cy="218.4" r="3.00" fill="#EA382D"/>
<circle cx="642.2" cy="218.4" r="2.70" fill="#F27E5F"/>
<circle cx="663.4" cy="218.4" r="2.80" fill="#F07256"/>
<circle cx="684.6" cy="218.4" r="2.70" fill="#F38967"/>
<circle cx="705.8" cy="218.4" r="2.80" fill="#F38967"/>
<circle cx="727.0" cy="218.4" r="2.80" fill="#ED4F3E"/>
<circle cx="748.2" cy="218.4" r="2.80" fill="#F4956F"/>
<circle cx="769.4" cy="218.4" r="3.00" fill="#E8211D"/>
<circle cx="790.6" cy="218.4" r="1.90" fill="#F59D7A"/>
<circle cx="811.8" cy="218.4" r="2.80" fill="#F38967"/>
<circle cx="833.0" cy="218.4" r="2.80" fill="#F4956F"/>
<circle cx="854.2" cy="218.4" r="2.80" fill="#F4956F"/>
<path d="M621.0 228.5v2.2" stroke="#222" stroke-width="0.9"/>
<text transform="translate(628.7,233.9) rotate(-45)" font-size="8.4" text-anchor="end" fill="#111">Naive B cells</text>
<path d="M642.2 228.5v2.2" stroke="#222" stroke-width="0.9"/>
<text transform="translate(648.0,233.2) rotate(-45)" font-size="8.4" text-anchor="end" fill="#111">Memory B cells</text>
<path d="M663.4 228.5v2.2" stroke="#222" stroke-width="0.9"/>
<text transform="translate(671.2,230.9) rotate(-45)" font-size="8.4" text-anchor="end" fill="#111">Plasmablasts</text>
<path d="M684.6 228.5v2.2" stroke="#222" stroke-width="0.9"/>
<text transform="translate(690.8,233.9) rotate(-45)" font-size="8.4" text-anchor="end" fill="#111">CD8+ T cells</text>
<path d="M705.8 228.5v2.2" stroke="#222" stroke-width="0.9"/>
<text transform="translate(711.3,233.9) rotate(-45)" font-size="8.4" text-anchor="end" fill="#111">CD4+ T cells</text>
<path d="M727.0 228.5v2.2" stroke="#222" stroke-width="0.9"/>
<text transform="translate(731.4,236.9) rotate(-45)" font-size="8.4" text-anchor="end" fill="#111">NK cells</text>
<path d="M748.2 228.5v2.2" stroke="#222" stroke-width="0.9"/>
<text transform="translate(754.5,236.2) rotate(-45)" font-size="8.4" text-anchor="end" fill="#111">Cycling T cells</text>
<path d="M769.4 228.5v2.2" stroke="#222" stroke-width="0.9"/>
<text transform="translate(773.4,236.9) rotate(-45)" font-size="8.4" text-anchor="end" fill="#111">NKT cells</text>
<path d="M790.6 228.5v2.2" stroke="#222" stroke-width="0.9"/>
<text transform="translate(796.9,233.1) rotate(-45)" font-size="8.4" text-anchor="end" fill="#111">Macrophage</text>
<path d="M811.8 228.5v2.2" stroke="#222" stroke-width="0.9"/>
<text transform="translate(817.3,234.6) rotate(-45)" font-size="8.4" text-anchor="end" fill="#111">Monocyte</text>
<path d="M833.0 228.5v2.2" stroke="#222" stroke-width="0.9"/>
<text transform="translate(836.3,236.9) rotate(-45)" font-size="8.4" text-anchor="end" fill="#111">Cycling Myeloid</text>
<path d="M854.2 228.5v2.2" stroke="#222" stroke-width="0.9"/>
<text transform="translate(856.7,236.9) rotate(-45)" font-size="8.4" text-anchor="end" fill="#111">DCs</text>
<text x="631.0" y="50.2" font-size="8.3" fill="#222">−log10 pvalue</text>
<circle cx="686.7" cy="47.2" r="1.2" fill="#000"/>
<text x="691.8" y="49.0" font-size="4.9" fill="#333">2.5</text>
<circle cx="703.7" cy="47.2" r="1.9" fill="#000"/>
<text x="708.8" y="49.0" font-size="4.9" fill="#333">5.0</text>
<circle cx="721.4" cy="47.2" r="2.4" fill="#000"/>
<text x="726.8" y="49.0" font-size="4.9" fill="#333">7.5</text>
<circle cx="740.0" cy="47.2" r="2.8" fill="#000"/>
<text x="746.4" y="49.0" font-size="4.9" fill="#333">10.0</text>
<text x="769" y="49.6" font-size="7.9" fill="#222">NES</text>
<rect x="801.2" y="44.2" width="28.9" height="5.6" fill="url(#gb)"/>
<text x="794.0" y="59" font-size="7.6" text-anchor="middle" fill="#111">1.1</text>
<text x="813.4" y="59" font-size="7.6" text-anchor="middle" fill="#111">1.5</text>
<text x="832.2" y="59" font-size="7.6" text-anchor="middle" fill="#111">2.0</text>
<path d="M158.8 355.0V517.2H296.2" fill="none" stroke="#222" stroke-width="1.1"/>
<path d="M158.8 364.9h-2.2" stroke="#222" stroke-width="0.9"/>
<text x="155.3" y="366.7" font-size="8.4" text-anchor="end" fill="#111">Steroid Hormone Biosynthesis</text>
<circle cx="178.3" cy="364.9" r="2.30" fill="#EC412F"/>
<circle cx="211.0" cy="364.9" r="1.90" fill="#EF4F39"/>
<circle cx="243.8" cy="364.9" r="1.60" fill="#F58269"/>
<path d="M158.8 380.8h-2.2" stroke="#222" stroke-width="0.9"/>
<text x="155.3" y="382.6" font-size="8.4" text-anchor="end" fill="#111">Ether Lipid Metabolism</text>
<circle cx="178.3" cy="380.8" r="1.95" fill="#EE4834"/>
<circle cx="211.0" cy="380.8" r="1.95" fill="#EE4834"/>
<circle cx="243.8" cy="380.8" r="1.95" fill="#EE4834"/>
<circle cx="276.5" cy="380.8" r="1.20" fill="#F8B3A2"/>
<path d="M158.8 396.7h-2.2" stroke="#222" stroke-width="0.9"/>
<text x="155.3" y="398.5" font-size="8.4" text-anchor="end" fill="#111">Tyrosine Metabolism</text>
<circle cx="178.3" cy="396.7" r="1.40" fill="#F58269"/>
<circle cx="211.0" cy="396.7" r="1.95" fill="#EE4834"/>
<circle cx="243.8" cy="396.7" r="1.95" fill="#EE4834"/>
<circle cx="276.5" cy="396.7" r="1.95" fill="#EE4834"/>
<path d="M158.8 412.6h-2.2" stroke="#222" stroke-width="0.9"/>
<text x="155.3" y="414.4" font-size="8.4" text-anchor="end" fill="#111">Drug Metabolism − Other Enzymes</text>
<circle cx="178.3" cy="412.6" r="2.00" fill="#EE4834"/>
<circle cx="211.0" cy="412.6" r="1.85" fill="#EE4834"/>
<circle cx="243.8" cy="412.6" r="1.95" fill="#EE4834"/>
<circle cx="276.5" cy="412.6" r="1.95" fill="#EE4834"/>
<path d="M158.8 428.5h-2.2" stroke="#222" stroke-width="0.9"/>
<text x="155.3" y="430.3" font-size="8.4" text-anchor="end" fill="#111">Arachidonic Acid Metabolism</text>
<circle cx="178.3" cy="428.5" r="3.00" fill="#EC412F"/>
<circle cx="211.0" cy="428.5" r="2.00" fill="#EE4834"/>
<circle cx="243.8" cy="428.5" r="1.95" fill="#EE4834"/>
<circle cx="276.5" cy="428.5" r="1.95" fill="#EE4834"/>
<path d="M158.8 444.4h-2.2" stroke="#222" stroke-width="0.9"/>
<text x="155.3" y="446.2" font-size="8.4" text-anchor="end" fill="#111">Glycolysis / Gluconeogenesis</text>
<circle cx="178.3" cy="444.4" r="1.85" fill="#EF4F39"/>
<circle cx="211.0" cy="444.4" r="2.10" fill="#EE4834"/>
<circle cx="243.8" cy="444.4" r="2.80" fill="#EE4834"/>
<circle cx="276.5" cy="444.4" r="1.95" fill="#EE4834"/>
<path d="M158.8 460.3h-2.2" stroke="#222" stroke-width="0.9"/>
<text x="155.3" y="462.1" font-size="8.4" text-anchor="end" fill="#111">Drug Metabolism − Cytochrome P450</text>
<circle cx="178.3" cy="460.3" r="2.80" fill="#EC412F"/>
<circle cx="211.0" cy="460.3" r="1.95" fill="#EE4834"/>
<circle cx="243.8" cy="460.3" r="1.90" fill="#EA3426"/>
<circle cx="276.5" cy="460.3" r="1.85" fill="#EE4834"/>
<path d="M158.8 476.2h-2.2" stroke="#222" stroke-width="0.9"/>
<text x="155.3" y="478.0" font-size="8.4" text-anchor="end" fill="#111">Glutathione Metabolism</text>
<circle cx="178.3" cy="476.2" r="2.60" fill="#EC412F"/>
<circle cx="211.0" cy="476.2" r="1.95" fill="#EE4834"/>
<circle cx="243.8" cy="476.2" r="1.85" fill="#EE4834"/>
<circle cx="276.5" cy="476.2" r="1.85" fill="#EE4834"/>
<path d="M158.8 492.1h-2.2" stroke="#222" stroke-width="0.9"/>
<text x="155.3" y="493.9" font-size="8.4" text-anchor="end" fill="#111">Cytochrome P450</text>
<circle cx="178.3" cy="492.1" r="2.70" fill="#EC412F"/>
<circle cx="211.0" cy="492.1" r="2.60" fill="#EE4834"/>
<circle cx="243.8" cy="492.1" r="2.60" fill="#EC412F"/>
<circle cx="276.5" cy="492.1" r="1.40" fill="#F36A4C"/>
<path d="M158.8 508.0h-2.2" stroke="#222" stroke-width="0.9"/>
<text x="155.3" y="509.8" font-size="8.4" text-anchor="end" fill="#111">Oxidative Phosphorylation</text>
<circle cx="178.3" cy="508.0" r="2.70" fill="#EC412F"/>
<circle cx="211.0" cy="508.0" r="2.80" fill="#EC412F"/>
<circle cx="243.8" cy="508.0" r="2.80" fill="#EA3426"/>
<circle cx="276.5" cy="508.0" r="2.80" fill="#E92D21"/>
<path d="M178.3 517.2v2.2" stroke="#222" stroke-width="0.9"/>
<text transform="translate(184.6,523.4) rotate(-45)" font-size="8.2" text-anchor="end" fill="#111">Endothelial</text>
<path d="M211.0 517.2v2.2" stroke="#222" stroke-width="0.9"/>
<text transform="translate(215.7,524.2) rotate(-45)" font-size="8.2" text-anchor="end" fill="#111">MSC iCAF−like CAFs</text>
<path d="M243.8 517.2v2.2" stroke="#222" stroke-width="0.9"/>
<text transform="translate(247.7,524.2) rotate(-45)" font-size="8.2" text-anchor="end" fill="#111">myCAF−like CAFs</text>
<path d="M276.5 517.2v2.2" stroke="#222" stroke-width="0.9"/>
<text transform="translate(280.4,526.6) rotate(-45)" font-size="8.2" text-anchor="end" fill="#111">PVL</text>
<text x="55.2" y="340.0" font-size="8.3" fill="#222">−log10 pvalue</text>
<circle cx="110.5" cy="337.0" r="1.2" fill="#000"/>
<text x="115.6" y="338.8" font-size="4.9" fill="#333">2.5</text>
<circle cx="127.0" cy="337.0" r="1.9" fill="#000"/>
<text x="132.6" y="338.8" font-size="4.9" fill="#333">5.0</text>
<circle cx="145.1" cy="337.0" r="2.4" fill="#000"/>
<text x="151.2" y="338.8" font-size="4.9" fill="#333">7.5</text>
<circle cx="163.6" cy="337.0" r="2.8" fill="#000"/>
<text x="169.8" y="338.8" font-size="4.9" fill="#333">10.0</text>
<text x="193.6" y="338.8" font-size="8.2" fill="#111">NES</text>
<rect x="223.8" y="333.6" width="29.5" height="5.9" fill="url(#gc)"/>
<text x="218.3" y="348.4" font-size="8.1" text-anchor="middle" fill="#111">1.1</text>
<text x="237.2" y="348.4" font-size="8.1" text-anchor="middle" fill="#111">1.3</text>
<text x="256.4" y="348.4" font-size="8.1" text-anchor="middle" fill="#111">1.6</text>
<path d="M324.2 318.30H853.3" stroke="#EBEBEB" stroke-width="0.7"/>
<path d="M324.2 318.30h-2" stroke="#333" stroke-width="0.6"/>
<text x="321.6" y="320.40" font-size="6" text-anchor="end" fill="#333">2</text>
<path d="M324.2 327.55H853.3" stroke="#EBEBEB" stroke-width="0.7"/>
<path d="M324.2 327.55h-2" stroke="#333" stroke-width="0.6"/>
<text x="321.6" y="329.65" font-size="6" text-anchor="end" fill="#333">1</text>
<path d="M324.2 336.80H853.3" stroke="#EBEBEB" stroke-width="0.7"/>
<path d="M324.2 336.80h-2" stroke="#333" stroke-width="0.6"/>
<text x="321.6" y="338.90" font-size="6" text-anchor="end" fill="#333">0</text>
<path d="M324.2 346.05H853.3" stroke="#EBEBEB" stroke-width="0.7"/>
<path d="M324.2 346.05h-2" stroke="#333" stroke-width="0.6"/>
<text x="321.6" y="348.15" font-size="6" text-anchor="end" fill="#333">−1</text>
<path d="M324.2 355.30H853.3" stroke="#EBEBEB" stroke-width="0.7"/>
<path d="M324.2 355.30h-2" stroke="#333" stroke-width="0.6"/>
<text x="321.6" y="357.40" font-size="6" text-anchor="end" fill="#333">−2</text>
<path d="M324.2 364.55H853.3" stroke="#EBEBEB" stroke-width="0.7"/>
<path d="M324.2 364.55h-2" stroke="#333" stroke-width="0.6"/>
<text x="321.6" y="366.65" font-size="6" text-anchor="end" fill="#333">−3</text>
<text transform="translate(311.8,329.4) rotate(-90)" font-size="7.9" text-anchor="middle" fill="#111">Fatty Acid</text>
<text x="344.4" y="319.5" font-size="5" text-anchor="middle" fill="#333">p = 0.089</text>
<path d="M337.10 323.85V329.86M337.10 336.80V336.80" stroke="#444" stroke-width="0.85"/>
<rect x="331.80" y="329.86" width="10.60" height="6.94" fill="#7B9FD9" stroke="#3d3d3d" stroke-width="0.7"/>
<path d="M331.80 332.18h10.60" stroke="#33415F" stroke-width="1.0"/>
<circle cx="337.10" cy="348.36" r="0.75" fill="#222"/>
<circle cx="337.10" cy="350.40" r="0.75" fill="#222"/>
<circle cx="337.10" cy="355.76" r="0.75" fill="#222"/>
<path d="M348.10 324.78V327.09M348.10 330.32V330.32" stroke="#444" stroke-width="0.85"/>
<rect x="342.80" y="327.09" width="10.60" height="3.24" fill="#D8222B" stroke="#3d3d3d" stroke-width="0.7"/>
<path d="M342.80 328.75h10.60" stroke="#6E1A1E" stroke-width="1.0"/>
<circle cx="348.10" cy="335.23" r="0.75" fill="#222"/>
<text x="377.1" y="319.5" font-size="5" text-anchor="middle" fill="#333">p = 0.089</text>
<path d="M369.83 325.24V329.86M369.83 346.79V355.02" stroke="#444" stroke-width="0.85"/>
<rect x="364.53" y="329.86" width="10.60" height="16.93" fill="#7B9FD9" stroke="#3d3d3d" stroke-width="0.7"/>
<path d="M364.53 335.69h10.60" stroke="#33415F" stroke-width="1.0"/>
<path d="M380.83 325.70V325.70M380.83 333.29V337.54" stroke="#444" stroke-width="0.85"/>
<rect x="375.53" y="325.70" width="10.60" height="7.59" fill="#D8222B" stroke="#3d3d3d" stroke-width="0.7"/>
<path d="M375.53 330.32h10.60" stroke="#6E1A1E" stroke-width="1.0"/>
<text x="409.9" y="319.5" font-size="5" text-anchor="middle" fill="#333">p = 0.185</text>
<path d="M402.56 327.27V336.80M402.56 350.68V353.73" stroke="#444" stroke-width="0.85"/>
<rect x="397.26" y="336.80" width="10.60" height="13.88" fill="#7B9FD9" stroke="#3d3d3d" stroke-width="0.7"/>
<path d="M397.26 346.79h10.60" stroke="#33415F" stroke-width="1.0"/>
<path d="M413.56 322.65V327.55M413.56 346.79V356.87" stroke="#444" stroke-width="0.85"/>
<rect x="408.26" y="327.55" width="10.60" height="19.24" fill="#D8222B" stroke="#3d3d3d" stroke-width="0.7"/>
<path d="M408.26 330.97h10.60" stroke="#6E1A1E" stroke-width="1.0"/>
<text x="442.6" y="319.5" font-size="5" text-anchor="middle" fill="#333">p = 0.161</text>
<path d="M435.29 327.55V332.92M435.29 349.10V363.81" stroke="#444" stroke-width="0.85"/>
<rect x="429.99" y="332.92" width="10.60" height="16.19" fill="#7B9FD9" stroke="#3d3d3d" stroke-width="0.7"/>
<path d="M429.99 345.31h10.60" stroke="#33415F" stroke-width="1.0"/>
<path d="M446.29 328.29V332.64M446.29 336.06V336.80" stroke="#444" stroke-width="0.85"/>
<rect x="440.99" y="332.64" width="10.60" height="3.42" fill="#D8222B" stroke="#3d3d3d" stroke-width="0.7"/>
<path d="M440.99 334.21h10.60" stroke="#6E1A1E" stroke-width="1.0"/>
<circle cx="446.29" cy="349.10" r="0.75" fill="#222"/>
<text x="475.3" y="319.5" font-size="5" text-anchor="middle" fill="#333">p = 0.500</text>
<path d="M468.02 327.55V341.15M468.02 350.40V356.04" stroke="#444" stroke-width="0.85"/>
<rect x="462.72" y="341.15" width="10.60" height="9.25" fill="#7B9FD9" stroke="#3d3d3d" stroke-width="0.7"/>
<path d="M462.72 347.62h10.60" stroke="#33415F" stroke-width="1.0"/>
<circle cx="468.02" cy="322.19" r="0.75" fill="#222"/>
<path d="M479.02 324.78V333.75M479.02 349.10V356.50" stroke="#444" stroke-width="0.85"/>
<rect x="473.72" y="333.75" width="10.60" height="15.36" fill="#D8222B" stroke="#3d3d3d" stroke-width="0.7"/>
<path d="M473.72 337.26h10.60" stroke="#6E1A1E" stroke-width="1.0"/>
<text x="508.1" y="319.5" font-size="5" text-anchor="middle" fill="#333">p = 1.000</text>
<path d="M500.75 335.60V339.85M500.75 348.64V352.99" stroke="#444" stroke-width="0.85"/>
<rect x="495.45" y="339.85" width="10.60" height="8.79" fill="#7B9FD9" stroke="#3d3d3d" stroke-width="0.7"/>
<path d="M495.45 344.20h10.60" stroke="#33415F" stroke-width="1.0"/>
<path d="M511.75 340.78V340.78M511.75 346.33V349.47" stroke="#444" stroke-width="0.85"/>
<rect x="506.45" y="340.78" width="10.60" height="5.55" fill="#D8222B" stroke="#3d3d3d" stroke-width="0.7"/>
<path d="M506.45 343.46h10.60" stroke="#6E1A1E" stroke-width="1.0"/>
<text x="540.8" y="319.5" font-size="5" text-anchor="middle" fill="#333">p = 0.281</text>
<path d="M533.48 327.55V331.71M533.48 336.06V341.15" stroke="#444" stroke-width="0.85"/>
<rect x="528.18" y="331.71" width="10.60" height="4.35" fill="#7B9FD9" stroke="#3d3d3d" stroke-width="0.7"/>
<path d="M528.18 333.75h10.60" stroke="#33415F" stroke-width="1.0"/>
<circle cx="533.48" cy="345.77" r="0.75" fill="#222"/>
<path d="M544.48 330.32V332.92M544.48 351.88V356.50" stroke="#444" stroke-width="0.85"/>
<rect x="539.18" y="332.92" width="10.60" height="18.96" fill="#D8222B" stroke="#3d3d3d" stroke-width="0.7"/>
<path d="M539.18 341.43h10.60" stroke="#6E1A1E" stroke-width="1.0"/>
<text x="573.5" y="319.5" font-size="5" text-anchor="middle" fill="#333">p = 0.268</text>
<path d="M566.21 330.97V330.97M566.21 335.23V336.80" stroke="#444" stroke-width="0.85"/>
<rect x="560.91" y="330.97" width="10.60" height="4.25" fill="#7B9FD9" stroke="#3d3d3d" stroke-width="0.7"/>
<path d="M560.91 332.18h10.60" stroke="#33415F" stroke-width="1.0"/>
<circle cx="566.21" cy="322.93" r="0.75" fill="#222"/>
<circle cx="566.21" cy="350.95" r="0.75" fill="#222"/>
<path d="M577.21 338.65V338.65M577.21 339.02V339.02" stroke="#444" stroke-width="0.85"/>
<rect x="571.91" y="338.65" width="10.60" height="0.60" fill="#D8222B" stroke="#3d3d3d" stroke-width="0.7"/>
<path d="M571.91 338.84h10.60" stroke="#6E1A1E" stroke-width="1.0"/>
<circle cx="577.21" cy="329.86" r="0.75" fill="#222"/>
<circle cx="577.21" cy="342.63" r="0.75" fill="#222"/>
<text x="606.2" y="319.5" font-size="5" text-anchor="middle" fill="#333">p = 0.588</text>
<path d="M598.94 324.50V325.70M598.94 351.14V356.50" stroke="#444" stroke-width="0.85"/>
<rect x="593.64" y="325.70" width="10.60" height="25.44" fill="#7B9FD9" stroke="#3d3d3d" stroke-width="0.7"/>
<path d="M593.64 334.76h10.60" stroke="#33415F" stroke-width="1.0"/>
<path d="M609.94 327.09V334.76M609.94 340.31V343.46" stroke="#444" stroke-width="0.85"/>
<rect x="604.64" y="334.76" width="10.60" height="5.55" fill="#D8222B" stroke="#3d3d3d" stroke-width="0.7"/>
<path d="M604.64 337.26h10.60" stroke="#6E1A1E" stroke-width="1.0"/>
<circle cx="609.94" cy="352.99" r="0.75" fill="#222"/>
<text x="639.0" y="319.5" font-size="5" text-anchor="middle" fill="#333">p = 0.456</text>
<path d="M631.67 327.55V331.71M631.67 349.10V353.73" stroke="#444" stroke-width="0.85"/>
<rect x="626.37" y="331.71" width="10.60" height="17.39" fill="#7B9FD9" stroke="#3d3d3d" stroke-width="0.7"/>
<path d="M626.37 336.34h10.60" stroke="#33415F" stroke-width="1.0"/>
<path d="M642.67 326.44V329.40M642.67 341.15V348.64" stroke="#444" stroke-width="0.85"/>
<rect x="637.37" y="329.40" width="10.60" height="11.75" fill="#D8222B" stroke="#3d3d3d" stroke-width="0.7"/>
<path d="M637.37 334.76h10.60" stroke="#6E1A1E" stroke-width="1.0"/>
<text x="671.7" y="319.5" font-size="5" text-anchor="middle" fill="#333">p = 0.750</text>
<path d="M664.40 326.44V328.01M664.40 334.49V339.57" stroke="#444" stroke-width="0.85"/>
<rect x="659.10" y="328.01" width="10.60" height="6.48" fill="#7B9FD9" stroke="#3d3d3d" stroke-width="0.7"/>
<path d="M659.10 331.06h10.60" stroke="#33415F" stroke-width="1.0"/>
<circle cx="664.40" cy="344.94" r="0.75" fill="#222"/>
<circle cx="664.40" cy="351.14" r="0.75" fill="#222"/>
<path d="M675.40 325.70V327.27M675.40 334.03V339.11" stroke="#444" stroke-width="0.85"/>
<rect x="670.10" y="327.27" width="10.60" height="6.75" fill="#D8222B" stroke="#3d3d3d" stroke-width="0.7"/>
<path d="M670.10 330.32h10.60" stroke="#6E1A1E" stroke-width="1.0"/>
<circle cx="675.40" cy="357.15" r="0.75" fill="#222"/>
<text x="704.4" y="319.5" font-size="5" text-anchor="middle" fill="#333">p = 0.547</text>
<path d="M697.13 325.98V327.55M697.13 336.06V345.31" stroke="#444" stroke-width="0.85"/>
<rect x="691.83" y="327.55" width="10.60" height="8.51" fill="#7B9FD9" stroke="#3d3d3d" stroke-width="0.7"/>
<path d="M691.83 332.92h10.60" stroke="#33415F" stroke-width="1.0"/>
<circle cx="697.13" cy="348.82" r="0.75" fill="#222"/>
<circle cx="697.13" cy="352.53" r="0.75" fill="#222"/>
<path d="M708.13 318.30V327.27M708.13 336.34V341.70" stroke="#444" stroke-width="0.85"/>
<rect x="702.83" y="327.27" width="10.60" height="9.06" fill="#D8222B" stroke="#3d3d3d" stroke-width="0.7"/>
<path d="M702.83 330.32h10.60" stroke="#6E1A1E" stroke-width="1.0"/>
<text x="737.2" y="319.5" font-size="5" text-anchor="middle" fill="#333">p = 0.595</text>
<path d="M729.86 327.09V334.21M729.86 347.16V360.20" stroke="#444" stroke-width="0.85"/>
<rect x="724.56" y="334.21" width="10.60" height="12.95" fill="#7B9FD9" stroke="#3d3d3d" stroke-width="0.7"/>
<path d="M724.56 339.39h10.60" stroke="#33415F" stroke-width="1.0"/>
<path d="M740.86 335.23V335.23M740.86 340.69V343.74" stroke="#444" stroke-width="0.85"/>
<rect x="735.56" y="335.23" width="10.60" height="5.46" fill="#D8222B" stroke="#3d3d3d" stroke-width="0.7"/>
<path d="M735.56 337.54h10.60" stroke="#6E1A1E" stroke-width="1.0"/>
<circle cx="740.86" cy="320.61" r="0.75" fill="#222"/>
<circle cx="740.86" cy="356.50" r="0.75" fill="#222"/>
<text x="769.9" y="319.5" font-size="5" text-anchor="middle" fill="#333">p = 0.121</text>
<path d="M762.59 329.40V333.75M762.59 341.70V347.62" stroke="#444" stroke-width="0.85"/>
<rect x="757.29" y="333.75" width="10.60" height="7.95" fill="#7B9FD9" stroke="#3d3d3d" stroke-width="0.7"/>
<path d="M757.29 336.34h10.60" stroke="#33415F" stroke-width="1.0"/>
<path d="M773.59 327.09V331.44M773.59 335.23V336.80" stroke="#444" stroke-width="0.85"/>
<rect x="768.29" y="331.44" width="10.60" height="3.79" fill="#D8222B" stroke="#3d3d3d" stroke-width="0.7"/>
<path d="M768.29 333.29h10.60" stroke="#6E1A1E" stroke-width="1.0"/>
<text x="802.6" y="319.5" font-size="5" text-anchor="middle" fill="#333">p = 0.016</text>
<path d="M795.32 322.93V328.29M795.32 332.92V338.65" stroke="#444" stroke-width="0.85"/>
<rect x="790.02" y="328.29" width="10.60" height="4.62" fill="#7B9FD9" stroke="#3d3d3d" stroke-width="0.7"/>
<path d="M790.02 330.32h10.60" stroke="#33415F" stroke-width="1.0"/>
<circle cx="795.32" cy="348.64" r="0.75" fill="#222"/>
<path d="M806.32 329.86V330.23M806.32 330.97V331.25" stroke="#444" stroke-width="0.85"/>
<rect x="801.02" y="330.23" width="10.60" height="0.74" fill="#D8222B" stroke="#3d3d3d" stroke-width="0.7"/>
<path d="M801.02 330.60h10.60" stroke="#6E1A1E" stroke-width="1.0"/>
<circle cx="806.32" cy="325.98" r="0.75" fill="#222"/>
<text x="835.3" y="319.5" font-size="5" text-anchor="middle" fill="#333">p = 0.063</text>
<path d="M828.05 328.29V334.95M828.05 340.31V341.15" stroke="#444" stroke-width="0.85"/>
<rect x="822.75" y="334.95" width="10.60" height="5.37" fill="#7B9FD9" stroke="#3d3d3d" stroke-width="0.7"/>
<path d="M822.75 337.54h10.60" stroke="#33415F" stroke-width="1.0"/>
<path d="M839.05 338.37V338.65M839.05 341.70V342.17" stroke="#444" stroke-width="0.85"/>
<rect x="833.75" y="338.65" width="10.60" height="3.05" fill="#D8222B" stroke="#3d3d3d" stroke-width="0.7"/>
<path d="M833.75 339.85h10.60" stroke="#6E1A1E" stroke-width="1.0"/>
<circle cx="839.05" cy="349.10" r="0.75" fill="#222"/>
<path d="M324.2 374.65H853.3" stroke="#EBEBEB" stroke-width="0.7"/>
<path d="M324.2 374.65h-2" stroke="#333" stroke-width="0.6"/>
<text x="321.6" y="376.75" font-size="6" text-anchor="end" fill="#333">1</text>
<path d="M324.2 384.30H853.3" stroke="#EBEBEB" stroke-width="0.7"/>
<path d="M324.2 384.30h-2" stroke="#333" stroke-width="0.6"/>
<text x="321.6" y="386.40" font-size="6" text-anchor="end" fill="#333">0</text>
<path d="M324.2 393.95H853.3" stroke="#EBEBEB" stroke-width="0.7"/>
<path d="M324.2 393.95h-2" stroke="#333" stroke-width="0.6"/>
<text x="321.6" y="396.05" font-size="6" text-anchor="end" fill="#333">−1</text>
<path d="M324.2 403.60H853.3" stroke="#EBEBEB" stroke-width="0.7"/>
<path d="M324.2 403.60h-2" stroke="#333" stroke-width="0.6"/>
<text x="321.6" y="405.70" font-size="6" text-anchor="end" fill="#333">−2</text>
<path d="M324.2 413.25H853.3" stroke="#EBEBEB" stroke-width="0.7"/>
<path d="M324.2 413.25h-2" stroke="#333" stroke-width="0.6"/>
<text x="321.6" y="415.35" font-size="6" text-anchor="end" fill="#333">−3</text>
<text transform="translate(311.8,389.0) rotate(-90)" font-size="7.9" text-anchor="middle" fill="#111">Citric Acid Cycle</text>
<text x="344.4" y="373.2" font-size="5" text-anchor="middle" fill="#333">p = 0.161</text>
<path d="M337.10 381.02V381.02M337.10 383.82V383.82" stroke="#444" stroke-width="0.85"/>
<rect x="331.80" y="381.02" width="10.60" height="2.80" fill="#7B9FD9" stroke="#3d3d3d" stroke-width="0.7"/>
<path d="M331.80 382.27h10.60" stroke="#33415F" stroke-width="1.0"/>
<circle cx="337.10" cy="376.39" r="0.75" fill="#222"/>
<circle cx="337.10" cy="387.68" r="0.75" fill="#222"/>
<circle cx="337.10" cy="389.22" r="0.75" fill="#222"/>
<path d="M348.10 377.16V378.70M348.10 381.50V384.88" stroke="#444" stroke-width="0.85"/>
<rect x="342.80" y="378.70" width="10.60" height="2.80" fill="#D8222B" stroke="#3d3d3d" stroke-width="0.7"/>
<path d="M342.80 379.96h10.60" stroke="#6E1A1E" stroke-width="1.0"/>
<text x="377.1" y="373.2" font-size="5" text-anchor="middle" fill="#333">p = 0.020</text>
<path d="M369.83 373.78V380.73M369.83 385.65V389.22" stroke="#444" stroke-width="0.85"/>
<rect x="364.53" y="380.73" width="10.60" height="4.92" fill="#7B9FD9" stroke="#3d3d3d" stroke-width="0.7"/>
<path d="M364.53 383.05h10.60" stroke="#33415F" stroke-width="1.0"/>
<circle cx="369.83" cy="394.14" r="0.75" fill="#222"/>
<circle cx="369.83" cy="403.89" r="0.75" fill="#222"/>
<path d="M380.83 377.16V378.12M380.83 379.96V381.50" stroke="#444" stroke-width="0.85"/>
<rect x="375.53" y="378.12" width="10.60" height="1.83" fill="#D8222B" stroke="#3d3d3d" stroke-width="0.7"/>
<path d="M375.53 378.70h10.60" stroke="#6E1A1E" stroke-width="1.0"/>
<text x="409.9" y="373.2" font-size="5" text-anchor="middle" fill="#333">p = 0.238</text>
<path d="M402.56 374.65V377.64M402.56 402.63V414.70" stroke="#444" stroke-width="0.85"/>
<rect x="397.26" y="377.64" width="10.60" height="24.99" fill="#7B9FD9" stroke="#3d3d3d" stroke-width="0.7"/>
<path d="M397.26 395.40h10.60" stroke="#33415F" stroke-width="1.0"/>
<path d="M413.56 373.01V375.33M413.56 386.91V403.89" stroke="#444" stroke-width="0.85"/>
<rect x="408.26" y="375.33" width="10.60" height="11.58" fill="#D8222B" stroke="#3d3d3d" stroke-width="0.7"/>
<path d="M408.26 379.19h10.60" stroke="#6E1A1E" stroke-width="1.0"/>
<text x="442.6" y="373.2" font-size="5" text-anchor="middle" fill="#333">p = 0.045</text>
<path d="M435.29 378.90V385.07M435.29 408.81V415.76" stroke="#444" stroke-width="0.85"/>
<rect x="429.99" y="385.07" width="10.60" height="23.74" fill="#7B9FD9" stroke="#3d3d3d" stroke-width="0.7"/>
<path d="M429.99 394.34h10.60" stroke="#33415F" stroke-width="1.0"/>
<path d="M446.29 378.90V379.96M446.29 392.31V400.80" stroke="#444" stroke-width="0.85"/>
<rect x="440.99" y="379.96" width="10.60" height="12.35" fill="#D8222B" stroke="#3d3d3d" stroke-width="0.7"/>
<path d="M440.99 382.27h10.60" stroke="#6E1A1E" stroke-width="1.0"/>
<text x="475.3" y="373.2" font-size="5" text-anchor="middle" fill="#333">p = 0.301</text>
<path d="M468.02 376.58V383.53M468.02 399.26V417.79" stroke="#444" stroke-width="0.85"/>
<rect x="462.72" y="383.53" width="10.60" height="15.73" fill="#7B9FD9" stroke="#3d3d3d" stroke-width="0.7"/>
<path d="M462.72 392.02h10.60" stroke="#33415F" stroke-width="1.0"/>
<path d="M479.02 376.58V382.27M479.02 394.14V398.78" stroke="#444" stroke-width="0.85"/>
<rect x="473.72" y="382.27" width="10.60" height="11.87" fill="#D8222B" stroke="#3d3d3d" stroke-width="0.7"/>
<path d="M473.72 387.68h10.60" stroke="#6E1A1E" stroke-width="1.0"/>
<text x="508.1" y="373.2" font-size="5" text-anchor="middle" fill="#333">p = 0.800</text>
<path d="M500.75 380.25V386.13M500.75 398.20V403.89" stroke="#444" stroke-width="0.85"/>
<rect x="495.45" y="386.13" width="10.60" height="12.06" fill="#7B9FD9" stroke="#3d3d3d" stroke-width="0.7"/>
<path d="M495.45 392.02h10.60" stroke="#33415F" stroke-width="1.0"/>
<path d="M511.75 379.48V381.79M511.75 406.21V411.61" stroke="#444" stroke-width="0.85"/>
<rect x="506.45" y="381.79" width="10.60" height="24.41" fill="#D8222B" stroke="#3d3d3d" stroke-width="0.7"/>
<path d="M506.45 393.56h10.60" stroke="#6E1A1E" stroke-width="1.0"/>
<text x="540.8" y="373.2" font-size="5" text-anchor="middle" fill="#333">p = 0.779</text>
<path d="M533.48 382.27V383.05M533.48 386.91V389.22" stroke="#444" stroke-width="0.85"/>
<rect x="528.18" y="383.05" width="10.60" height="3.86" fill="#7B9FD9" stroke="#3d3d3d" stroke-width="0.7"/>
<path d="M528.18 384.88h10.60" stroke="#33415F" stroke-width="1.0"/>
<circle cx="533.48" cy="374.65" r="0.75" fill="#222"/>
<path d="M544.48 377.35V380.44M544.48 390.48V393.85" stroke="#444" stroke-width="0.85"/>
<rect x="539.18" y="380.44" width="10.60" height="10.04" fill="#D8222B" stroke="#3d3d3d" stroke-width="0.7"/>
<path d="M539.18 385.36h10.60" stroke="#6E1A1E" stroke-width="1.0"/>
<text x="573.5" y="373.2" font-size="5" text-anchor="middle" fill="#333">p = 0.639</text>
<path d="M566.21 376.39V377.64M566.21 381.79V383.82" stroke="#444" stroke-width="0.85"/>
<rect x="560.91" y="377.64" width="10.60" height="4.15" fill="#7B9FD9" stroke="#3d3d3d" stroke-width="0.7"/>
<path d="M560.91 379.96h10.60" stroke="#33415F" stroke-width="1.0"/>
<path d="M577.21 378.41V378.41M577.21 380.73V380.73" stroke="#444" stroke-width="0.85"/>
<rect x="571.91" y="378.41" width="10.60" height="2.32" fill="#D8222B" stroke="#3d3d3d" stroke-width="0.7"/>
<path d="M571.91 379.67h10.60" stroke="#6E1A1E" stroke-width="1.0"/>
<circle cx="577.21" cy="384.30" r="0.75" fill="#222"/>
<text x="606.2" y="373.2" font-size="5" text-anchor="middle" fill="#333">p = 0.393</text>
<path d="M598.94 373.01V377.35M598.94 387.68V390.77" stroke="#444" stroke-width="0.85"/>
<rect x="593.64" y="377.35" width="10.60" height="10.33" fill="#7B9FD9" stroke="#3d3d3d" stroke-width="0.7"/>
<path d="M593.64 380.25h10.60" stroke="#33415F" stroke-width="1.0"/>
<circle cx="598.94" cy="407.75" r="0.75" fill="#222"/>
<circle cx="598.94" cy="418.07" r="0.75" fill="#222"/>
<path d="M609.94 374.65V375.33M609.94 386.13V392.60" stroke="#444" stroke-width="0.85"/>
<rect x="604.64" y="375.33" width="10.60" height="10.81" fill="#D8222B" stroke="#3d3d3d" stroke-width="0.7"/>
<path d="M604.64 375.62h10.60" stroke="#6E1A1E" stroke-width="1.0"/>
<circle cx="609.94" cy="412.38" r="0.75" fill="#222"/>
<text x="639.0" y="373.2" font-size="5" text-anchor="middle" fill="#333">p = 0.414</text>
<path d="M631.67 376.10V379.67M631.67 389.51V392.60" stroke="#444" stroke-width="0.85"/>
<rect x="626.37" y="379.67" width="10.60" height="9.84" fill="#7B9FD9" stroke="#3d3d3d" stroke-width="0.7"/>
<path d="M626.37 383.53h10.60" stroke="#33415F" stroke-width="1.0"/>
<circle cx="631.67" cy="412.38" r="0.75" fill="#222"/>
<path d="M642.67 376.58V377.64M642.67 383.34V386.13" stroke="#444" stroke-width="0.85"/>
<rect x="637.37" y="377.64" width="10.60" height="5.69" fill="#D8222B" stroke="#3d3d3d" stroke-width="0.7"/>
<path d="M637.37 379.96h10.60" stroke="#6E1A1E" stroke-width="1.0"/>
<circle cx="642.67" cy="414.70" r="0.75" fill="#222"/>
<text x="671.7" y="373.2" font-size="5" text-anchor="middle" fill="#333">p = 0.645</text>
<path d="M664.40 373.01V375.33M664.40 381.50V388.74" stroke="#444" stroke-width="0.85"/>
<rect x="659.10" y="375.33" width="10.60" height="6.18" fill="#7B9FD9" stroke="#3d3d3d" stroke-width="0.7"/>
<path d="M659.10 378.41h10.60" stroke="#33415F" stroke-width="1.0"/>
<path d="M675.40 373.69V374.84M675.40 381.02V385.65" stroke="#444" stroke-width="0.85"/>
<rect x="670.10" y="374.84" width="10.60" height="6.18" fill="#D8222B" stroke="#3d3d3d" stroke-width="0.7"/>
<path d="M670.10 376.58h10.60" stroke="#6E1A1E" stroke-width="1.0"/>
<text x="704.4" y="373.2" font-size="5" text-anchor="middle" fill="#333">p = 0.238</text>
<path d="M697.13 375.04V377.64M697.13 387.19V393.85" stroke="#444" stroke-width="0.85"/>
<rect x="691.83" y="377.64" width="10.60" height="9.55" fill="#7B9FD9" stroke="#3d3d3d" stroke-width="0.7"/>
<path d="M691.83 384.59h10.60" stroke="#33415F" stroke-width="1.0"/>
<circle cx="697.13" cy="410.84" r="0.75" fill="#222"/>
<path d="M708.13 374.07V376.39M708.13 384.88V386.13" stroke="#444" stroke-width="0.85"/>
<rect x="702.83" y="376.39" width="10.60" height="8.49" fill="#D8222B" stroke="#3d3d3d" stroke-width="0.7"/>
<path d="M702.83 377.64h10.60" stroke="#6E1A1E" stroke-width="1.0"/>
<circle cx="708.13" cy="398.49" r="0.75" fill="#222"/>
<text x="737.2" y="373.2" font-size="5" text-anchor="middle" fill="#333">p = 0.972</text>
<path d="M729.86 376.10V379.67M729.86 391.54V399.74" stroke="#444" stroke-width="0.85"/>
<rect x="724.56" y="379.67" width="10.60" height="11.87" fill="#7B9FD9" stroke="#3d3d3d" stroke-width="0.7"/>
<path d="M724.56 384.59h10.60" stroke="#33415F" stroke-width="1.0"/>
<path d="M740.86 377.64V378.41M740.86 405.43V408.04" stroke="#444" stroke-width="0.85"/>
<rect x="735.56" y="378.41" width="10.60" height="27.02" fill="#D8222B" stroke="#3d3d3d" stroke-width="0.7"/>
<path d="M735.56 379.96h10.60" stroke="#6E1A1E" stroke-width="1.0"/>
<text x="769.9" y="373.2" font-size="5" text-anchor="middle" fill="#333">p = 0.547</text>
<path d="M762.59 375.33V378.41M762.59 384.59V388.74" stroke="#444" stroke-width="0.85"/>
<rect x="757.29" y="378.41" width="10.60" height="6.18" fill="#7B9FD9" stroke="#3d3d3d" stroke-width="0.7"/>
<path d="M757.29 381.02h10.60" stroke="#33415F" stroke-width="1.0"/>
<path d="M773.59 376.10V378.90M773.59 387.68V393.85" stroke="#444" stroke-width="0.85"/>
<rect x="768.29" y="378.90" width="10.60" height="8.78" fill="#D8222B" stroke="#3d3d3d" stroke-width="0.7"/>
<path d="M768.29 379.96h10.60" stroke="#6E1A1E" stroke-width="1.0"/>
<text x="802.6" y="373.2" font-size="5" text-anchor="middle" fill="#333">p = 1.000</text>
<path d="M795.32 379.19V380.25M795.32 384.59V388.74" stroke="#444" stroke-width="0.85"/>
<rect x="790.02" y="380.25" width="10.60" height="4.34" fill="#7B9FD9" stroke="#3d3d3d" stroke-width="0.7"/>
<path d="M790.02 381.02h10.60" stroke="#33415F" stroke-width="1.0"/>
<path d="M806.32 378.41V380.25M806.32 385.36V388.16" stroke="#444" stroke-width="0.85"/>
<rect x="801.02" y="380.25" width="10.60" height="5.11" fill="#D8222B" stroke="#3d3d3d" stroke-width="0.7"/>
<path d="M801.02 382.76h10.60" stroke="#6E1A1E" stroke-width="1.0"/>
<text x="835.3" y="373.2" font-size="5" text-anchor="middle" fill="#333">p = 0.595</text>
<path d="M828.05 373.01V373.49M828.05 381.50V386.13" stroke="#444" stroke-width="0.85"/>
<rect x="822.75" y="373.49" width="10.60" height="8.01" fill="#7B9FD9" stroke="#3d3d3d" stroke-width="0.7"/>
<path d="M822.75 376.10h10.60" stroke="#33415F" stroke-width="1.0"/>
<path d="M839.05 375.33V376.10M839.05 381.79V385.84" stroke="#444" stroke-width="0.85"/>
<rect x="833.75" y="376.10" width="10.60" height="5.69" fill="#D8222B" stroke="#3d3d3d" stroke-width="0.7"/>
<path d="M833.75 378.41h10.60" stroke="#6E1A1E" stroke-width="1.0"/>
<path d="M324.2 422.44H853.3" stroke="#EBEBEB" stroke-width="0.7"/>
<path d="M324.2 422.44h-2" stroke="#333" stroke-width="0.6"/>
<text x="321.6" y="424.54" font-size="6" text-anchor="end" fill="#333">2</text>
<path d="M324.2 439.10H853.3" stroke="#EBEBEB" stroke-width="0.7"/>
<path d="M324.2 439.10h-2" stroke="#333" stroke-width="0.6"/>
<text x="321.6" y="441.20" font-size="6" text-anchor="end" fill="#333">0</text>
<path d="M324.2 455.76H853.3" stroke="#EBEBEB" stroke-width="0.7"/>
<path d="M324.2 455.76h-2" stroke="#333" stroke-width="0.6"/>
<text x="321.6" y="457.86" font-size="6" text-anchor="end" fill="#333">−2</text>
<text transform="translate(311.8,441.7) rotate(-90)" font-size="7.9" text-anchor="middle" fill="#111">Glycolysis</text>
<text x="344.4" y="424.4" font-size="5" text-anchor="middle" fill="#333">p = 0.414</text>
<path d="M337.10 432.10V437.27M337.10 445.76V446.85" stroke="#444" stroke-width="0.85"/>
<rect x="331.80" y="437.27" width="10.60" height="8.50" fill="#7B9FD9" stroke="#3d3d3d" stroke-width="0.7"/>
<path d="M331.80 442.18h10.60" stroke="#33415F" stroke-width="1.0"/>
<path d="M348.10 433.02V436.77M348.10 439.60V442.68" stroke="#444" stroke-width="0.85"/>
<rect x="342.80" y="436.77" width="10.60" height="2.83" fill="#D8222B" stroke="#3d3d3d" stroke-width="0.7"/>
<path d="M342.80 438.02h10.60" stroke="#6E1A1E" stroke-width="1.0"/>
<circle cx="348.10" cy="447.76" r="0.75" fill="#222"/>
<text x="377.1" y="424.4" font-size="5" text-anchor="middle" fill="#333">p = 0.301</text>
<path d="M369.83 432.10V437.27M369.83 446.26V451.60" stroke="#444" stroke-width="0.85"/>
<rect x="364.53" y="437.27" width="10.60" height="9.00" fill="#7B9FD9" stroke="#3d3d3d" stroke-width="0.7"/>
<path d="M364.53 440.35h10.60" stroke="#33415F" stroke-width="1.0"/>
<path d="M380.83 436.18V436.93M380.83 440.35V442.35" stroke="#444" stroke-width="0.85"/>
<rect x="375.53" y="436.93" width="10.60" height="3.42" fill="#D8222B" stroke="#3d3d3d" stroke-width="0.7"/>
<path d="M375.53 438.02h10.60" stroke="#6E1A1E" stroke-width="1.0"/>
<text x="409.9" y="424.4" font-size="5" text-anchor="middle" fill="#333">p = 0.140</text>
<path d="M402.56 438.52V440.02M402.56 447.60V455.76" stroke="#444" stroke-width="0.85"/>
<rect x="397.26" y="440.02" width="10.60" height="7.58" fill="#7B9FD9" stroke="#3d3d3d" stroke-width="0.7"/>
<path d="M397.26 443.43h10.60" stroke="#33415F" stroke-width="1.0"/>
<circle cx="402.56" cy="463.26" r="0.75" fill="#222"/>
<path d="M413.56 434.60V436.43M413.56 443.76V453.51" stroke="#444" stroke-width="0.85"/>
<rect x="408.26" y="436.43" width="10.60" height="7.33" fill="#D8222B" stroke="#3d3d3d" stroke-width="0.7"/>
<path d="M408.26 438.77h10.60" stroke="#6E1A1E" stroke-width="1.0"/>
<text x="442.6" y="424.4" font-size="5" text-anchor="middle" fill="#333">p = 0.053</text>
<path d="M435.29 437.68V442.18M435.29 459.43V464.67" stroke="#444" stroke-width="0.85"/>
<rect x="429.99" y="442.18" width="10.60" height="17.24" fill="#7B9FD9" stroke="#3d3d3d" stroke-width="0.7"/>
<path d="M429.99 448.85h10.60" stroke="#33415F" stroke-width="1.0"/>
<path d="M446.29 434.94V436.93M446.29 445.26V448.85" stroke="#444" stroke-width="0.85"/>
<rect x="440.99" y="436.93" width="10.60" height="8.33" fill="#D8222B" stroke="#3d3d3d" stroke-width="0.7"/>
<path d="M440.99 442.18h10.60" stroke="#6E1A1E" stroke-width="1.0"/>
<text x="475.3" y="424.4" font-size="5" text-anchor="middle" fill="#333">p = 0.374</text>
<path d="M468.02 437.68V445.26M468.02 453.84V462.01" stroke="#444" stroke-width="0.85"/>
<rect x="462.72" y="445.26" width="10.60" height="8.58" fill="#7B9FD9" stroke="#3d3d3d" stroke-width="0.7"/>
<path d="M462.72 446.51h10.60" stroke="#33415F" stroke-width="1.0"/>
<path d="M479.02 438.52V441.43M479.02 448.85V458.18" stroke="#444" stroke-width="0.85"/>
<rect x="473.72" y="441.43" width="10.60" height="7.41" fill="#D8222B" stroke="#3d3d3d" stroke-width="0.7"/>
<path d="M473.72 442.35h10.60" stroke="#6E1A1E" stroke-width="1.0"/>
<text x="508.1" y="424.4" font-size="5" text-anchor="middle" fill="#333">p = 1.000</text>
<path d="M500.75 449.26V449.26M500.75 450.10V450.10" stroke="#444" stroke-width="0.85"/>
<rect x="495.45" y="449.26" width="10.60" height="0.83" fill="#7B9FD9" stroke="#3d3d3d" stroke-width="0.7"/>
<path d="M495.45 449.68h10.60" stroke="#33415F" stroke-width="1.0"/>
<path d="M511.75 441.60V442.18M511.75 463.92V469.50" stroke="#444" stroke-width="0.85"/>
<rect x="506.45" y="442.18" width="10.60" height="21.74" fill="#D8222B" stroke="#3d3d3d" stroke-width="0.7"/>
<path d="M506.45 451.68h10.60" stroke="#6E1A1E" stroke-width="1.0"/>
<text x="540.8" y="424.4" font-size="5" text-anchor="middle" fill="#333">p = 0.336</text>
<path d="M533.48 431.02V436.43M533.48 445.43V448.51" stroke="#444" stroke-width="0.85"/>
<rect x="528.18" y="436.43" width="10.60" height="9.00" fill="#7B9FD9" stroke="#3d3d3d" stroke-width="0.7"/>
<path d="M528.18 441.10h10.60" stroke="#33415F" stroke-width="1.0"/>
<path d="M544.48 436.18V439.60M544.48 447.60V452.26" stroke="#444" stroke-width="0.85"/>
<rect x="539.18" y="439.60" width="10.60" height="8.00" fill="#D8222B" stroke="#3d3d3d" stroke-width="0.7"/>
<path d="M539.18 444.51h10.60" stroke="#6E1A1E" stroke-width="1.0"/>
<text x="573.5" y="424.4" font-size="5" text-anchor="middle" fill="#333">p = 1.000</text>
<path d="M566.21 434.10V438.02M566.21 440.35V441.85" stroke="#444" stroke-width="0.85"/>
<rect x="560.91" y="438.02" width="10.60" height="2.33" fill="#7B9FD9" stroke="#3d3d3d" stroke-width="0.7"/>
<path d="M560.91 439.60h10.60" stroke="#33415F" stroke-width="1.0"/>
<circle cx="566.21" cy="445.43" r="0.75" fill="#222"/>
<path d="M577.21 433.85V436.43M577.21 439.85V440.35" stroke="#444" stroke-width="0.85"/>
<rect x="571.91" y="436.43" width="10.60" height="3.42" fill="#D8222B" stroke="#3d3d3d" stroke-width="0.7"/>
<path d="M571.91 439.27h10.60" stroke="#6E1A1E" stroke-width="1.0"/>
<text x="606.2" y="424.4" font-size="5" text-anchor="middle" fill="#333">p = 0.588</text>
<path d="M598.94 425.27V428.27M598.94 436.43V448.10" stroke="#444" stroke-width="0.85"/>
<rect x="593.64" y="428.27" width="10.60" height="8.16" fill="#7B9FD9" stroke="#3d3d3d" stroke-width="0.7"/>
<path d="M593.64 435.35h10.60" stroke="#33415F" stroke-width="1.0"/>
<circle cx="598.94" cy="449.68" r="0.75" fill="#222"/>
<circle cx="598.94" cy="453.18" r="0.75" fill="#222"/>
<path d="M609.94 424.86V427.94M609.94 438.77V453.51" stroke="#444" stroke-width="0.85"/>
<rect x="604.64" y="427.94" width="10.60" height="10.83" fill="#D8222B" stroke="#3d3d3d" stroke-width="0.7"/>
<path d="M604.64 429.77h10.60" stroke="#6E1A1E" stroke-width="1.0"/>
<text x="639.0" y="424.4" font-size="5" text-anchor="middle" fill="#333">p = 0.645</text>
<path d="M631.67 432.27V435.18M631.67 442.18V442.68" stroke="#444" stroke-width="0.85"/>
<rect x="626.37" y="435.18" width="10.60" height="7.00" fill="#7B9FD9" stroke="#3d3d3d" stroke-width="0.7"/>
<path d="M626.37 437.68h10.60" stroke="#33415F" stroke-width="1.0"/>
<circle cx="631.67" cy="454.01" r="0.75" fill="#222"/>
<path d="M642.67 427.60V433.02M642.67 441.43V445.43" stroke="#444" stroke-width="0.85"/>
<rect x="637.37" y="433.02" width="10.60" height="8.41" fill="#D8222B" stroke="#3d3d3d" stroke-width="0.7"/>
<path d="M637.37 436.77h10.60" stroke="#6E1A1E" stroke-width="1.0"/>
<circle cx="642.67" cy="464.34" r="0.75" fill="#222"/>
<text x="671.7" y="424.4" font-size="5" text-anchor="middle" fill="#333">p = 0.301</text>
<path d="M664.40 425.27V426.69M664.40 430.60V433.35" stroke="#444" stroke-width="0.85"/>
<rect x="659.10" y="426.69" width="10.60" height="3.92" fill="#7B9FD9" stroke="#3d3d3d" stroke-width="0.7"/>
<path d="M659.10 428.27h10.60" stroke="#33415F" stroke-width="1.0"/>
<circle cx="664.40" cy="439.85" r="0.75" fill="#222"/>
<path d="M675.40 424.86V425.61M675.40 431.52V438.77" stroke="#444" stroke-width="0.85"/>
<rect x="670.10" y="425.61" width="10.60" height="5.91" fill="#D8222B" stroke="#3d3d3d" stroke-width="0.7"/>
<path d="M670.10 426.85h10.60" stroke="#6E1A1E" stroke-width="1.0"/>
<text x="704.4" y="424.4" font-size="5" text-anchor="middle" fill="#333">p = 0.336</text>
<path d="M697.13 427.60V431.35M697.13 440.02V440.02" stroke="#444" stroke-width="0.85"/>
<rect x="691.83" y="431.35" width="10.60" height="8.66" fill="#7B9FD9" stroke="#3d3d3d" stroke-width="0.7"/>
<path d="M691.83 431.52h10.60" stroke="#33415F" stroke-width="1.0"/>
<circle cx="697.13" cy="455.76" r="0.75" fill="#222"/>
<path d="M708.13 427.60V427.94M708.13 436.43V440.35" stroke="#444" stroke-width="0.85"/>
<rect x="702.83" y="427.94" width="10.60" height="8.50" fill="#D8222B" stroke="#3d3d3d" stroke-width="0.7"/>
<path d="M702.83 429.94h10.60" stroke="#6E1A1E" stroke-width="1.0"/>
<text x="737.2" y="424.4" font-size="5" text-anchor="middle" fill="#333">p = 0.750</text>
<path d="M729.86 426.69V432.10M729.86 440.77V450.85" stroke="#444" stroke-width="0.85"/>
<rect x="724.56" y="432.10" width="10.60" height="8.66" fill="#7B9FD9" stroke="#3d3d3d" stroke-width="0.7"/>
<path d="M724.56 433.35h10.60" stroke="#33415F" stroke-width="1.0"/>
<path d="M740.86 427.94V429.94M740.86 441.43V445.01" stroke="#444" stroke-width="0.85"/>
<rect x="735.56" y="429.94" width="10.60" height="11.50" fill="#D8222B" stroke="#3d3d3d" stroke-width="0.7"/>
<path d="M735.56 433.35h10.60" stroke="#6E1A1E" stroke-width="1.0"/>
<circle cx="740.86" cy="459.68" r="0.75" fill="#222"/>
<text x="769.9" y="424.4" font-size="5" text-anchor="middle" fill="#333">p = 0.860</text>
<path d="M762.59 431.52V433.85M762.59 438.52V438.52" stroke="#444" stroke-width="0.85"/>
<rect x="757.29" y="433.85" width="10.60" height="4.66" fill="#7B9FD9" stroke="#3d3d3d" stroke-width="0.7"/>
<path d="M757.29 436.02h10.60" stroke="#33415F" stroke-width="1.0"/>
<circle cx="762.59" cy="446.10" r="0.75" fill="#222"/>
<path d="M773.59 429.02V432.27M773.59 440.35V446.10" stroke="#444" stroke-width="0.85"/>
<rect x="768.29" y="432.27" width="10.60" height="8.08" fill="#D8222B" stroke="#3d3d3d" stroke-width="0.7"/>
<path d="M768.29 435.18h10.60" stroke="#6E1A1E" stroke-width="1.0"/>
<text x="802.6" y="424.4" font-size="5" text-anchor="middle" fill="#333">p = 0.916</text>
<path d="M795.32 432.94V435.68M795.32 441.43V445.26" stroke="#444" stroke-width="0.85"/>
<rect x="790.02" y="435.68" width="10.60" height="5.75" fill="#7B9FD9" stroke="#3d3d3d" stroke-width="0.7"/>
<path d="M790.02 438.02h10.60" stroke="#33415F" stroke-width="1.0"/>
<path d="M806.32 434.94V438.02M806.32 441.85V444.18" stroke="#444" stroke-width="0.85"/>
<rect x="801.02" y="438.02" width="10.60" height="3.83" fill="#D8222B" stroke="#3d3d3d" stroke-width="0.7"/>
<path d="M801.02 439.60h10.60" stroke="#6E1A1E" stroke-width="1.0"/>
<circle cx="806.32" cy="449.68" r="0.75" fill="#222"/>
<text x="835.3" y="424.4" font-size="5" text-anchor="middle" fill="#333">p = 0.860</text>
<path d="M828.05 423.27V432.10M828.05 439.27V443.93" stroke="#444" stroke-width="0.85"/>
<rect x="822.75" y="432.10" width="10.60" height="7.16" fill="#7B9FD9" stroke="#3d3d3d" stroke-width="0.7"/>
<path d="M822.75 436.02h10.60" stroke="#33415F" stroke-width="1.0"/>
<path d="M839.05 427.94V431.52M839.05 439.60V445.01" stroke="#444" stroke-width="0.85"/>
<rect x="833.75" y="431.52" width="10.60" height="8.08" fill="#D8222B" stroke="#3d3d3d" stroke-width="0.7"/>
<path d="M833.75 433.85h10.60" stroke="#6E1A1E" stroke-width="1.0"/>
<path d="M324.2 477.30H853.3" stroke="#EBEBEB" stroke-width="0.7"/>
<path d="M324.2 477.30h-2" stroke="#333" stroke-width="0.6"/>
<text x="321.6" y="479.40" font-size="6" text-anchor="end" fill="#333">2</text>
<path d="M324.2 487.30H853.3" stroke="#EBEBEB" stroke-width="0.7"/>
<path d="M324.2 487.30h-2" stroke="#333" stroke-width="0.6"/>
<text x="321.6" y="489.40" font-size="6" text-anchor="end" fill="#333">1</text>
<path d="M324.2 497.30H853.3" stroke="#EBEBEB" stroke-width="0.7"/>
<path d="M324.2 497.30h-2" stroke="#333" stroke-width="0.6"/>
<text x="321.6" y="499.40" font-size="6" text-anchor="end" fill="#333">0</text>
<path d="M324.2 507.30H853.3" stroke="#EBEBEB" stroke-width="0.7"/>
<path d="M324.2 507.30h-2" stroke="#333" stroke-width="0.6"/>
<text x="321.6" y="509.40" font-size="6" text-anchor="end" fill="#333">−1</text>
<path d="M324.2 517.30H853.3" stroke="#EBEBEB" stroke-width="0.7"/>
<path d="M324.2 517.30h-2" stroke="#333" stroke-width="0.6"/>
<text x="321.6" y="519.40" font-size="6" text-anchor="end" fill="#333">−2</text>
<text transform="translate(311.8,493.8) rotate(-90)" font-size="7.9" text-anchor="middle" fill="#111">Glutathione</text>
<text x="344.4" y="477.2" font-size="5" text-anchor="middle" fill="#333">p = 0.016</text>
<path d="M337.10 500.40V500.40M337.10 505.00V506.80" stroke="#444" stroke-width="0.85"/>
<rect x="331.80" y="500.40" width="10.60" height="4.60" fill="#7B9FD9" stroke="#3d3d3d" stroke-width="0.7"/>
<path d="M331.80 504.10h10.60" stroke="#33415F" stroke-width="1.0"/>
<circle cx="337.10" cy="490.70" r="0.75" fill="#222"/>
<circle cx="337.10" cy="493.00" r="0.75" fill="#222"/>
<path d="M348.10 495.30V505.00M348.10 511.10V514.20" stroke="#444" stroke-width="0.85"/>
<rect x="342.80" y="505.00" width="10.60" height="6.10" fill="#D8222B" stroke="#3d3d3d" stroke-width="0.7"/>
<path d="M342.80 508.40h10.60" stroke="#6E1A1E" stroke-width="1.0"/>
<text x="377.1" y="477.2" font-size="5" text-anchor="middle" fill="#333">p = 0.185</text>
<path d="M369.83 493.00V498.10M369.83 508.40V512.70" stroke="#444" stroke-width="0.85"/>
<rect x="364.53" y="498.10" width="10.60" height="10.30" fill="#7B9FD9" stroke="#3d3d3d" stroke-width="0.7"/>
<path d="M364.53 502.20h10.60" stroke="#33415F" stroke-width="1.0"/>
<path d="M380.83 498.10V503.80M380.83 509.60V512.20" stroke="#444" stroke-width="0.85"/>
<rect x="375.53" y="503.80" width="10.60" height="5.80" fill="#D8222B" stroke="#3d3d3d" stroke-width="0.7"/>
<path d="M375.53 506.50h10.60" stroke="#6E1A1E" stroke-width="1.0"/>
<text x="409.9" y="477.2" font-size="5" text-anchor="middle" fill="#333">p = 0.104</text>
<path d="M402.56 491.80V496.40M402.56 501.80V506.80" stroke="#444" stroke-width="0.85"/>
<rect x="397.26" y="496.40" width="10.60" height="5.40" fill="#7B9FD9" stroke="#3d3d3d" stroke-width="0.7"/>
<path d="M397.26 498.40h10.60" stroke="#33415F" stroke-width="1.0"/>
<circle cx="402.56" cy="486.10" r="0.75" fill="#222"/>
<circle cx="402.56" cy="510.20" r="0.75" fill="#222"/>
<path d="M413.56 498.80V501.80M413.56 505.60V508.40" stroke="#444" stroke-width="0.85"/>
<rect x="408.26" y="501.80" width="10.60" height="3.80" fill="#D8222B" stroke="#3d3d3d" stroke-width="0.7"/>
<path d="M408.26 503.50h10.60" stroke="#6E1A1E" stroke-width="1.0"/>
<circle cx="413.56" cy="491.80" r="0.75" fill="#222"/>
<text x="442.6" y="477.2" font-size="5" text-anchor="middle" fill="#333">p = 0.860</text>
<path d="M435.29 496.10V502.20M435.29 512.20V515.30" stroke="#444" stroke-width="0.85"/>
<rect x="429.99" y="502.20" width="10.60" height="10.00" fill="#7B9FD9" stroke="#3d3d3d" stroke-width="0.7"/>
<path d="M429.99 511.10h10.60" stroke="#33415F" stroke-width="1.0"/>
<path d="M446.29 498.40V505.00M446.29 510.70V514.50" stroke="#444" stroke-width="0.85"/>
<rect x="440.99" y="505.00" width="10.60" height="5.70" fill="#D8222B" stroke="#3d3d3d" stroke-width="0.7"/>
<path d="M440.99 507.60h10.60" stroke="#6E1A1E" stroke-width="1.0"/>
<text x="475.3" y="477.2" font-size="5" text-anchor="middle" fill="#333">p = 0.547</text>
<path d="M468.02 493.30V502.70M468.02 515.60V517.90" stroke="#444" stroke-width="0.85"/>
<rect x="462.72" y="502.70" width="10.60" height="12.90" fill="#7B9FD9" stroke="#3d3d3d" stroke-width="0.7"/>
<path d="M462.72 504.50h10.60" stroke="#33415F" stroke-width="1.0"/>
<path d="M479.02 496.40V501.90M479.02 509.90V514.50" stroke="#444" stroke-width="0.85"/>
<rect x="473.72" y="501.90" width="10.60" height="8.00" fill="#D8222B" stroke="#3d3d3d" stroke-width="0.7"/>
<path d="M473.72 506.10h10.60" stroke="#6E1A1E" stroke-width="1.0"/>
<text x="508.1" y="477.2" font-size="5" text-anchor="middle" fill="#333">p = 1.000</text>
<path d="M500.75 512.50V512.50M500.75 513.50V513.50" stroke="#444" stroke-width="0.85"/>
<rect x="495.45" y="512.50" width="10.60" height="1.00" fill="#7B9FD9" stroke="#3d3d3d" stroke-width="0.7"/>
<path d="M495.45 513.00h10.60" stroke="#33415F" stroke-width="1.0"/>
<path d="M511.75 505.60V506.50M511.75 516.40V521.00" stroke="#444" stroke-width="0.85"/>
<rect x="506.45" y="506.50" width="10.60" height="9.90" fill="#D8222B" stroke="#3d3d3d" stroke-width="0.7"/>
<path d="M506.45 510.70h10.60" stroke="#6E1A1E" stroke-width="1.0"/>
<text x="540.8" y="477.2" font-size="5" text-anchor="middle" fill="#333">p = 0.094</text>
<path d="M533.48 489.90V496.80M533.48 509.60V512.20" stroke="#444" stroke-width="0.85"/>
<rect x="528.18" y="496.80" width="10.60" height="12.80" fill="#7B9FD9" stroke="#3d3d3d" stroke-width="0.7"/>
<path d="M528.18 502.70h10.60" stroke="#33415F" stroke-width="1.0"/>
<path d="M544.48 501.00V505.80M544.48 514.10V518.40" stroke="#444" stroke-width="0.85"/>
<rect x="539.18" y="505.80" width="10.60" height="8.30" fill="#D8222B" stroke="#3d3d3d" stroke-width="0.7"/>
<path d="M539.18 508.70h10.60" stroke="#6E1A1E" stroke-width="1.0"/>
<text x="573.5" y="477.2" font-size="5" text-anchor="middle" fill="#333">p = 0.202</text>
<path d="M566.21 476.80V485.30M566.21 495.30V502.50" stroke="#444" stroke-width="0.85"/>
<rect x="560.91" y="485.30" width="10.60" height="10.00" fill="#7B9FD9" stroke="#3d3d3d" stroke-width="0.7"/>
<path d="M560.91 489.60h10.60" stroke="#33415F" stroke-width="1.0"/>
<path d="M577.21 495.30V495.30M577.21 497.30V497.30" stroke="#444" stroke-width="0.85"/>
<rect x="571.91" y="495.30" width="10.60" height="2.00" fill="#D8222B" stroke="#3d3d3d" stroke-width="0.7"/>
<path d="M571.91 496.10h10.60" stroke="#6E1A1E" stroke-width="1.0"/>
<circle cx="577.21" cy="488.70" r="0.75" fill="#222"/>
<circle cx="577.21" cy="514.20" r="0.75" fill="#222"/>
<text x="606.2" y="477.2" font-size="5" text-anchor="middle" fill="#333">p = 0.817</text>
<path d="M598.94 477.10V481.80M598.94 493.00V493.80" stroke="#444" stroke-width="0.85"/>
<rect x="593.64" y="481.80" width="10.60" height="11.20" fill="#7B9FD9" stroke="#3d3d3d" stroke-width="0.7"/>
<path d="M593.64 485.30h10.60" stroke="#33415F" stroke-width="1.0"/>
<circle cx="598.94" cy="510.40" r="0.75" fill="#222"/>
<circle cx="598.94" cy="511.90" r="0.75" fill="#222"/>
<path d="M609.94 481.80V483.50M609.94 489.50V490.40" stroke="#444" stroke-width="0.85"/>
<rect x="604.64" y="483.50" width="10.60" height="6.00" fill="#D8222B" stroke="#3d3d3d" stroke-width="0.7"/>
<path d="M604.64 485.80h10.60" stroke="#6E1A1E" stroke-width="1.0"/>
<circle cx="609.94" cy="507.10" r="0.75" fill="#222"/>
<text x="639.0" y="477.2" font-size="5" text-anchor="middle" fill="#333">p = 0.645</text>
<path d="M631.67 485.60V490.20M631.67 496.40V505.30" stroke="#444" stroke-width="0.85"/>
<rect x="626.37" y="490.20" width="10.60" height="6.20" fill="#7B9FD9" stroke="#3d3d3d" stroke-width="0.7"/>
<path d="M626.37 496.10h10.60" stroke="#33415F" stroke-width="1.0"/>
<path d="M642.67 488.10V489.60M642.67 500.20V509.90" stroke="#444" stroke-width="0.85"/>
<rect x="637.37" y="489.60" width="10.60" height="10.60" fill="#D8222B" stroke="#3d3d3d" stroke-width="0.7"/>
<path d="M637.37 496.10h10.60" stroke="#6E1A1E" stroke-width="1.0"/>
<text x="671.7" y="477.2" font-size="5" text-anchor="middle" fill="#333">p = 0.374</text>
<path d="M664.40 483.50V485.00M664.40 490.70V493.30" stroke="#444" stroke-width="0.85"/>
<rect x="659.10" y="485.00" width="10.60" height="5.70" fill="#7B9FD9" stroke="#3d3d3d" stroke-width="0.7"/>
<path d="M659.10 487.90h10.60" stroke="#33415F" stroke-width="1.0"/>
<path d="M675.40 481.80V487.10M675.40 495.30V503.00" stroke="#444" stroke-width="0.85"/>
<rect x="670.10" y="487.10" width="10.60" height="8.20" fill="#D8222B" stroke="#3d3d3d" stroke-width="0.7"/>
<path d="M670.10 489.60h10.60" stroke="#6E1A1E" stroke-width="1.0"/>
<text x="704.4" y="477.2" font-size="5" text-anchor="middle" fill="#333">p = 0.500</text>
<path d="M697.13 484.80V490.20M697.13 496.40V502.50" stroke="#444" stroke-width="0.85"/>
<rect x="691.83" y="490.20" width="10.60" height="6.20" fill="#7B9FD9" stroke="#3d3d3d" stroke-width="0.7"/>
<path d="M691.83 492.20h10.60" stroke="#33415F" stroke-width="1.0"/>
<path d="M708.13 485.60V490.40M708.13 497.90V506.10" stroke="#444" stroke-width="0.85"/>
<rect x="702.83" y="490.40" width="10.60" height="7.50" fill="#D8222B" stroke="#3d3d3d" stroke-width="0.7"/>
<path d="M702.83 493.00h10.60" stroke="#6E1A1E" stroke-width="1.0"/>
<text x="737.2" y="477.2" font-size="5" text-anchor="middle" fill="#333">p = 0.374</text>
<path d="M729.86 476.80V480.20M729.86 493.30V500.40" stroke="#444" stroke-width="0.85"/>
<rect x="724.56" y="480.20" width="10.60" height="13.10" fill="#7B9FD9" stroke="#3d3d3d" stroke-width="0.7"/>
<path d="M724.56 483.30h10.60" stroke="#33415F" stroke-width="1.0"/>
<path d="M740.86 475.80V484.20M740.86 496.40V500.70" stroke="#444" stroke-width="0.85"/>
<rect x="735.56" y="484.20" width="10.60" height="12.20" fill="#D8222B" stroke="#3d3d3d" stroke-width="0.7"/>
<path d="M735.56 489.50h10.60" stroke="#6E1A1E" stroke-width="1.0"/>
<text x="769.9" y="477.2" font-size="5" text-anchor="middle" fill="#333">p = 0.210</text>
<path d="M762.59 478.80V482.50M762.59 487.30V490.40" stroke="#444" stroke-width="0.85"/>
<rect x="757.29" y="482.50" width="10.60" height="4.80" fill="#7B9FD9" stroke="#3d3d3d" stroke-width="0.7"/>
<path d="M757.29 484.80h10.60" stroke="#33415F" stroke-width="1.0"/>
<circle cx="762.59" cy="495.60" r="0.75" fill="#222"/>
<circle cx="762.59" cy="476.30" r="0.75" fill="#222"/>
<path d="M773.59 484.80V486.40M773.59 493.00V493.00" stroke="#444" stroke-width="0.85"/>
<rect x="768.29" y="486.40" width="10.60" height="6.60" fill="#D8222B" stroke="#3d3d3d" stroke-width="0.7"/>
<path d="M768.29 488.10h10.60" stroke="#6E1A1E" stroke-width="1.0"/>
<circle cx="773.59" cy="502.50" r="0.75" fill="#222"/>
<text x="802.6" y="477.2" font-size="5" text-anchor="middle" fill="#333">p = 0.121</text>
<path d="M795.32 489.90V493.00M795.32 499.10V501.80" stroke="#444" stroke-width="0.85"/>
<rect x="790.02" y="493.00" width="10.60" height="6.10" fill="#7B9FD9" stroke="#3d3d3d" stroke-width="0.7"/>
<path d="M790.02 496.10h10.60" stroke="#33415F" stroke-width="1.0"/>
<path d="M806.32 492.20V497.30M806.32 501.90V505.30" stroke="#444" stroke-width="0.85"/>
<rect x="801.02" y="497.30" width="10.60" height="4.60" fill="#D8222B" stroke="#3d3d3d" stroke-width="0.7"/>
<path d="M801.02 499.10h10.60" stroke="#6E1A1E" stroke-width="1.0"/>
<text x="835.3" y="477.2" font-size="5" text-anchor="middle" fill="#333">p = 0.595</text>
<path d="M828.05 485.30V488.10M828.05 493.30V494.50" stroke="#444" stroke-width="0.85"/>
<rect x="822.75" y="488.10" width="10.60" height="5.20" fill="#7B9FD9" stroke="#3d3d3d" stroke-width="0.7"/>
<path d="M822.75 490.70h10.60" stroke="#33415F" stroke-width="1.0"/>
<circle cx="828.05" cy="477.60" r="0.75" fill="#222"/>
<path d="M839.05 481.10V487.90M839.05 495.30V502.20" stroke="#444" stroke-width="0.85"/>
<rect x="833.75" y="487.90" width="10.60" height="7.40" fill="#D8222B" stroke="#3d3d3d" stroke-width="0.7"/>
<path d="M833.75 490.40h10.60" stroke="#6E1A1E" stroke-width="1.0"/>
<path d="M324.2 535.45H853.3" stroke="#EBEBEB" stroke-width="0.7"/>
<path d="M324.2 535.45h-2" stroke="#333" stroke-width="0.6"/>
<text x="321.6" y="537.55" font-size="6" text-anchor="end" fill="#333">1</text>
<path d="M324.2 546.40H853.3" stroke="#EBEBEB" stroke-width="0.7"/>
<path d="M324.2 546.40h-2" stroke="#333" stroke-width="0.6"/>
<text x="321.6" y="548.50" font-size="6" text-anchor="end" fill="#333">0</text>
<path d="M324.2 557.35H853.3" stroke="#EBEBEB" stroke-width="0.7"/>
<path d="M324.2 557.35h-2" stroke="#333" stroke-width="0.6"/>
<text x="321.6" y="559.45" font-size="6" text-anchor="end" fill="#333">−1</text>
<path d="M324.2 568.30H853.3" stroke="#EBEBEB" stroke-width="0.7"/>
<path d="M324.2 568.30h-2" stroke="#333" stroke-width="0.6"/>
<text x="321.6" y="570.40" font-size="6" text-anchor="end" fill="#333">−2</text>
<path d="M324.2 579.25H853.3" stroke="#EBEBEB" stroke-width="0.7"/>
<path d="M324.2 579.25h-2" stroke="#333" stroke-width="0.6"/>
<text x="321.6" y="581.35" font-size="6" text-anchor="end" fill="#333">−3</text>
<text transform="translate(311.8,547.3) rotate(-90)" font-size="7.9" text-anchor="middle" fill="#111">Pyruvate</text>
<text x="345.7" y="529.2" font-size="5" text-anchor="middle" fill="#333">p = 0.064</text>
<path d="M338.40 542.90V543.88M338.40 551.66V561.84" stroke="#444" stroke-width="0.85"/>
<rect x="333.10" y="543.88" width="10.60" height="7.77" fill="#7B9FD9" stroke="#3d3d3d" stroke-width="0.7"/>
<path d="M333.10 547.50h10.60" stroke="#33415F" stroke-width="1.0"/>
<path d="M349.40 538.95V541.36M349.40 546.40V547.50" stroke="#444" stroke-width="0.85"/>
<rect x="344.10" y="541.36" width="10.60" height="5.04" fill="#D8222B" stroke="#3d3d3d" stroke-width="0.7"/>
<path d="M344.10 543.66h10.60" stroke="#6E1A1E" stroke-width="1.0"/>
<circle cx="349.40" cy="554.39" r="0.75" fill="#222"/>
<text x="378.4" y="529.2" font-size="5" text-anchor="middle" fill="#333">p = 0.268</text>
<path d="M371.13 537.97V541.36M371.13 555.16V570.16" stroke="#444" stroke-width="0.85"/>
<rect x="365.83" y="541.36" width="10.60" height="13.80" fill="#7B9FD9" stroke="#3d3d3d" stroke-width="0.7"/>
<path d="M365.83 546.40h10.60" stroke="#33415F" stroke-width="1.0"/>
<path d="M382.13 538.95V541.80M382.13 545.96V546.40" stroke="#444" stroke-width="0.85"/>
<rect x="376.83" y="541.80" width="10.60" height="4.16" fill="#D8222B" stroke="#3d3d3d" stroke-width="0.7"/>
<path d="M376.83 543.66h10.60" stroke="#6E1A1E" stroke-width="1.0"/>
<text x="411.2" y="529.2" font-size="5" text-anchor="middle" fill="#333">p = 0.210</text>
<path d="M403.86 538.95V545.96M403.86 556.69V568.63" stroke="#444" stroke-width="0.85"/>
<rect x="398.56" y="545.96" width="10.60" height="10.73" fill="#7B9FD9" stroke="#3d3d3d" stroke-width="0.7"/>
<path d="M398.56 556.25h10.60" stroke="#33415F" stroke-width="1.0"/>
<circle cx="403.86" cy="579.36" r="0.75" fill="#222"/>
<path d="M414.86 536.65V540.49M414.86 552.53V562.39" stroke="#444" stroke-width="0.85"/>
<rect x="409.56" y="540.49" width="10.60" height="12.04" fill="#D8222B" stroke="#3d3d3d" stroke-width="0.7"/>
<path d="M409.56 545.52h10.60" stroke="#6E1A1E" stroke-width="1.0"/>
<text x="443.9" y="529.2" font-size="5" text-anchor="middle" fill="#333">p = 0.030</text>
<path d="M436.59 541.36V552.53M436.59 573.67V580.35" stroke="#444" stroke-width="0.85"/>
<rect x="431.29" y="552.53" width="10.60" height="21.13" fill="#7B9FD9" stroke="#3d3d3d" stroke-width="0.7"/>
<path d="M431.29 560.63h10.60" stroke="#33415F" stroke-width="1.0"/>
<path d="M447.59 538.95V543.33M447.59 553.63V560.63" stroke="#444" stroke-width="0.85"/>
<rect x="442.29" y="543.33" width="10.60" height="10.29" fill="#D8222B" stroke="#3d3d3d" stroke-width="0.7"/>
<path d="M442.29 547.93h10.60" stroke="#6E1A1E" stroke-width="1.0"/>
<text x="476.6" y="529.2" font-size="5" text-anchor="middle" fill="#333">p = 0.140</text>
<path d="M469.32 543.88V553.30M469.32 563.26V574.76" stroke="#444" stroke-width="0.85"/>
<rect x="464.02" y="553.30" width="10.60" height="9.96" fill="#7B9FD9" stroke="#3d3d3d" stroke-width="0.7"/>
<path d="M464.02 554.83h10.60" stroke="#33415F" stroke-width="1.0"/>
<path d="M480.32 542.90V544.43M480.32 557.24V565.56" stroke="#444" stroke-width="0.85"/>
<rect x="475.02" y="544.43" width="10.60" height="12.81" fill="#D8222B" stroke="#3d3d3d" stroke-width="0.7"/>
<path d="M475.02 550.56h10.60" stroke="#6E1A1E" stroke-width="1.0"/>
<text x="509.3" y="529.2" font-size="5" text-anchor="middle" fill="#333">p = 1.000</text>
<path d="M502.05 547.06V552.53M502.05 563.70V569.07" stroke="#444" stroke-width="0.85"/>
<rect x="496.75" y="552.53" width="10.60" height="11.17" fill="#7B9FD9" stroke="#3d3d3d" stroke-width="0.7"/>
<path d="M496.75 558.23h10.60" stroke="#33415F" stroke-width="1.0"/>
<path d="M513.05 541.80V542.57M513.05 575.97V578.81" stroke="#444" stroke-width="0.85"/>
<rect x="507.75" y="542.57" width="10.60" height="33.40" fill="#D8222B" stroke="#3d3d3d" stroke-width="0.7"/>
<path d="M507.75 558.99h10.60" stroke="#6E1A1E" stroke-width="1.0"/>
<text x="542.1" y="529.2" font-size="5" text-anchor="middle" fill="#333">p = 0.613</text>
<path d="M534.78 538.74V544.43M534.78 549.79V555.93" stroke="#444" stroke-width="0.85"/>
<rect x="529.48" y="544.43" width="10.60" height="5.37" fill="#7B9FD9" stroke="#3d3d3d" stroke-width="0.7"/>
<path d="M529.48 545.96h10.60" stroke="#33415F" stroke-width="1.0"/>
<path d="M545.78 537.97V543.33M545.78 562.93V566.77" stroke="#444" stroke-width="0.85"/>
<rect x="540.48" y="543.33" width="10.60" height="19.60" fill="#D8222B" stroke="#3d3d3d" stroke-width="0.7"/>
<path d="M540.48 547.06h10.60" stroke="#6E1A1E" stroke-width="1.0"/>
<text x="574.8" y="529.2" font-size="5" text-anchor="middle" fill="#333">p = 0.876</text>
<path d="M567.51 533.15V534.36M567.51 542.13V545.20" stroke="#444" stroke-width="0.85"/>
<rect x="562.21" y="534.36" width="10.60" height="7.77" fill="#7B9FD9" stroke="#3d3d3d" stroke-width="0.7"/>
<path d="M562.21 537.75h10.60" stroke="#33415F" stroke-width="1.0"/>
<path d="M578.51 536.65V536.65M578.51 537.31V537.31" stroke="#444" stroke-width="0.85"/>
<rect x="573.21" y="536.65" width="10.60" height="0.66" fill="#D8222B" stroke="#3d3d3d" stroke-width="0.7"/>
<path d="M573.21 536.98h10.60" stroke="#6E1A1E" stroke-width="1.0"/>
<circle cx="578.51" cy="547.50" r="0.75" fill="#222"/>
<text x="607.5" y="529.2" font-size="5" text-anchor="middle" fill="#333">p = 0.393</text>
<path d="M600.24 530.96V535.56M600.24 549.79V566.77" stroke="#444" stroke-width="0.85"/>
<rect x="594.94" y="535.56" width="10.60" height="14.24" fill="#7B9FD9" stroke="#3d3d3d" stroke-width="0.7"/>
<path d="M594.94 543.66h10.60" stroke="#33415F" stroke-width="1.0"/>
<circle cx="600.24" cy="572.13" r="0.75" fill="#222"/>
<path d="M611.24 533.15V534.03M611.24 543.66V547.50" stroke="#444" stroke-width="0.85"/>
<rect x="605.94" y="534.03" width="10.60" height="9.64" fill="#D8222B" stroke="#3d3d3d" stroke-width="0.7"/>
<path d="M605.94 535.12h10.60" stroke="#6E1A1E" stroke-width="1.0"/>
<circle cx="611.24" cy="566.44" r="0.75" fill="#222"/>
<text x="640.3" y="529.2" font-size="5" text-anchor="middle" fill="#333">p = 0.336</text>
<path d="M632.97 536.22V543.66M632.97 552.53V559.87" stroke="#444" stroke-width="0.85"/>
<rect x="627.67" y="543.66" width="10.60" height="8.87" fill="#7B9FD9" stroke="#3d3d3d" stroke-width="0.7"/>
<path d="M627.67 549.79h10.60" stroke="#33415F" stroke-width="1.0"/>
<circle cx="632.97" cy="572.13" r="0.75" fill="#222"/>
<path d="M643.97 539.72V541.80M643.97 548.26V555.16" stroke="#444" stroke-width="0.85"/>
<rect x="638.67" y="541.80" width="10.60" height="6.46" fill="#D8222B" stroke="#3d3d3d" stroke-width="0.7"/>
<path d="M638.67 542.90h10.60" stroke="#6E1A1E" stroke-width="1.0"/>
<circle cx="643.97" cy="580.35" r="0.75" fill="#222"/>
<text x="673.0" y="529.2" font-size="5" text-anchor="middle" fill="#333">p = 0.860</text>
<path d="M665.70 529.43V530.52M665.70 537.75V543.66" stroke="#444" stroke-width="0.85"/>
<rect x="660.40" y="530.52" width="10.60" height="7.23" fill="#7B9FD9" stroke="#3d3d3d" stroke-width="0.7"/>
<path d="M660.40 533.15h10.60" stroke="#33415F" stroke-width="1.0"/>
<circle cx="665.70" cy="550.56" r="0.75" fill="#222"/>
<path d="M676.70 530.08V531.29M676.70 537.75V545.96" stroke="#444" stroke-width="0.85"/>
<rect x="671.40" y="531.29" width="10.60" height="6.46" fill="#D8222B" stroke="#3d3d3d" stroke-width="0.7"/>
<path d="M671.40 533.15h10.60" stroke="#6E1A1E" stroke-width="1.0"/>
<text x="705.7" y="529.2" font-size="5" text-anchor="middle" fill="#333">p = 0.547</text>
<path d="M698.43 535.89V539.28M698.43 549.79V555.16" stroke="#444" stroke-width="0.85"/>
<rect x="693.13" y="539.28" width="10.60" height="10.51" fill="#7B9FD9" stroke="#3d3d3d" stroke-width="0.7"/>
<path d="M693.13 543.12h10.60" stroke="#33415F" stroke-width="1.0"/>
<circle cx="698.43" cy="572.57" r="0.75" fill="#222"/>
<path d="M709.43 532.82V536.65M709.43 547.50V559.87" stroke="#444" stroke-width="0.85"/>
<rect x="704.13" y="536.65" width="10.60" height="10.84" fill="#D8222B" stroke="#3d3d3d" stroke-width="0.7"/>
<path d="M704.13 542.13h10.60" stroke="#6E1A1E" stroke-width="1.0"/>
<text x="738.5" y="529.2" font-size="5" text-anchor="middle" fill="#333">p = 0.687</text>
<path d="M731.16 535.12V540.49M731.16 549.47V561.40" stroke="#444" stroke-width="0.85"/>
<rect x="725.86" y="540.49" width="10.60" height="8.98" fill="#7B9FD9" stroke="#3d3d3d" stroke-width="0.7"/>
<path d="M725.86 542.13h10.60" stroke="#33415F" stroke-width="1.0"/>
<circle cx="731.16" cy="569.50" r="0.75" fill="#222"/>
<path d="M742.16 534.36V535.12M742.16 560.31V571.69" stroke="#444" stroke-width="0.85"/>
<rect x="736.86" y="535.12" width="10.60" height="25.19" fill="#D8222B" stroke="#3d3d3d" stroke-width="0.7"/>
<path d="M736.86 540.49h10.60" stroke="#6E1A1E" stroke-width="1.0"/>
<text x="771.2" y="529.2" font-size="5" text-anchor="middle" fill="#333">p = 0.595</text>
<path d="M763.89 539.28V542.90M763.89 547.06V549.03" stroke="#444" stroke-width="0.85"/>
<rect x="758.59" y="542.90" width="10.60" height="4.16" fill="#7B9FD9" stroke="#3d3d3d" stroke-width="0.7"/>
<path d="M758.59 544.87h10.60" stroke="#33415F" stroke-width="1.0"/>
<circle cx="763.89" cy="554.39" r="0.75" fill="#222"/>
<path d="M774.89 535.56V537.97M774.89 555.49V568.63" stroke="#444" stroke-width="0.85"/>
<rect x="769.59" y="537.97" width="10.60" height="17.52" fill="#D8222B" stroke="#3d3d3d" stroke-width="0.7"/>
<path d="M769.59 541.58h10.60" stroke="#6E1A1E" stroke-width="1.0"/>
<text x="803.9" y="529.2" font-size="5" text-anchor="middle" fill="#333">p = 0.916</text>
<path d="M796.62 535.12V537.75M796.62 543.66V547.50" stroke="#444" stroke-width="0.85"/>
<rect x="791.32" y="537.75" width="10.60" height="5.91" fill="#7B9FD9" stroke="#3d3d3d" stroke-width="0.7"/>
<path d="M791.32 541.36h10.60" stroke="#33415F" stroke-width="1.0"/>
<circle cx="796.62" cy="552.86" r="0.75" fill="#222"/>
<path d="M807.62 537.75V537.75M807.62 545.52V545.52" stroke="#444" stroke-width="0.85"/>
<rect x="802.32" y="537.75" width="10.60" height="7.77" fill="#D8222B" stroke="#3d3d3d" stroke-width="0.7"/>
<path d="M802.32 539.72h10.60" stroke="#6E1A1E" stroke-width="1.0"/>
<text x="836.6" y="529.2" font-size="5" text-anchor="middle" fill="#333">p = 0.972</text>
<path d="M829.35 527.89V534.36M829.35 542.35V549.03" stroke="#444" stroke-width="0.85"/>
<rect x="824.05" y="534.36" width="10.60" height="7.99" fill="#7B9FD9" stroke="#3d3d3d" stroke-width="0.7"/>
<path d="M824.05 539.28h10.60" stroke="#33415F" stroke-width="1.0"/>
<path d="M840.35 533.15V536.22M840.35 541.80V547.50" stroke="#444" stroke-width="0.85"/>
<rect x="835.05" y="536.22" width="10.60" height="5.58" fill="#D8222B" stroke="#3d3d3d" stroke-width="0.7"/>
<path d="M835.05 538.95h10.60" stroke="#6E1A1E" stroke-width="1.0"/>
<path d="M324.2 313.2V583.1H853.3" fill="none" stroke="#222" stroke-width="1.0"/>
<path d="M343.8 583.1v2" stroke="#222" stroke-width="0.8"/>
<text transform="translate(351.0,590.9) rotate(-25)" font-size="7.4" text-anchor="end" fill="#111">CD4+ T cells</text>
<path d="M376.5 583.1v2" stroke="#222" stroke-width="0.8"/>
<text transform="translate(383.0,590.9) rotate(-25)" font-size="7.4" text-anchor="end" fill="#111">CD8+ T cells</text>
<path d="M409.3 583.1v2" stroke="#222" stroke-width="0.8"/>
<text transform="translate(419.0,590.9) rotate(-25)" font-size="7.4" text-anchor="end" fill="#111">Cycling T−cells</text>
<path d="M442.0 583.1v2" stroke="#222" stroke-width="0.8"/>
<text transform="translate(446.0,590.9) rotate(-25)" font-size="7.4" text-anchor="end" fill="#111">NK cells</text>
<path d="M474.7 583.1v2" stroke="#222" stroke-width="0.8"/>
<text transform="translate(480.7,590.9) rotate(-25)" font-size="7.4" text-anchor="end" fill="#111">NKT cells</text>
<path d="M507.4 583.1v2" stroke="#222" stroke-width="0.8"/>
<text transform="translate(512.5,590.9) rotate(-25)" font-size="7.4" text-anchor="end" fill="#111">Naive B cells</text>
<path d="M540.2 583.1v2" stroke="#222" stroke-width="0.8"/>
<text transform="translate(545.3,590.9) rotate(-25)" font-size="7.4" text-anchor="end" fill="#111">Memory B cells</text>
<path d="M572.9 583.1v2" stroke="#222" stroke-width="0.8"/>
<text transform="translate(581.5,590.9) rotate(-25)" font-size="7.4" text-anchor="end" fill="#111">Plasmablasts</text>
<path d="M605.6 583.1v2" stroke="#222" stroke-width="0.8"/>
<text transform="translate(609.0,590.9) rotate(-25)" font-size="7.4" text-anchor="end" fill="#111">Cycling Myeloid</text>
<path d="M638.4 583.1v2" stroke="#222" stroke-width="0.8"/>
<text transform="translate(642.0,590.9) rotate(-25)" font-size="7.4" text-anchor="end" fill="#111">DCs</text>
<path d="M671.1 583.1v2" stroke="#222" stroke-width="0.8"/>
<text transform="translate(677.5,590.9) rotate(-25)" font-size="7.4" text-anchor="end" fill="#111">Macrophage</text>
<path d="M703.8 583.1v2" stroke="#222" stroke-width="0.8"/>
<text transform="translate(709.4,590.9) rotate(-25)" font-size="7.4" text-anchor="end" fill="#111">Monocyte</text>
<path d="M736.6 583.1v2" stroke="#222" stroke-width="0.8"/>
<text transform="translate(743.9,590.9) rotate(-25)" font-size="7.4" text-anchor="end" fill="#111">MSC iCAF−like CAFs</text>
<path d="M769.3 583.1v2" stroke="#222" stroke-width="0.8"/>
<text transform="translate(776.5,590.9) rotate(-25)" font-size="7.4" text-anchor="end" fill="#111">myCAF−like CAFs</text>
<path d="M802.0 583.1v2" stroke="#222" stroke-width="0.8"/>
<text transform="translate(808.4,590.9) rotate(-25)" font-size="7.4" text-anchor="end" fill="#111">Endothelial</text>
<path d="M834.8 583.1v2" stroke="#222" stroke-width="0.8"/>
<text transform="translate(839.6,590.9) rotate(-25)" font-size="7.4" text-anchor="end" fill="#111">PVL</text>
<text x="525.5" y="310.9" font-size="8.8" fill="#222">Immune state</text>
<path d="M586.2 302.4v8.6" stroke="#4a4a4a" stroke-width="0.6"/>
<rect x="581.6" y="303.8" width="9.2" height="5.8" fill="#7B9FD9" stroke="#4a4a4a" stroke-width="0.6"/>
<path d="M581.6 306.7h9.2" stroke="#33415F" stroke-width="1"/>
<text x="596.3" y="309.5" font-size="7.6" fill="#111">Cold</text>
<path d="M623.0 302.4v8.6" stroke="#4a4a4a" stroke-width="0.6"/>
<rect x="618.4" y="303.8" width="9.2" height="5.8" fill="#D8222B" stroke="#4a4a4a" stroke-width="0.6"/>
<path d="M618.4 306.7h9.2" stroke="#6E1A1E" stroke-width="1"/>
<text x="633.1" y="309.5" font-size="7.6" fill="#111">Hot</text>
</svg></body></html>
